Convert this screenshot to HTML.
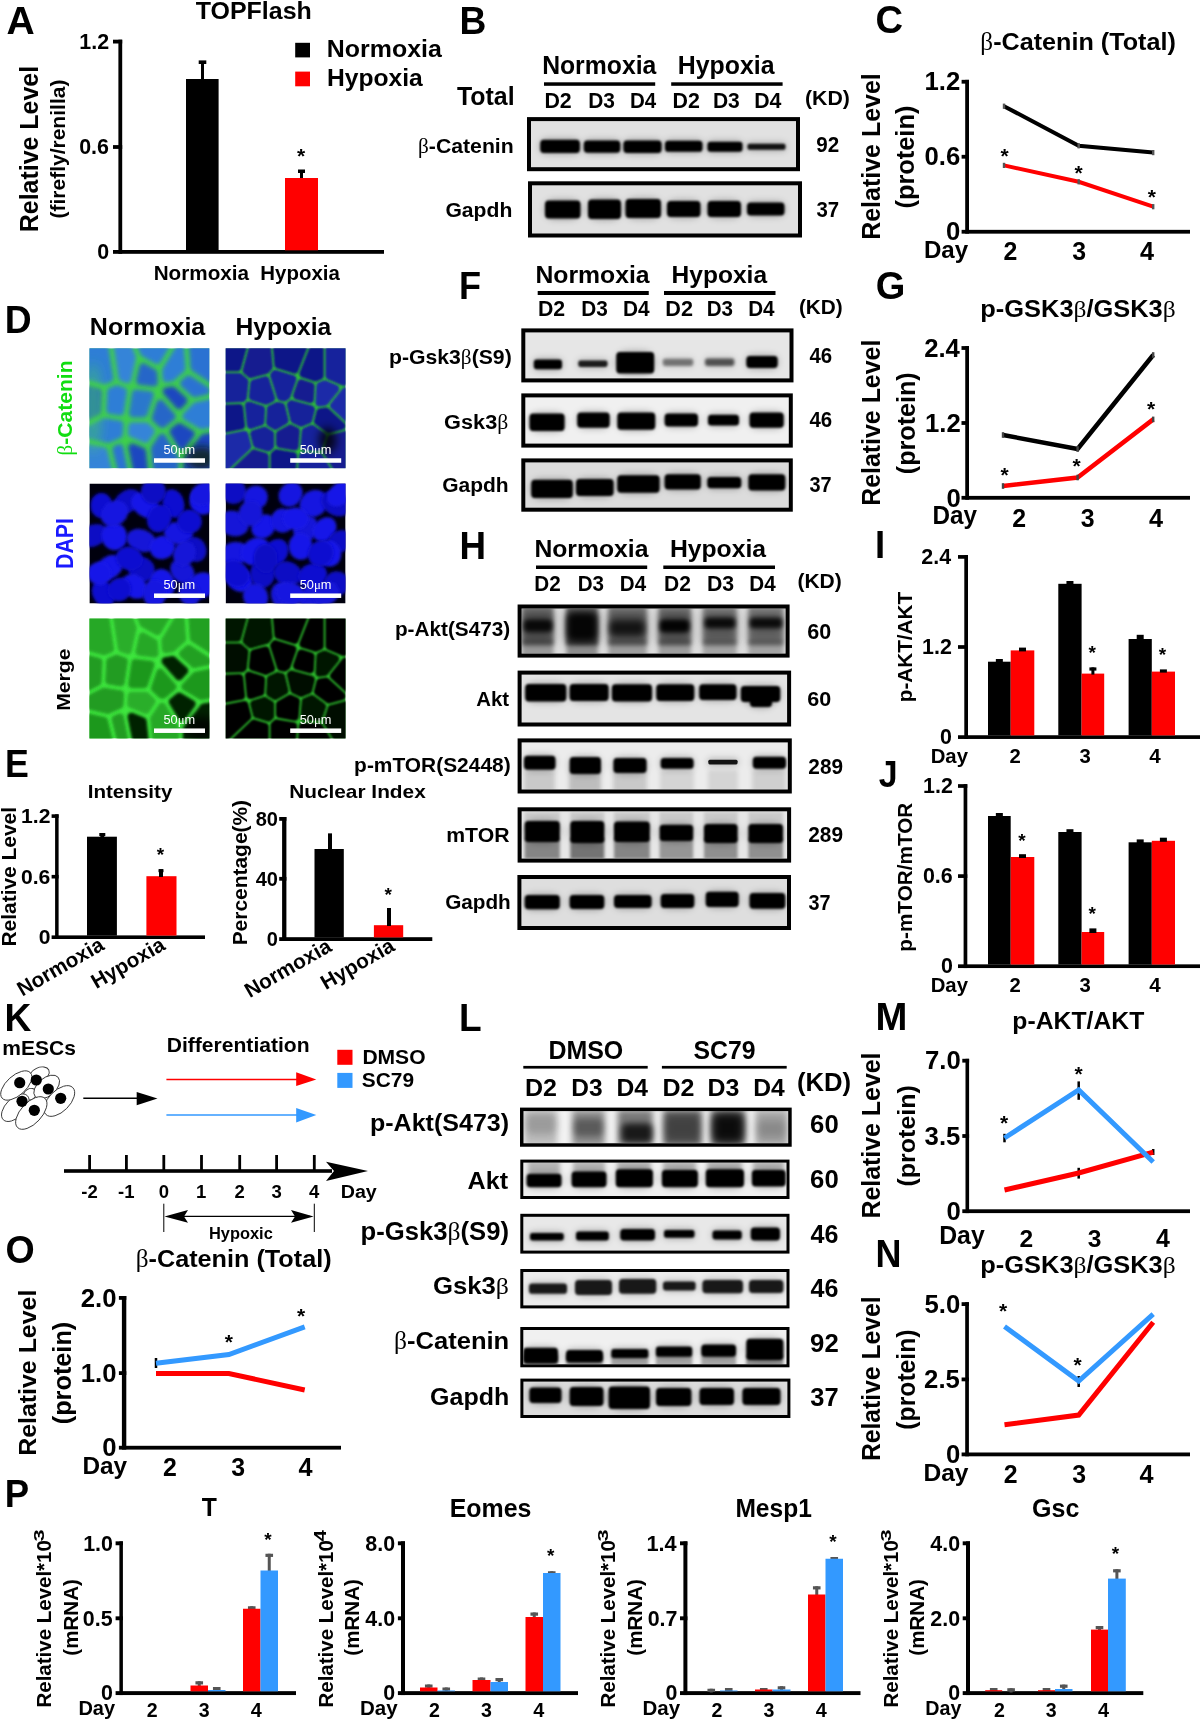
<!DOCTYPE html>
<html><head><meta charset="utf-8"><style>html,body{margin:0;padding:0;background:#fff;width:1200px;height:1721px;overflow:hidden}svg{display:block;will-change:transform}text{white-space:pre}</style></head>
<body><svg width="1200" height="1721" viewBox="0 0 1200 1721"><defs><filter id="f06" x="-50%" y="-150%" width="200%" height="400%"><feGaussianBlur stdDeviation="0.6"/></filter><filter id="f1" x="-50%" y="-150%" width="200%" height="400%"><feGaussianBlur stdDeviation="1.0"/></filter><filter id="f15" x="-50%" y="-150%" width="200%" height="400%"><feGaussianBlur stdDeviation="1.5"/></filter><filter id="f2" x="-50%" y="-150%" width="200%" height="400%"><feGaussianBlur stdDeviation="2.0"/></filter><filter id="f3" x="-50%" y="-150%" width="200%" height="400%"><feGaussianBlur stdDeviation="3.0"/></filter><filter id="f4" x="-50%" y="-150%" width="200%" height="400%"><feGaussianBlur stdDeviation="4.0"/></filter><filter id="f6" x="-50%" y="-150%" width="200%" height="400%"><feGaussianBlur stdDeviation="6.0"/></filter><clipPath id="c1"><rect x="531" y="121.1" width="265" height="46.099999999999994"/></clipPath><clipPath id="c2"><rect x="532" y="185.3" width="266" height="48.19999999999999"/></clipPath><clipPath id="flbc_n1"><rect x="89.4" y="348.3" width="120" height="120"/></clipPath><clipPath id="flbc_h2"><rect x="225.6" y="348.3" width="120" height="120"/></clipPath><clipPath id="fldapi_n11"><rect x="89.4" y="483.5" width="120" height="120"/></clipPath><clipPath id="fldapi_h12"><rect x="225.6" y="483.5" width="120" height="120"/></clipPath><clipPath id="flmg_n21"><rect x="89.4" y="618.5" width="120" height="120"/></clipPath><clipPath id="flmg_h22"><rect x="225.6" y="618.5" width="120" height="120"/></clipPath><clipPath id="c3"><rect x="525.3" y="332.4" width="264.20000000000005" height="46.0"/></clipPath><clipPath id="c4"><rect x="525.3" y="397.4" width="263.5" height="46.200000000000045"/></clipPath><clipPath id="c5"><rect x="525.3" y="462.4" width="263.5" height="45.30000000000001"/></clipPath><clipPath id="c6"><rect x="521.6" y="608.5" width="264.0" height="45.10000000000002"/></clipPath><clipPath id="c7"><rect x="521.6" y="674.6" width="265.5" height="47.89999999999998"/></clipPath><clipPath id="c8"><rect x="521.6" y="742.4" width="266.19999999999993" height="47.10000000000002"/></clipPath><clipPath id="c9"><rect x="521.6" y="811.3" width="265.5" height="47.30000000000007"/></clipPath><clipPath id="c10"><rect x="521.4" y="879" width="265.6" height="47"/></clipPath><clipPath id="c11"><rect x="523.5" y="1111.1" width="264.70000000000005" height="32.15000000000009"/></clipPath><clipPath id="c12"><rect x="523.3" y="1162.6" width="263.20000000000005" height="33.40000000000009"/></clipPath><clipPath id="c13"><rect x="523.3" y="1216.8" width="263.20000000000005" height="33.799999999999955"/></clipPath><clipPath id="c14"><rect x="523.3" y="1272" width="263.20000000000005" height="33.40000000000009"/></clipPath><clipPath id="c15"><rect x="523.3" y="1330" width="263.20000000000005" height="34.299999999999955"/></clipPath><clipPath id="c16"><rect x="523.4" y="1381.6" width="264.0" height="33.40000000000009"/></clipPath></defs><text x="6.52" y="33.70" font-family="Liberation Sans" font-weight="bold" font-size="39.13" fill="#000" textLength="28.24" lengthAdjust="spacingAndGlyphs">A</text>
<text x="195.75" y="19.00" font-family="Liberation Sans" font-weight="bold" font-size="24.83" fill="#000" textLength="116.04" lengthAdjust="spacingAndGlyphs">TOPFlash</text>
<rect x="118.40" y="39.70" width="3.80" height="214.10" fill="#000" />
<rect x="113.00" y="39.70" width="9.20" height="3.80" fill="#000" />
<rect x="113.00" y="145.10" width="9.20" height="3.80" fill="#000" />
<rect x="113.00" y="250.00" width="271.00" height="3.80" fill="#000" />
<text x="79.27" y="48.80" font-family="Liberation Sans" font-weight="bold" font-size="21.43" fill="#000">1.2</text>
<text x="79.16" y="154.20" font-family="Liberation Sans" font-weight="bold" font-size="21.43" fill="#000">0.6</text>
<text x="97.16" y="259.10" font-family="Liberation Sans" font-weight="bold" font-size="21.43" fill="#000">0</text>
<text x="-1.62" y="0.00" font-family="Liberation Sans" font-weight="bold" font-size="25.86" fill="#000" textLength="166.36" lengthAdjust="spacingAndGlyphs" transform="translate(37.50,230.60) rotate(-90)">Relative Level</text>
<text x="-1.05" y="0.00" font-family="Liberation Sans" font-weight="bold" font-size="20.11" fill="#000" textLength="138.96" lengthAdjust="spacingAndGlyphs" transform="translate(65.18,217.50) rotate(-90)">(firefly/renilla)</text>
<rect x="186.00" y="79.00" width="32.60" height="171.30" fill="#000" />
<rect x="201.00" y="61.00" width="3.00" height="18.00" fill="#000" />
<rect x="198.70" y="60.40" width="7.60" height="3.60" fill="#000" />
<rect x="285.00" y="178.00" width="33.00" height="72.30" fill="#ff0000" />
<rect x="300.00" y="171.00" width="3.00" height="7.00" fill="#000" />
<rect x="298.00" y="169.50" width="7.00" height="3.50" fill="#000" />
<text x="296.90" y="162.60" font-family="Liberation Sans" font-weight="bold" font-size="21.00" fill="#000">*</text>
<rect x="295.20" y="42.80" width="14.80" height="14.60" fill="#000" />
<text x="326.88" y="57.40" font-family="Liberation Sans" font-weight="bold" font-size="23.31" fill="#000" textLength="114.93" lengthAdjust="spacingAndGlyphs">Normoxia</text>
<rect x="295.20" y="71.60" width="14.80" height="14.70" fill="#ff0000" />
<text x="326.90" y="86.20" font-family="Liberation Sans" font-weight="bold" font-size="24.14" fill="#000" textLength="95.86" lengthAdjust="spacingAndGlyphs">Hypoxia</text>
<text x="153.66" y="280.40" font-family="Liberation Sans" font-weight="bold" font-size="20.14" fill="#000" textLength="95.39" lengthAdjust="spacingAndGlyphs">Normoxia</text>
<text x="260.37" y="280.40" font-family="Liberation Sans" font-weight="bold" font-size="20.14" fill="#000" textLength="79.43" lengthAdjust="spacingAndGlyphs">Hypoxia</text>
<text x="459.58" y="33.60" font-family="Liberation Sans" font-weight="bold" font-size="39.42" fill="#000" textLength="26.87" lengthAdjust="spacingAndGlyphs">B</text>
<text x="542.14" y="74.20" font-family="Liberation Sans" font-weight="bold" font-size="25.66" fill="#000" textLength="114.17" lengthAdjust="spacingAndGlyphs">Normoxia</text>
<text x="677.78" y="74.30" font-family="Liberation Sans" font-weight="bold" font-size="25.79" fill="#000" textLength="96.77" lengthAdjust="spacingAndGlyphs">Hypoxia</text>
<rect x="544.00" y="82.30" width="111.20" height="3.50" fill="#000" />
<rect x="671.20" y="82.30" width="111.40" height="3.50" fill="#000" />
<text x="456.95" y="104.90" font-family="Liberation Sans" font-weight="bold" font-size="25.24" fill="#000" textLength="57.68" lengthAdjust="spacingAndGlyphs">Total</text>
<text x="544.41" y="107.70" font-family="Liberation Sans" font-weight="bold" font-size="21.43" fill="#000" textLength="27.32" lengthAdjust="spacingAndGlyphs">D2</text>
<text x="588.24" y="107.70" font-family="Liberation Sans" font-weight="bold" font-size="21.43" fill="#000" textLength="26.76" lengthAdjust="spacingAndGlyphs">D3</text>
<text x="629.91" y="107.70" font-family="Liberation Sans" font-weight="bold" font-size="21.74" fill="#000" textLength="26.26" lengthAdjust="spacingAndGlyphs">D4</text>
<text x="672.61" y="107.70" font-family="Liberation Sans" font-weight="bold" font-size="21.43" fill="#000" textLength="27.32" lengthAdjust="spacingAndGlyphs">D2</text>
<text x="712.93" y="107.70" font-family="Liberation Sans" font-weight="bold" font-size="21.43" fill="#000" textLength="26.87" lengthAdjust="spacingAndGlyphs">D3</text>
<text x="754.21" y="107.70" font-family="Liberation Sans" font-weight="bold" font-size="21.74" fill="#000" textLength="27.26" lengthAdjust="spacingAndGlyphs">D4</text>
<text x="804.94" y="104.68" font-family="Liberation Sans" font-weight="bold" font-size="20.59" fill="#000" textLength="44.89" lengthAdjust="spacingAndGlyphs">(KD)</text>
<rect x="527.00" y="117.10" width="273.00" height="54.10" fill="#000" />
<rect x="531.00" y="121.10" width="265.00" height="46.10" fill="#e1e1e1" />
<g clip-path="url(#c1)"><rect x="539.20" y="138.30" width="41.70" height="16.20" rx="8.10" fill="#000" fill-opacity="0.25" filter="url(#f3)"/><rect x="540.20" y="139.80" width="39.70" height="13.20" rx="3.50" ry="4.00" fill="#000" fill-opacity="1.00" filter="url(#f1)"/><rect x="582.80" y="139.00" width="38.50" height="15.30" rx="7.65" fill="#000" fill-opacity="0.25" filter="url(#f3)"/><rect x="583.80" y="140.50" width="36.50" height="12.30" rx="3.50" ry="4.00" fill="#000" fill-opacity="1.00" filter="url(#f1)"/><rect x="622.40" y="139.00" width="40.20" height="15.50" rx="7.75" fill="#000" fill-opacity="0.25" filter="url(#f3)"/><rect x="623.40" y="140.50" width="38.20" height="12.50" rx="3.50" ry="4.00" fill="#000" fill-opacity="1.00" filter="url(#f1)"/><rect x="664.00" y="139.30" width="39.50" height="14.00" rx="7.00" fill="#000" fill-opacity="0.25" filter="url(#f3)"/><rect x="665.00" y="140.80" width="37.50" height="11.00" rx="3.30" ry="3.63" fill="#000" fill-opacity="1.00" filter="url(#f1)"/><rect x="706.50" y="140.30" width="37.00" height="13.00" rx="6.50" fill="#000" fill-opacity="0.25" filter="url(#f3)"/><rect x="707.50" y="141.80" width="35.00" height="10.00" rx="3.00" ry="3.30" fill="#000" fill-opacity="1.00" filter="url(#f1)"/><rect x="746.50" y="142.30" width="40.00" height="9.00" rx="4.50" fill="#000" fill-opacity="0.23" filter="url(#f3)"/><rect x="747.50" y="143.80" width="38.00" height="6.00" rx="1.80" ry="1.98" fill="#000" fill-opacity="0.90" filter="url(#f1)"/></g>
<rect x="528.00" y="181.30" width="274.00" height="56.20" fill="#000" />
<rect x="532.00" y="185.30" width="266.00" height="48.20" fill="#e1e1e1" />
<g clip-path="url(#c2)"><rect x="544.00" y="199.00" width="37.50" height="21.00" rx="10.50" fill="#000" fill-opacity="0.25" filter="url(#f3)"/><rect x="545.00" y="200.50" width="35.50" height="18.00" rx="3.50" ry="4.00" fill="#000" fill-opacity="1.00" filter="url(#f1)"/><rect x="587.00" y="198.00" width="35.00" height="22.50" rx="11.25" fill="#000" fill-opacity="0.25" filter="url(#f3)"/><rect x="588.00" y="199.50" width="33.00" height="19.50" rx="3.50" ry="4.00" fill="#000" fill-opacity="1.00" filter="url(#f1)"/><rect x="624.50" y="197.50" width="37.50" height="22.00" rx="11.00" fill="#000" fill-opacity="0.25" filter="url(#f3)"/><rect x="625.50" y="199.00" width="35.50" height="19.00" rx="3.50" ry="4.00" fill="#000" fill-opacity="1.00" filter="url(#f1)"/><rect x="666.00" y="199.50" width="35.50" height="19.00" rx="9.50" fill="#000" fill-opacity="0.25" filter="url(#f3)"/><rect x="667.00" y="201.00" width="33.50" height="16.00" rx="3.50" ry="4.00" fill="#000" fill-opacity="1.00" filter="url(#f1)"/><rect x="706.50" y="199.50" width="35.50" height="19.00" rx="9.50" fill="#000" fill-opacity="0.25" filter="url(#f3)"/><rect x="707.50" y="201.00" width="33.50" height="16.00" rx="3.50" ry="4.00" fill="#000" fill-opacity="1.00" filter="url(#f1)"/><rect x="746.00" y="201.00" width="39.50" height="16.00" rx="8.00" fill="#000" fill-opacity="0.25" filter="url(#f3)"/><rect x="747.00" y="202.50" width="37.50" height="13.00" rx="3.50" ry="4.00" fill="#000" fill-opacity="1.00" filter="url(#f1)"/></g>
<text x="418.02" y="153.00" font-family="Liberation Sans" font-weight="bold" font-size="20.69" fill="#000" textLength="95.73" lengthAdjust="spacingAndGlyphs"><tspan font-family="Liberation Serif" font-weight="normal">β</tspan>-Catenin</text>
<text x="445.40" y="216.90" font-family="Liberation Sans" font-weight="bold" font-size="19.86" fill="#000" textLength="66.90" lengthAdjust="spacingAndGlyphs">Gapdh</text>
<text x="816.28" y="151.70" font-family="Liberation Sans" font-weight="bold" font-size="21.43" fill="#000" textLength="22.89" lengthAdjust="spacingAndGlyphs">92</text>
<text x="816.49" y="217.20" font-family="Liberation Sans" font-weight="bold" font-size="21.43" fill="#000" textLength="22.67" lengthAdjust="spacingAndGlyphs">37</text>
<text x="875.47" y="33.00" font-family="Liberation Sans" font-weight="bold" font-size="37.86" fill="#000" textLength="27.56" lengthAdjust="spacingAndGlyphs">C</text>
<text x="980.36" y="50.49" font-family="Liberation Sans" font-weight="bold" font-size="24.26" fill="#000" textLength="195.43" lengthAdjust="spacingAndGlyphs"><tspan font-family="Liberation Serif" font-weight="normal">β</tspan>-Catenin (Total)</text>
<rect x="965.20" y="79.85" width="3.80" height="153.80" fill="#000" />
<rect x="961.60" y="79.85" width="7.40" height="3.80" fill="#000" />
<rect x="961.60" y="154.85" width="7.40" height="3.80" fill="#000" />
<rect x="961.60" y="229.85" width="228.40" height="3.80" fill="#000" />
<text x="924.59" y="90.45" font-family="Liberation Sans" font-weight="bold" font-size="25.71" fill="#000">1.2</text>
<text x="924.46" y="165.45" font-family="Liberation Sans" font-weight="bold" font-size="25.71" fill="#000">0.6</text>
<text x="946.06" y="240.45" font-family="Liberation Sans" font-weight="bold" font-size="25.71" fill="#000">0</text>
<text x="923.93" y="257.50" font-family="Liberation Sans" font-weight="bold" font-size="24.49" fill="#000" textLength="44.28" lengthAdjust="spacingAndGlyphs">Day</text>
<text x="1003.41" y="260.30" font-family="Liberation Sans" font-weight="bold" font-size="24.86" fill="#000">2</text>
<text x="1072.23" y="260.30" font-family="Liberation Sans" font-weight="bold" font-size="24.86" fill="#000">3</text>
<text x="1139.88" y="260.30" font-family="Liberation Sans" font-weight="bold" font-size="25.22" fill="#000">4</text>
<text x="-1.62" y="0.00" font-family="Liberation Sans" font-weight="bold" font-size="25.24" fill="#000" textLength="166.56" lengthAdjust="spacingAndGlyphs" transform="translate(880.00,238.20) rotate(-90)">Relative Level</text>
<text x="-1.27" y="0.00" font-family="Liberation Sans" font-weight="bold" font-size="25.13" fill="#000" textLength="102.93" lengthAdjust="spacingAndGlyphs" transform="translate(914.42,207.30) rotate(-90)">(protein)</text>
<polyline points="1004.00,106.20 1078.70,145.80 1153.20,152.60" fill="none" stroke="#000" stroke-width="4" stroke-linejoin="miter" />
<polyline points="1004.00,165.40 1078.70,181.80 1153.20,206.70" fill="none" stroke="#ff0000" stroke-width="4" stroke-linejoin="miter" />
<rect x="1002.80" y="103.60" width="2.40" height="5.20" fill="#555" />
<rect x="1077.50" y="143.20" width="2.40" height="5.20" fill="#555" />
<rect x="1152.00" y="150.00" width="2.40" height="5.20" fill="#555" />
<rect x="1002.80" y="162.80" width="2.40" height="5.20" fill="#555" />
<rect x="1077.50" y="179.20" width="2.40" height="5.20" fill="#555" />
<rect x="1152.00" y="204.10" width="2.40" height="5.20" fill="#555" />
<text x="1000.40" y="162.60" font-family="Liberation Sans" font-weight="bold" font-size="21.00" fill="#000">*</text>
<text x="1074.61" y="179.60" font-family="Liberation Sans" font-weight="bold" font-size="21.00" fill="#000">*</text>
<text x="1147.70" y="203.60" font-family="Liberation Sans" font-weight="bold" font-size="21.00" fill="#000">*</text>
<text x="4.68" y="333.00" font-family="Liberation Sans" font-weight="bold" font-size="38.84" fill="#000" textLength="26.89" lengthAdjust="spacingAndGlyphs">D</text>
<text x="89.87" y="335.00" font-family="Liberation Sans" font-weight="bold" font-size="24.14" fill="#000" textLength="115.44" lengthAdjust="spacingAndGlyphs">Normoxia</text>
<text x="235.40" y="335.00" font-family="Liberation Sans" font-weight="bold" font-size="24.14" fill="#000" textLength="95.86" lengthAdjust="spacingAndGlyphs">Hypoxia</text>
<g clip-path="url(#flbc_n1)"><rect x="89.40" y="348.30" width="120.00" height="120.00" fill="#3fd04a" /><polygon points="107.5,339.1 107.4,338.7 107.3,338.3 107.1,337.9 106.9,337.6 106.7,337.3 106.4,336.9 106.1,336.7 105.8,336.4 105.5,336.2 105.1,336.0 104.7,335.9 104.3,335.8 103.9,335.7 103.5,335.7 80.8,335.7 80.4,335.7 80.0,335.8 79.6,335.9 79.3,336.0 78.9,336.2 78.6,336.4 78.3,336.6 78.0,336.9 77.7,337.2 77.5,337.5 77.3,337.8 77.1,338.2 77.0,338.5 76.9,338.9 76.8,339.3 76.8,339.7 76.8,374.2 76.8,374.7 76.9,375.1 77.0,375.4 77.1,375.8 77.3,376.2 77.5,376.5 77.8,376.8 78.0,377.1 78.3,377.4 78.7,377.6 79.0,377.8 79.4,378.0 79.8,378.1 103.1,384.3 103.4,384.4 103.8,384.4 104.2,384.5 104.5,384.4 104.9,384.4 105.3,384.3 105.6,384.1 111.0,381.9 111.3,381.7 111.7,381.5 112.0,381.3 112.3,381.1 112.5,380.8 112.7,380.5 112.9,380.2 113.1,379.8 113.2,379.5 113.3,379.1 113.4,378.7 113.4,378.4 113.4,378.0 113.4,377.6" fill="#2f7ed6" fill-opacity="1" filter="url(#f2)"/><polygon points="118.3,378.1 118.4,378.5 118.5,378.8 118.7,379.2 118.9,379.5 119.1,379.9 119.3,380.2 119.6,380.4 119.9,380.7 120.2,380.9 120.5,381.1 120.9,381.2 126.0,383.1 126.4,383.3 126.8,383.3 127.2,383.4 127.6,383.4 128.0,383.3 128.4,383.3 128.7,383.1 129.1,383.0 129.5,382.8 129.8,382.6 130.1,382.3 130.4,382.0 130.6,381.7 130.9,381.4 131.0,381.0 131.2,380.6 131.3,380.2 136.1,358.6 136.2,358.3 136.2,357.9 136.2,357.5 136.1,357.1 136.0,356.7 135.9,356.3 129.0,338.3 128.8,337.9 128.6,337.5 128.4,337.2 128.1,336.9 127.8,336.6 127.5,336.4 127.2,336.2 126.8,336.0 126.4,335.9 126.0,335.8 125.6,335.7 125.2,335.7 116.5,335.7 116.1,335.7 115.7,335.8 115.3,335.9 115.0,336.0 114.6,336.1 114.3,336.3 114.0,336.6 113.7,336.8 113.4,337.1 113.2,337.4 113.0,337.7 112.8,338.1 112.7,338.4 112.6,338.8 112.5,339.2 112.5,339.5 112.5,339.9 112.5,340.3" fill="#3584d8" fill-opacity="1" filter="url(#f2)"/><polygon points="157.2,372.6 157.2,372.2 157.1,371.8 157.0,371.4 156.8,371.1 156.6,370.7 156.4,370.4 156.1,370.1 155.9,369.8 155.6,369.6 155.2,369.4 145.2,363.7 144.8,363.5 144.5,363.3 144.1,363.2 143.7,363.2 143.3,363.1 142.9,363.1 142.5,363.2 142.2,363.3 141.8,363.4 141.4,363.6 141.1,363.8 140.8,364.0 140.5,364.2 140.2,364.5 139.9,364.8 139.7,365.2 139.6,365.5 139.4,365.9 139.3,366.3 136.2,380.1 136.2,380.5 136.1,380.9 136.1,381.3 136.2,381.7 136.3,382.1 136.4,382.4 136.6,382.8 136.8,383.1 137.0,383.5 137.3,383.8 137.5,384.0 137.9,384.3 138.2,384.5 138.5,384.7 138.9,384.8 139.3,384.9 139.7,385.0 153.5,386.5 153.9,386.6 154.3,386.5 154.6,386.5 155.0,386.4 155.4,386.3 155.7,386.1 156.1,385.9 156.4,385.7 156.7,385.4 157.0,385.2 157.2,384.9 157.4,384.5 157.6,384.2 157.7,383.8 157.8,383.4 157.9,383.1 157.9,382.7 157.9,382.3" fill="#2866c8" fill-opacity="1" filter="url(#f2)"/><polygon points="162.5,368.5 162.3,368.9 162.1,369.2 162.0,369.6 161.9,370.0 161.9,370.4 161.9,370.8 162.5,378.7 162.5,379.1 162.6,379.4 162.7,379.8 162.9,380.2 163.1,380.5 163.3,380.8 163.6,381.1 163.8,381.4 164.1,381.6 164.5,381.9 164.8,382.0 165.2,382.2 165.6,382.3 166.0,382.4 166.3,382.4 166.7,382.4 167.1,382.3 172.1,381.5 172.5,381.4 172.9,381.3 173.2,381.2 173.5,381.0 173.9,380.8 174.1,380.5 184.2,371.6 184.5,371.3 184.8,371.0 185.0,370.6 185.2,370.3 185.3,369.9 185.5,369.5 185.5,369.1 185.6,368.7 185.6,368.3 184.1,346.7 184.0,346.3 183.9,345.9 183.8,345.5 183.7,345.2 183.5,344.8 183.3,344.5 183.0,344.2 182.7,343.9 182.4,343.7 182.1,343.5 181.8,343.3 181.4,343.2 181.0,343.0 180.6,343.0 180.2,342.9 179.9,342.9 179.5,343.0 179.1,343.1 178.7,343.2 178.4,343.3 178.0,343.5 177.7,343.7 177.4,344.0 177.1,344.3 176.9,344.6 176.7,344.9" fill="#2f7ed6" fill-opacity="1" filter="url(#f2)"/><polygon points="215.8,386.4 216.2,386.6 216.5,386.7 216.9,386.9 217.3,387.0 217.6,387.0 218.0,387.0 218.4,387.0 218.8,386.9 219.2,386.9 219.6,386.7 219.9,386.5 220.2,386.3 220.6,386.1 220.8,385.8 221.1,385.6 221.3,385.2 221.5,384.9 221.7,384.6 221.8,384.2 221.9,383.8 222.0,383.4 222.0,383.0 222.0,339.7 222.0,339.3 221.9,338.9 221.8,338.5 221.7,338.2 221.5,337.8 221.3,337.5 221.1,337.2 220.8,336.9 220.5,336.6 220.2,336.4 219.9,336.2 219.5,336.0 219.2,335.9 218.8,335.8 218.4,335.7 218.0,335.7 192.4,335.7 192.0,335.7 191.6,335.8 191.3,335.9 190.9,336.0 190.6,336.2 190.2,336.4 189.9,336.6 189.6,336.8 189.4,337.1 189.1,337.4 188.9,337.7 188.7,338.1 188.6,338.5 188.5,338.8 188.4,339.2 188.4,339.6 188.4,340.0 190.3,367.9 190.4,368.3 190.5,368.7 190.6,369.1 190.8,369.5 191.0,369.9 191.2,370.2 191.5,370.5 191.8,370.8 192.2,371.0" fill="#2a72d2" fill-opacity="1" filter="url(#f2)"/><polygon points="81.8,383.6 81.5,383.6 81.1,383.5 80.7,383.5 80.3,383.5 79.9,383.6 79.6,383.7 79.2,383.8 78.8,384.0 78.5,384.2 78.2,384.4 77.9,384.7 77.7,385.0 77.5,385.3 77.3,385.6 77.1,386.0 77.0,386.4 76.9,386.7 76.8,387.1 76.8,387.5 76.8,419.4 76.8,419.8 76.9,420.2 77.0,420.6 77.1,421.0 77.3,421.3 77.5,421.6 77.7,422.0 77.9,422.2 78.2,422.5 78.5,422.7 78.9,422.9 79.2,423.1 79.6,423.3 79.9,423.4 80.3,423.4 80.7,423.4 81.1,423.4 81.5,423.4 81.9,423.3 82.2,423.2 82.6,423.0 98.8,414.9 99.1,414.7 99.4,414.5 99.7,414.3 100.0,414.0 100.2,413.7 100.4,413.4 100.6,413.0 100.8,412.7 100.9,412.3 100.9,411.9 101.0,411.5 101.9,392.2 101.9,391.9 101.9,391.5 101.8,391.1 101.7,390.7 101.5,390.4 101.4,390.0 101.1,389.7 100.9,389.4 100.6,389.1 100.3,388.9 100.0,388.7 99.7,388.5 99.3,388.3 98.9,388.2" fill="#2866c8" fill-opacity="1" filter="url(#f2)"/><polygon points="109.2,387.9 108.8,388.0 108.5,388.2 108.2,388.5 107.9,388.8 107.6,389.1 107.4,389.4 107.2,389.8 107.0,390.2 106.9,390.5 106.8,390.9 106.8,391.4 105.9,409.8 105.9,410.2 105.9,410.6 106.0,411.0 106.1,411.3 106.2,411.7 106.4,412.0 106.6,412.4 106.9,412.7 107.2,412.9 107.5,413.2 107.8,413.4 108.1,413.6 108.5,413.7 108.9,413.9 109.2,413.9 119.6,415.6 119.9,415.6 120.3,415.7 120.7,415.6 121.1,415.5 121.5,415.4 121.9,415.3 122.2,415.1 122.6,414.9 122.9,414.6 123.1,414.4 123.4,414.0 123.6,413.7 123.8,413.4 124.0,413.0 124.1,412.6 124.1,412.2 127.1,392.1 127.2,391.7 127.2,391.3 127.1,390.9 127.1,390.5 127.0,390.1 126.8,389.8 126.6,389.4 126.4,389.1 126.2,388.8 125.9,388.5 125.6,388.3 125.3,388.1 124.9,387.9 124.6,387.7 118.1,385.3 117.7,385.2 117.3,385.1 117.0,385.1 116.6,385.1 116.2,385.1 115.8,385.1 115.5,385.2 115.1,385.4" fill="#2f7ed6" fill-opacity="1" filter="url(#f2)"/><polygon points="128.9,412.8 128.9,413.2 128.9,413.6 128.9,414.0 129.0,414.4 129.1,414.8 129.3,415.2 129.5,415.5 129.7,415.9 130.0,416.2 130.3,416.4 130.6,416.7 130.9,416.9 131.3,417.1 131.7,417.2 132.1,417.3 132.5,417.4 132.9,417.4 143.6,417.4 144.0,417.4 144.4,417.3 144.8,417.2 145.1,417.1 145.5,416.9 145.8,416.8 146.1,416.5 146.4,416.3 146.7,416.0 146.9,415.7 147.1,415.4 147.3,415.0 147.4,414.7 153.6,396.2 153.7,395.9 153.7,395.5 153.8,395.1 153.8,394.7 153.7,394.3 153.6,393.9 153.5,393.5 153.3,393.2 153.1,392.8 152.9,392.5 152.6,392.2 152.4,391.9 152.0,391.7 151.7,391.5 151.4,391.3 151.0,391.2 150.6,391.1 150.2,391.0 136.3,389.4 135.9,389.4 135.5,389.4 135.1,389.4 134.8,389.5 134.4,389.6 134.1,389.8 133.7,390.0 133.4,390.2 133.1,390.5 132.8,390.7 132.6,391.0 132.4,391.4 132.2,391.7 132.1,392.0 132.0,392.4 131.9,392.8" fill="#2a78cc" fill-opacity="1" filter="url(#f2)"/><polygon points="174.3,419.6 174.6,419.3 174.8,419.0 175.1,418.7 175.3,418.4 175.4,418.0 175.6,417.6 175.7,417.2 175.7,416.8 175.7,416.4 175.7,416.1 175.6,415.7 175.5,415.3 175.4,414.9 175.2,414.5 175.0,414.2 174.7,413.9 163.4,400.9 163.1,400.7 162.8,400.4 162.5,400.2 162.1,400.0 161.8,399.8 161.4,399.7 161.0,399.6 160.6,399.6 160.2,399.6 159.8,399.6 159.4,399.7 159.0,399.8 158.7,400.0 158.3,400.2 158.0,400.4 157.7,400.6 157.4,400.9 157.1,401.2 156.9,401.6 156.7,401.9 156.6,402.3 151.8,416.7 151.7,417.1 151.6,417.4 151.6,417.8 151.6,418.2 151.6,418.6 151.7,418.9 151.8,419.3 152.0,419.6 152.1,420.0 152.3,420.3 152.6,420.6 152.8,420.9 159.0,426.8 159.3,427.0 159.6,427.3 160.0,427.5 160.3,427.6 160.7,427.7 161.0,427.8 161.4,427.9 161.8,427.9 162.9,427.9 163.3,427.9 163.7,427.8 164.1,427.7 164.4,427.6 164.8,427.4 165.1,427.2 165.4,427.0" fill="#2866c8" fill-opacity="1" filter="url(#f2)"/><polygon points="166.0,387.4 165.6,387.5 165.3,387.6 164.9,387.7 164.6,387.9 164.3,388.1 164.0,388.4 163.7,388.7 163.5,389.0 163.2,389.3 163.1,389.6 162.9,390.0 162.8,390.3 162.7,390.7 162.7,391.1 162.7,391.5 162.7,391.9 162.8,392.3 162.9,392.6 163.0,393.0 163.2,393.3 163.4,393.7 163.7,394.0 176.0,408.0 176.2,408.3 176.5,408.6 176.9,408.8 177.2,409.0 177.6,409.1 177.9,409.2 178.3,409.3 178.7,409.4 179.1,409.4 179.5,409.3 179.9,409.3 180.3,409.2 180.6,409.0 181.0,408.9 181.3,408.6 181.6,408.4 181.9,408.1 186.4,403.3 186.6,403.0 186.9,402.7 187.1,402.4 187.2,402.0 187.3,401.6 187.4,401.2 187.5,400.8 187.5,400.4 187.4,400.1 187.4,399.7 187.3,399.3 187.1,398.9 186.9,398.6 186.7,398.2 186.5,397.9 186.2,397.6 175.0,387.4 174.7,387.2 174.4,387.0 174.0,386.8 173.7,386.6 173.3,386.5 172.9,386.4 172.5,386.4 172.1,386.4 171.7,386.4" fill="#1e46c0" fill-opacity="1" filter="url(#f2)"/><polygon points="183.4,413.6 183.1,413.9 182.9,414.2 182.7,414.5 182.5,414.9 182.4,415.3 182.3,415.7 182.3,416.1 182.3,416.5 182.3,416.9 182.4,417.3 182.5,417.6 182.6,418.0 182.8,418.4 183.1,418.7 183.3,419.0 183.6,419.3 183.9,419.5 184.2,419.8 199.4,428.7 199.8,428.9 200.2,429.1 200.5,429.2 200.9,429.3 201.3,429.3 201.7,429.3 202.1,429.2 218.7,426.5 219.0,426.4 219.4,426.3 219.8,426.1 220.1,425.9 220.5,425.7 220.8,425.4 221.1,425.1 221.3,424.8 221.5,424.5 221.7,424.1 221.8,423.7 221.9,423.3 222.0,422.9 222.0,422.5 222.0,401.4 222.0,401.0 221.9,400.6 221.8,400.2 221.7,399.8 221.5,399.5 221.3,399.1 221.1,398.8 220.8,398.5 220.5,398.2 220.2,398.0 219.9,397.8 219.5,397.6 219.1,397.5 218.7,397.4 218.3,397.4 217.9,397.4 217.6,397.4 217.2,397.4 195.0,402.2 194.6,402.3 194.3,402.4 193.9,402.6 193.6,402.8 193.3,403.1 193.0,403.4" fill="#2f7ed6" fill-opacity="1" filter="url(#f2)"/><polygon points="80.3,429.5 79.9,429.7 79.6,430.0 79.3,430.2 79.1,430.5 78.8,430.8 78.6,431.1 78.4,431.5 78.3,431.8 78.2,432.2 78.1,432.6 78.1,433.0 78.1,433.4 78.1,433.8 78.2,434.2 78.3,434.5 78.5,434.9 78.7,435.2 78.9,435.6 79.2,435.9 79.4,436.1 79.8,436.4 80.1,436.6 80.4,436.8 80.8,436.9 81.2,437.0 107.2,443.0 107.6,443.1 108.0,443.1 108.3,443.1 108.7,443.1 109.1,443.0 109.4,442.9 109.8,442.8 120.6,437.9 120.9,437.7 121.3,437.5 121.6,437.2 121.9,436.9 122.1,436.6 122.3,436.3 122.5,436.0 122.7,435.6 122.8,435.2 122.9,434.9 122.9,434.5 123.5,424.8 123.5,424.4 123.5,424.0 123.4,423.6 123.3,423.2 123.2,422.9 123.0,422.5 122.8,422.2 122.5,421.9 122.3,421.6 122.0,421.3 121.6,421.1 121.3,420.9 120.9,420.8 120.6,420.6 120.2,420.6 104.9,418.1 104.4,418.1 104.0,418.0 103.6,418.1 103.2,418.2 102.8,418.3 102.4,418.5" fill="#2f7ed6" fill-opacity="1" filter="url(#f2)"/><polygon points="148.4,423.3 148.1,423.1 147.8,422.8 147.5,422.6 147.2,422.5 146.8,422.4 146.4,422.3 146.0,422.2 145.7,422.2 132.3,422.2 131.9,422.2 131.5,422.3 131.1,422.4 130.7,422.5 130.3,422.7 130.0,422.9 129.7,423.2 129.4,423.4 129.1,423.7 128.9,424.1 128.7,424.4 128.5,424.8 128.4,425.2 128.3,425.6 128.3,426.0 127.8,433.1 127.8,433.5 127.8,433.9 127.9,434.3 128.0,434.6 128.1,435.0 128.3,435.3 128.5,435.7 128.8,436.0 129.0,436.2 129.3,436.5 129.6,436.7 129.9,436.9 130.3,437.1 144.2,442.8 144.5,442.9 144.9,443.0 145.3,443.1 145.7,443.1 146.1,443.1 146.5,443.0 146.9,442.9 147.2,442.8 147.6,442.6 147.9,442.4 148.2,442.2 148.5,441.9 148.8,441.6 149.0,441.3 154.3,433.4 154.5,433.1 154.6,432.7 154.8,432.4 154.9,432.0 154.9,431.6 154.9,431.2 154.9,430.8 154.8,430.4 154.7,430.0 154.6,429.6 154.4,429.3 154.2,428.9 154.0,428.6 153.7,428.3" fill="#3584d8" fill-opacity="1" filter="url(#f2)"/><polygon points="133.9,443.7 133.5,443.6 133.1,443.5 132.7,443.5 132.3,443.4 132.0,443.5 131.6,443.5 131.2,443.6 130.8,443.7 130.5,443.9 130.1,444.1 129.8,444.3 129.5,444.6 129.3,444.9 129.0,445.2 128.8,445.6 128.7,445.9 128.5,446.3 128.4,446.7 128.4,447.1 128.4,447.4 128.4,447.8 128.4,448.2 134.3,477.7 134.4,478.1 134.6,478.4 134.7,478.8 134.9,479.1 135.2,479.4 135.4,479.7 135.7,480.0 136.0,480.2 136.4,480.4 136.7,480.6 137.1,480.7 137.5,480.8 137.9,480.9 138.2,480.9 144.9,480.9 145.3,480.9 145.7,480.8 146.0,480.7 146.4,480.6 146.8,480.4 147.1,480.2 147.4,480.0 147.7,479.7 148.0,479.4 148.2,479.1 148.4,478.8 148.6,478.4 148.7,478.0 148.8,477.7 148.9,477.3 148.9,476.9 148.8,476.5 146.1,451.0 146.1,450.7 146.0,450.3 145.8,449.9 145.7,449.6 145.5,449.2 145.2,448.9 145.0,448.6 144.7,448.4 144.4,448.1 144.0,447.9 143.7,447.8" fill="#1e46c0" fill-opacity="1" filter="url(#f2)"/><polygon points="165.5,435.5 165.3,435.2 165.1,434.9 164.8,434.6 164.5,434.4 164.2,434.1 163.8,434.0 163.5,433.8 163.1,433.7 162.8,433.6 162.4,433.6 162.0,433.6 161.6,433.6 161.2,433.6 160.9,433.7 160.5,433.9 160.2,434.1 159.8,434.3 159.5,434.5 159.2,434.7 159.0,435.0 158.8,435.3 151.4,446.4 151.2,446.7 151.0,447.1 150.9,447.5 150.8,447.9 150.7,448.3 150.7,448.7 150.7,449.0 153.8,477.3 153.8,477.7 153.9,478.1 154.1,478.5 154.2,478.8 154.4,479.1 154.7,479.5 154.9,479.7 155.2,480.0 155.5,480.2 155.9,480.4 156.2,480.6 156.6,480.7 157.0,480.8 157.4,480.9 157.7,480.9 174.1,480.9 174.5,480.9 174.9,480.8 175.3,480.7 175.7,480.6 176.0,480.4 176.4,480.2 176.7,479.9 177.0,479.7 177.2,479.3 177.5,479.0 177.7,478.7 177.8,478.3 177.9,477.9 178.0,477.5 178.1,477.1 179.0,459.3 179.0,458.9 178.9,458.5 178.9,458.1 178.8,457.7 178.6,457.3 178.4,457.0" fill="#2866c8" fill-opacity="1" filter="url(#f2)"/><polygon points="178.6,448.0 178.8,448.3 179.1,448.6 179.3,448.9 179.6,449.1 180.0,449.3 180.3,449.5 180.7,449.7 181.1,449.8 181.4,449.9 181.8,449.9 182.2,449.9 182.6,449.9 183.0,449.8 183.4,449.7 183.7,449.5 184.1,449.3 184.4,449.1 184.7,448.9 185.0,448.6 185.2,448.3 194.1,436.3 194.3,435.9 194.5,435.6 194.6,435.2 194.8,434.9 194.8,434.5 194.9,434.1 194.9,433.7 194.8,433.3 194.8,432.9 194.6,432.5 194.5,432.2 194.3,431.8 194.1,431.5 193.8,431.2 193.5,430.9 193.2,430.7 192.9,430.5 181.2,423.5 180.9,423.4 180.5,423.2 180.2,423.1 179.8,423.0 179.4,423.0 179.0,423.0 178.7,423.0 178.3,423.1 177.9,423.2 177.6,423.3 177.2,423.5 176.9,423.7 176.6,423.9 170.9,428.6 170.7,428.9 170.4,429.2 170.1,429.5 169.9,429.9 169.8,430.3 169.7,430.6 169.6,431.0 169.5,431.4 169.5,431.8 169.5,432.2 169.6,432.6 169.7,433.0 169.9,433.4 170.1,433.8" fill="#1e46c0" fill-opacity="1" filter="url(#f2)"/><polygon points="182.9,476.7 182.9,477.1 182.9,477.5 183.0,477.8 183.1,478.2 183.3,478.6 183.4,478.9 183.6,479.2 183.9,479.5 184.1,479.8 184.4,480.0 184.7,480.3 185.1,480.5 185.4,480.6 185.8,480.7 186.1,480.8 186.5,480.9 186.9,480.9 218.0,480.9 218.4,480.9 218.8,480.8 219.2,480.7 219.5,480.6 219.9,480.4 220.2,480.2 220.5,480.0 220.8,479.7 221.1,479.4 221.3,479.1 221.5,478.8 221.7,478.4 221.8,478.1 221.9,477.7 222.0,477.3 222.0,476.9 222.0,435.5 222.0,435.1 221.9,434.8 221.8,434.4 221.7,434.0 221.5,433.7 221.3,433.3 221.1,433.0 220.9,432.7 220.6,432.5 220.3,432.2 220.0,432.0 219.6,431.9 219.2,431.7 218.9,431.6 218.5,431.6 218.1,431.5 217.7,431.5 217.3,431.6 203.2,433.9 202.8,434.0 202.4,434.1 202.1,434.3 201.8,434.5 201.4,434.7 201.1,434.9 200.9,435.2 200.6,435.5 184.6,457.3 184.3,457.6 184.2,458.0 184.0,458.3 183.9,458.7 183.8,459.1 183.8,459.5" fill="#1e46c0" fill-opacity="1" filter="url(#f2)"/><polygon points="81.7,442.1 81.3,442.0 80.9,442.0 80.5,442.0 80.1,442.0 79.7,442.1 79.3,442.2 79.0,442.4 78.6,442.6 78.3,442.8 78.0,443.1 77.7,443.4 77.5,443.7 77.3,444.0 77.1,444.4 77.0,444.8 76.9,445.2 76.8,445.6 76.8,446.0 76.8,476.9 76.8,477.3 76.9,477.7 77.0,478.1 77.1,478.4 77.3,478.8 77.5,479.1 77.7,479.4 78.0,479.7 78.3,480.0 78.6,480.2 78.9,480.4 79.3,480.6 79.6,480.7 80.0,480.8 80.4,480.9 80.8,480.9 110.0,480.9 110.4,480.9 110.8,480.8 111.1,480.7 111.5,480.6 111.9,480.4 112.2,480.2 112.5,479.9 112.8,479.7 113.1,479.4 113.3,479.0 113.5,478.7 113.7,478.3 113.8,477.9 113.9,477.5 113.9,477.1 113.9,476.7 113.9,476.3 113.8,475.9 107.4,450.2 107.3,449.9 107.1,449.5 107.0,449.1 106.7,448.8 106.5,448.5 106.2,448.2 105.9,448.0 105.5,447.7 105.2,447.6 104.8,447.4 104.4,447.3" fill="#3584d8" fill-opacity="1" filter="url(#f2)"/><polygon points="123.3,447.3 123.2,446.9 123.1,446.5 122.9,446.1 122.7,445.8 122.5,445.5 122.2,445.2 121.9,444.9 121.6,444.7 121.2,444.5 120.9,444.3 120.5,444.2 120.1,444.1 119.7,444.1 119.3,444.0 118.9,444.1 118.5,444.1 118.1,444.3 117.8,444.4 114.6,445.8 114.3,446.0 113.9,446.2 113.6,446.5 113.4,446.8 113.1,447.1 112.9,447.4 112.7,447.7 112.5,448.1 112.4,448.5 112.3,448.9 112.3,449.3 112.3,449.7 112.3,450.1 112.4,450.4 119.3,477.9 119.4,478.2 119.5,478.6 119.7,478.9 119.9,479.2 120.1,479.5 120.4,479.8 120.7,480.1 121.0,480.3 121.3,480.5 121.7,480.6 122.0,480.7 122.4,480.8 122.8,480.9 123.1,480.9 125.2,480.9 125.6,480.9 126.0,480.8 126.4,480.7 126.7,480.6 127.1,480.4 127.4,480.2 127.7,480.0 128.0,479.7 128.3,479.4 128.5,479.1 128.7,478.8 128.9,478.4 129.0,478.1 129.1,477.7 129.2,477.3 129.2,476.9 129.2,476.5 129.1,476.1" fill="#2a72d2" fill-opacity="1" filter="url(#f2)"/><polygon points="140.3,354.3 140.4,354.6 140.6,355.0 140.8,355.3 141.1,355.6 141.4,355.9 141.7,356.1 142.0,356.3 155.1,363.8 155.5,364.0 155.8,364.1 156.2,364.2 156.6,364.3 157.0,364.3 157.4,364.3 157.7,364.3 158.1,364.2 158.5,364.1 158.9,363.9 159.2,363.8 159.5,363.5 159.8,363.3 160.1,363.0 160.3,362.7 160.5,362.4 172.9,341.8 173.1,341.4 173.3,341.1 173.4,340.7 173.4,340.3 173.5,339.9 173.5,339.6 173.5,339.2 173.4,338.8 173.3,338.4 173.2,338.1 173.0,337.7 172.8,337.4 172.5,337.1 172.3,336.8 172.0,336.6 171.7,336.3 171.3,336.2 171.0,336.0 170.6,335.9 170.3,335.8 169.9,335.7 169.5,335.7 138.9,335.7 138.6,335.7 138.2,335.8 137.8,335.9 137.4,336.0 137.1,336.2 136.8,336.4 136.4,336.6 136.1,336.8 135.9,337.1 135.7,337.4 135.4,337.8 135.3,338.1 135.1,338.5 135.0,338.8 135.0,339.2 135.0,339.6 135.0,340.0 135.0,340.4 135.1,340.8 135.2,341.1" fill="#2f7ed6" fill-opacity="1" filter="url(#f2)"/><polygon points="207.2,394.7 207.6,394.6 208.0,394.4 208.3,394.3 208.7,394.0 209.0,393.8 209.3,393.5 209.5,393.2 209.8,392.9 209.9,392.6 210.1,392.2 210.2,391.9 210.3,391.5 210.4,391.1 210.4,390.7 210.4,390.3 210.3,389.9 210.2,389.5 210.1,389.2 209.9,388.8 209.7,388.5 209.5,388.2 209.2,387.9 208.9,387.6 208.6,387.4 191.0,376.0 190.6,375.7 190.2,375.6 189.9,375.5 189.5,375.4 189.1,375.3 188.7,375.3 188.3,375.3 187.9,375.4 187.5,375.5 187.1,375.7 186.8,375.8 186.4,376.1 186.1,376.3 181.3,380.6 181.0,380.9 180.7,381.2 180.5,381.5 180.3,381.9 180.2,382.3 180.0,382.6 180.0,383.0 179.9,383.4 179.9,383.8 180.0,384.2 180.0,384.6 180.1,385.0 180.3,385.3 180.5,385.7 180.7,386.0 180.9,386.3 181.2,386.6 191.8,396.3 192.1,396.5 192.4,396.7 192.7,396.9 193.1,397.1 193.4,397.2 193.8,397.3 194.2,397.3 194.6,397.3 194.9,397.3 195.3,397.2" fill="#2a72d2" fill-opacity="1" filter="url(#f2)"/><ellipse cx="93.4" cy="408.3" rx="8" ry="45" fill="#44d844" fill-opacity="0.45" filter="url(#f6)"/><ellipse cx="201.4" cy="458.3" rx="16" ry="12" fill="#0a200a" fill-opacity="0.8" filter="url(#f4)"/></g>
<rect x="154.00" y="458.25" width="51.00" height="4.50" fill="#fff" />
<text x="163.49" y="453.50" font-family="Liberation Sans" font-weight="normal" font-size="12.14" fill="#fff" textLength="31.80" lengthAdjust="spacingAndGlyphs">50<tspan font-family="Liberation Serif" font-weight="normal">μ</tspan>m</text>
<g clip-path="url(#flbc_h2)"><rect x="225.60" y="348.30" width="120.00" height="120.00" fill="#30c038" /><polygon points="237.4,371.5 237.8,371.5 238.2,371.4 238.6,371.3 239.0,371.2 239.3,371.0 239.7,370.8 240.0,370.6 240.3,370.3 240.5,370.0 240.8,369.6 241.0,369.3 241.1,368.9 241.2,368.6 249.3,339.2 249.3,338.8 249.4,338.4 249.4,338.0 249.4,337.6 249.3,337.2 249.2,336.9 249.1,336.5 248.9,336.2 248.7,335.8 248.5,335.5 248.2,335.2 247.9,335.0 247.6,334.8 247.3,334.6 246.9,334.4 246.6,334.3 246.2,334.2 245.8,334.1 245.4,334.1 215.4,334.1 215.0,334.1 214.6,334.2 214.2,334.3 213.9,334.4 213.5,334.6 213.2,334.8 212.9,335.0 212.6,335.3 212.3,335.6 212.1,335.9 211.9,336.2 211.7,336.6 211.6,336.9 211.5,337.3 211.4,337.7 211.4,338.1 211.4,367.5 211.4,367.9 211.5,368.3 211.6,368.7 211.7,369.0 211.9,369.4 212.1,369.7 212.3,370.0 212.6,370.3 212.9,370.6 213.2,370.8 213.5,371.0 213.9,371.2 214.2,371.3 214.6,371.4 215.0,371.5 215.4,371.5" fill="#0e1888" fill-opacity="1" filter="url(#f1)"/><polygon points="242.6,369.6 242.5,369.9 242.5,370.3 242.5,370.7 242.5,371.1 242.6,371.4 242.7,371.8 242.8,372.2 243.0,372.5 243.2,372.8 243.4,373.1 243.6,373.4 243.9,373.7 248.2,377.3 248.5,377.5 248.8,377.7 249.2,377.9 249.6,378.1 249.9,378.2 250.3,378.2 250.7,378.2 251.1,378.2 251.5,378.2 251.9,378.1 267.0,373.9 267.4,373.8 267.8,373.6 268.1,373.4 268.5,373.2 268.8,372.9 269.0,372.7 271.8,369.4 272.1,369.0 272.3,368.7 272.5,368.3 272.6,368.0 272.7,367.6 272.8,367.2 272.8,366.8 272.8,366.4 270.3,337.8 270.3,337.4 270.2,337.0 270.0,336.6 269.9,336.2 269.7,335.9 269.4,335.6 269.2,335.3 268.9,335.0 268.6,334.8 268.2,334.6 267.9,334.4 267.5,334.3 267.1,334.2 266.7,334.1 266.3,334.1 255.4,334.1 255.0,334.1 254.6,334.2 254.2,334.3 253.8,334.4 253.4,334.6 253.1,334.8 252.8,335.0 252.5,335.3 252.2,335.6 252.0,336.0 251.8,336.3 251.6,336.7 251.5,337.0" fill="#121e90" fill-opacity="1" filter="url(#f1)"/><polygon points="310.7,339.6 310.9,339.2 310.9,338.8 311.0,338.4 311.0,338.0 311.0,337.6 310.9,337.3 310.8,336.9 310.7,336.5 310.5,336.2 310.3,335.8 310.1,335.5 309.8,335.2 309.5,335.0 309.2,334.8 308.9,334.6 308.5,334.4 308.2,334.3 307.8,334.2 307.4,334.1 307.0,334.1 276.0,334.1 275.6,334.1 275.2,334.2 274.8,334.3 274.5,334.4 274.1,334.6 273.8,334.8 273.5,335.0 273.2,335.3 272.9,335.5 272.7,335.9 272.5,336.2 272.3,336.5 272.2,336.9 272.1,337.3 272.0,337.7 272.0,338.1 272.0,338.4 274.3,365.1 274.3,365.4 274.4,365.8 274.5,366.2 274.7,366.6 274.9,366.9 275.1,367.2 275.4,367.5 275.7,367.8 276.0,368.0 276.3,368.2 276.7,368.4 277.1,368.5 293.4,373.6 293.8,373.7 294.2,373.7 294.6,373.7 295.0,373.7 295.4,373.7 295.8,373.6 296.2,373.4 296.5,373.3 296.9,373.0 297.2,372.8 297.5,372.5 297.7,372.2 298.0,371.9 298.2,371.6 298.3,371.2" fill="#0e1888" fill-opacity="1" filter="url(#f1)"/><polygon points="299.6,372.3 299.5,372.7 299.4,373.0 299.4,373.4 299.4,373.8 299.4,374.2 299.4,374.6 299.5,374.9 299.7,375.3 299.8,375.7 300.0,376.0 300.3,376.3 300.5,376.6 300.8,376.8 301.1,377.1 301.4,377.3 301.8,377.4 302.1,377.6 314.2,381.4 314.6,381.5 315.0,381.6 315.4,381.6 315.8,381.6 316.2,381.6 316.6,381.5 317.0,381.3 321.4,379.5 321.7,379.3 322.0,379.1 322.4,378.9 322.6,378.6 322.9,378.3 323.1,378.0 323.3,377.7 323.5,377.3 323.6,376.9 323.7,376.6 323.8,376.2 323.8,375.8 323.8,338.1 323.8,337.7 323.7,337.3 323.6,336.9 323.5,336.6 323.3,336.2 323.1,335.9 322.9,335.6 322.6,335.3 322.3,335.0 322.0,334.8 321.7,334.6 321.3,334.4 321.0,334.3 320.6,334.2 320.2,334.1 319.8,334.1 317.3,334.1 316.9,334.1 316.5,334.2 316.1,334.3 315.8,334.4 315.4,334.6 315.1,334.8 314.7,335.0 314.4,335.3 314.2,335.6 313.9,335.9 313.7,336.3 313.6,336.6" fill="#0e1888" fill-opacity="1" filter="url(#f1)"/><polygon points="325.4,375.8 325.4,376.2 325.5,376.6 325.6,376.9 325.7,377.3 325.9,377.7 326.1,378.0 326.3,378.3 326.6,378.6 326.8,378.9 327.2,379.1 327.5,379.3 327.8,379.5 342.1,385.5 342.5,385.7 342.9,385.8 343.3,385.8 343.7,385.8 344.1,385.8 356.2,384.5 356.6,384.5 357.0,384.4 357.4,384.2 357.7,384.1 358.0,383.9 358.3,383.6 358.6,383.4 358.9,383.1 359.1,382.8 359.3,382.4 359.5,382.1 359.6,381.7 359.7,381.3 359.8,380.9 359.8,380.6 359.8,338.1 359.8,337.7 359.7,337.3 359.6,336.9 359.5,336.6 359.3,336.2 359.1,335.9 358.9,335.6 358.6,335.3 358.3,335.0 358.0,334.8 357.7,334.6 357.3,334.4 357.0,334.3 356.6,334.2 356.2,334.1 355.8,334.1 329.4,334.1 329.0,334.1 328.6,334.2 328.2,334.3 327.9,334.4 327.5,334.6 327.2,334.8 326.9,335.0 326.6,335.3 326.3,335.6 326.1,335.9 325.9,336.2 325.7,336.6 325.6,336.9 325.5,337.3 325.4,337.7 325.4,338.1" fill="#16249c" fill-opacity="1" filter="url(#f1)"/><polygon points="248.6,382.0 248.6,381.6 248.6,381.2 248.5,380.8 248.4,380.5 248.3,380.1 248.1,379.7 247.9,379.4 247.7,379.1 247.5,378.8 247.2,378.5 241.9,374.0 241.6,373.8 241.2,373.6 240.9,373.4 240.5,373.3 240.1,373.2 239.7,373.1 239.3,373.1 215.4,373.1 215.0,373.1 214.6,373.2 214.2,373.3 213.9,373.4 213.5,373.6 213.2,373.8 212.9,374.0 212.6,374.3 212.3,374.6 212.1,374.9 211.9,375.2 211.7,375.6 211.6,375.9 211.5,376.3 211.4,376.7 211.4,377.1 211.4,399.1 211.4,399.5 211.5,399.9 211.6,400.3 211.7,400.7 211.9,401.0 212.1,401.4 212.3,401.7 212.6,402.0 212.9,402.3 213.2,402.5 213.6,402.7 214.0,402.9 214.3,403.0 214.7,403.1 215.1,403.1 215.5,403.1 242.1,402.2 242.6,402.2 243.0,402.1 243.4,402.0 243.8,401.8 244.1,401.6 244.5,401.4 245.5,400.6 245.8,400.3 246.1,400.0 246.3,399.7 246.5,399.4 246.7,399.0 246.8,398.6 246.9,398.2 247.0,397.8" fill="#14229a" fill-opacity="1" filter="url(#f1)"/><polygon points="269.3,378.9 269.2,378.6 269.0,378.2 268.8,377.9 268.6,377.6 268.3,377.3 268.0,377.1 267.7,376.8 267.4,376.6 267.1,376.5 266.7,376.3 266.3,376.2 266.0,376.2 265.6,376.2 265.2,376.2 264.8,376.2 264.4,376.3 253.0,379.4 252.6,379.6 252.3,379.7 251.9,379.9 251.6,380.2 251.3,380.4 251.0,380.7 250.8,381.0 250.6,381.4 250.4,381.7 250.3,382.1 250.2,382.5 250.1,382.9 248.8,396.2 248.7,396.6 248.8,396.9 248.8,397.3 248.9,397.7 249.0,398.1 249.2,398.4 249.4,398.8 249.6,399.1 249.9,399.4 250.2,399.6 250.5,399.9 250.8,400.1 251.2,400.2 251.5,400.4 264.6,404.6 265.0,404.7 265.3,404.7 265.7,404.8 266.1,404.7 266.4,404.7 266.8,404.6 267.2,404.5 267.5,404.4 272.9,401.9 273.2,401.7 273.6,401.5 273.9,401.3 274.1,401.0 274.4,400.7 274.6,400.4 274.8,400.1 274.9,399.7 275.1,399.3 275.2,399.0 275.2,398.6 275.2,398.2 275.2,397.8 275.1,397.4 275.0,397.1" fill="#16249c" fill-opacity="1" filter="url(#f1)"/><polygon points="283.4,401.4 283.8,401.5 284.3,401.5 284.7,401.5 285.1,401.4 285.5,401.3 285.8,401.2 286.2,401.0 286.6,400.8 289.0,399.1 289.4,398.9 289.7,398.6 289.9,398.2 290.2,397.9 290.4,397.5 290.5,397.1 296.3,380.5 296.4,380.1 296.5,379.7 296.5,379.3 296.5,378.9 296.5,378.5 296.4,378.1 296.3,377.7 296.1,377.3 295.9,377.0 295.7,376.7 295.4,376.4 295.1,376.1 294.8,375.9 294.5,375.6 294.1,375.5 293.7,375.3 276.5,370.0 276.2,369.9 275.8,369.9 275.4,369.9 275.0,369.9 274.6,369.9 274.2,370.0 273.9,370.1 273.5,370.3 273.2,370.5 272.9,370.7 272.6,371.0 272.3,371.3 271.0,372.8 270.8,373.1 270.6,373.5 270.4,373.8 270.2,374.2 270.1,374.6 270.1,375.0 270.1,375.4 270.1,375.8 270.1,376.2 270.2,376.6 277.0,398.0 277.1,398.3 277.3,398.7 277.5,399.0 277.7,399.3 278.0,399.6 278.3,399.8 278.6,400.1 278.9,400.3 279.2,400.4 279.6,400.6 280.0,400.7" fill="#16249c" fill-opacity="1" filter="url(#f1)"/><polygon points="308.9,403.1 309.3,403.2 309.7,403.2 310.1,403.2 310.5,403.2 310.9,403.1 311.3,403.0 311.7,402.9 312.0,402.7 312.3,402.5 312.7,402.2 312.9,402.0 313.2,401.7 313.4,401.3 313.6,401.0 313.8,400.6 313.9,400.2 314.0,399.8 314.0,399.4 314.7,386.4 314.7,386.0 314.6,385.6 314.6,385.2 314.4,384.8 314.3,384.4 314.1,384.1 313.9,383.8 313.6,383.4 313.3,383.2 313.0,382.9 312.7,382.7 312.3,382.5 311.9,382.4 302.5,379.4 302.2,379.3 301.8,379.2 301.4,379.2 301.0,379.2 300.6,379.2 300.2,379.3 299.9,379.5 299.5,379.6 299.2,379.8 298.9,380.0 298.6,380.3 298.3,380.5 298.1,380.8 297.9,381.2 297.7,381.5 297.5,381.9 293.2,394.3 293.1,394.7 293.0,395.1 293.0,395.4 293.0,395.8 293.0,396.2 293.1,396.6 293.2,396.9 293.4,397.3 293.5,397.6 293.7,398.0 294.0,398.3 294.3,398.5 294.5,398.8 294.9,399.0 295.2,399.2 295.5,399.4 295.9,399.5" fill="#121e90" fill-opacity="1" filter="url(#f1)"/><polygon points="315.4,402.4 315.4,402.8 315.5,403.2 315.6,403.6 315.7,404.0 315.8,404.3 316.0,404.7 316.2,405.0 316.5,405.3 316.8,405.6 317.1,405.9 317.4,406.1 317.8,406.3 318.1,406.4 318.5,406.5 318.9,406.6 319.3,406.6 319.7,406.6 320.1,406.6 325.5,405.7 325.9,405.6 326.3,405.5 326.6,405.3 327.0,405.1 327.3,404.8 327.7,404.5 327.9,404.2 338.4,391.2 338.6,390.9 338.8,390.5 339.0,390.2 339.1,389.8 339.2,389.4 339.2,389.1 339.2,388.7 339.2,388.3 339.2,387.9 339.1,387.5 338.9,387.2 338.8,386.8 338.6,386.5 338.3,386.2 338.1,385.9 337.8,385.6 337.5,385.4 337.2,385.2 336.8,385.0 326.2,380.5 325.8,380.4 325.4,380.3 325.0,380.2 324.6,380.2 324.2,380.2 323.8,380.3 323.4,380.4 323.0,380.5 318.8,382.3 318.4,382.5 318.0,382.7 317.7,383.0 317.4,383.2 317.2,383.5 316.9,383.9 316.7,384.2 316.6,384.6 316.4,385.0 316.4,385.4 316.3,385.8" fill="#1a2aa8" fill-opacity="1" filter="url(#f1)"/><polygon points="345.0,387.3 344.6,387.4 344.3,387.5 343.9,387.6 343.5,387.8 343.2,388.0 342.9,388.2 342.6,388.5 342.3,388.8 330.8,403.2 330.6,403.5 330.4,403.8 330.2,404.2 330.1,404.6 330.0,405.0 330.0,405.4 330.0,405.8 330.0,406.2 330.1,406.6 330.2,406.9 330.3,407.3 330.5,407.7 330.7,408.0 331.0,408.3 331.3,408.6 350.8,426.5 351.1,426.8 351.4,427.0 351.8,427.2 352.1,427.3 352.5,427.5 352.9,427.5 353.2,427.6 355.5,427.7 355.9,427.8 356.3,427.7 356.7,427.7 357.0,427.6 357.4,427.4 357.7,427.2 358.1,427.0 358.4,426.8 358.7,426.5 358.9,426.3 359.1,425.9 359.3,425.6 359.5,425.3 359.6,424.9 359.7,424.5 359.8,424.1 359.8,423.8 359.8,390.2 359.8,389.8 359.7,389.4 359.6,389.0 359.5,388.7 359.3,388.3 359.1,388.0 358.9,387.7 358.6,387.4 358.3,387.1 358.0,386.9 357.7,386.7 357.3,386.5 356.9,386.4 356.6,386.3 356.2,386.2 355.8,386.2 355.4,386.2" fill="#1a2aa8" fill-opacity="1" filter="url(#f1)"/><polygon points="215.3,404.7 214.9,404.8 214.5,404.8 214.1,404.9 213.8,405.1 213.4,405.2 213.1,405.4 212.8,405.7 212.5,405.9 212.3,406.2 212.0,406.5 211.9,406.9 211.7,407.2 211.6,407.6 211.5,408.0 211.4,408.3 211.4,408.7 211.4,430.6 211.4,431.0 211.5,431.4 211.6,431.7 211.7,432.1 211.9,432.5 212.1,432.8 212.3,433.1 212.6,433.4 212.9,433.7 213.2,433.9 213.5,434.1 213.9,434.3 214.2,434.4 214.6,434.5 215.0,434.6 215.4,434.6 215.8,434.6 216.2,434.5 241.8,429.6 242.2,429.5 242.6,429.4 242.9,429.2 243.3,429.0 243.6,428.8 243.9,428.5 244.2,428.2 244.4,427.9 244.6,427.5 244.8,427.2 244.9,426.8 245.0,426.4 245.1,426.1 245.1,425.7 245.1,425.3 243.4,407.5 243.3,407.1 243.2,406.8 243.1,406.4 242.9,406.0 242.7,405.7 242.4,405.4 242.2,405.1 241.9,404.8 241.5,404.6 241.2,404.4 240.8,404.2 240.4,404.1 240.1,404.0 239.7,403.9 239.3,403.9" fill="#0e1888" fill-opacity="1" filter="url(#f1)"/><polygon points="250.0,401.6 249.6,401.5 249.2,401.4 248.8,401.4 248.4,401.4 248.1,401.4 247.7,401.5 247.3,401.7 246.9,401.8 246.6,402.0 246.3,402.3 246.0,402.5 245.7,402.8 245.5,403.1 245.3,403.5 245.1,403.8 245.0,404.2 244.9,404.6 244.8,405.0 244.8,405.4 244.8,405.8 246.7,425.3 246.7,425.7 246.8,426.1 247.0,426.5 247.1,426.8 247.3,427.2 247.6,427.5 247.8,427.8 248.1,428.1 248.4,428.3 248.8,428.5 249.1,428.7 249.5,428.8 249.9,428.9 250.3,428.9 250.7,429.0 251.1,428.9 251.5,428.9 251.9,428.8 261.8,425.6 262.1,425.5 262.5,425.3 262.8,425.1 263.2,424.8 263.5,424.6 263.7,424.2 263.9,423.9 264.1,423.6 264.3,423.2 264.4,422.8 264.5,422.4 264.5,422.0 265.2,409.5 265.2,409.1 265.1,408.7 265.0,408.3 264.9,408.0 264.8,407.6 264.6,407.2 264.3,406.9 264.1,406.6 263.8,406.3 263.5,406.1 263.1,405.9 262.8,405.7 262.4,405.5" fill="#16249c" fill-opacity="1" filter="url(#f1)"/><polygon points="269.1,405.4 268.8,405.6 268.4,405.8 268.1,406.1 267.8,406.3 267.6,406.6 267.4,407.0 267.2,407.3 267.0,407.7 266.9,408.1 266.8,408.4 266.8,408.8 266.1,422.6 266.1,423.0 266.1,423.4 266.2,423.7 266.3,424.1 266.5,424.5 266.7,424.8 266.9,425.1 267.1,425.4 267.4,425.7 267.7,426.0 268.0,426.2 273.1,429.3 273.4,429.5 273.8,429.7 274.2,429.8 274.5,429.9 274.9,429.9 275.3,429.9 275.7,429.9 276.1,429.8 276.5,429.7 276.8,429.6 277.2,429.4 286.6,424.0 287.0,423.8 287.3,423.5 287.6,423.3 287.8,423.0 288.1,422.6 288.2,422.3 288.4,421.9 288.5,421.6 288.6,421.2 288.6,420.8 288.7,420.4 288.6,420.0 288.5,419.6 285.2,405.8 285.1,405.4 285.0,405.0 284.8,404.6 284.5,404.3 284.3,404.0 284.0,403.7 283.7,403.5 283.3,403.2 283.0,403.0 282.6,402.9 282.2,402.8 278.5,402.0 278.1,401.9 277.7,401.9 277.4,401.9 277.0,401.9 276.6,402.0 276.3,402.1 275.9,402.3" fill="#14229a" fill-opacity="1" filter="url(#f1)"/><polygon points="290.4,420.5 290.5,420.9 290.7,421.2 290.9,421.6 291.1,421.9 291.3,422.2 291.6,422.5 291.9,422.8 292.2,423.0 292.6,423.2 299.4,426.5 299.8,426.6 300.1,426.7 300.5,426.8 300.8,426.9 301.2,426.9 301.6,426.8 302.0,426.8 302.3,426.7 302.7,426.6 309.9,423.6 310.3,423.4 310.6,423.2 310.9,423.0 311.2,422.7 311.4,422.5 311.6,422.2 311.8,421.9 312.0,421.5 312.2,421.2 312.3,420.8 314.9,410.4 314.9,410.1 315.0,409.7 315.0,409.3 314.9,408.9 314.9,408.5 314.8,408.2 314.6,407.8 314.4,407.5 314.2,407.1 314.0,406.8 313.7,406.6 313.4,406.3 313.1,406.1 312.8,405.9 312.4,405.7 312.1,405.6 292.7,400.2 292.3,400.2 292.0,400.1 291.6,400.1 291.2,400.1 290.8,400.2 290.4,400.3 290.1,400.4 289.7,400.6 289.4,400.8 288.5,401.4 288.1,401.7 287.9,402.0 287.6,402.3 287.4,402.6 287.2,402.9 287.0,403.3 286.9,403.7 286.8,404.1 286.7,404.5 286.7,404.9 286.8,405.3 286.9,405.7" fill="#14229a" fill-opacity="1" filter="url(#f1)"/><polygon points="314.0,420.4 313.9,420.8 313.9,421.2 313.9,421.6 313.9,422.0 314.0,422.4 314.1,422.8 314.3,423.1 314.5,423.5 314.7,423.8 315.0,424.1 315.2,424.4 315.5,424.6 326.5,432.6 326.8,432.8 327.1,433.0 327.5,433.1 327.9,433.2 328.3,433.3 328.7,433.3 329.1,433.3 329.5,433.3 329.8,433.2 342.8,429.7 343.2,429.6 343.6,429.5 343.9,429.3 344.2,429.1 344.5,428.8 344.8,428.5 345.0,428.2 345.3,427.9 345.4,427.6 345.6,427.2 345.7,426.8 345.8,426.4 345.8,426.1 345.8,425.7 345.8,425.3 345.7,424.9 345.6,424.5 345.4,424.2 345.2,423.8 345.0,423.5 344.8,423.2 344.5,422.9 328.6,408.3 328.3,408.1 327.9,407.9 327.6,407.7 327.2,407.5 326.8,407.4 326.4,407.3 326.0,407.3 325.6,407.3 325.2,407.3 319.5,408.3 319.2,408.4 318.8,408.5 318.4,408.6 318.1,408.8 317.8,409.0 317.5,409.3 317.2,409.6 317.0,409.9 316.7,410.2 316.6,410.5 316.4,410.9 316.3,411.3" fill="#0e1888" fill-opacity="1" filter="url(#f1)"/><polygon points="214.6,436.4 214.3,436.5 213.9,436.7 213.5,436.8 213.2,437.0 212.9,437.3 212.6,437.5 212.3,437.8 212.1,438.1 211.9,438.5 211.7,438.8 211.6,439.2 211.5,439.6 211.4,440.0 211.4,440.4 211.4,476.5 211.4,476.9 211.5,477.3 211.6,477.7 211.7,478.0 211.9,478.4 212.1,478.7 212.3,479.0 212.5,479.3 212.8,479.6 213.1,479.8 213.5,480.0 213.8,480.2 214.2,480.3 214.6,480.4 214.9,480.5 215.3,480.5 215.7,480.5 216.1,480.5 216.5,480.4 216.8,480.2 217.2,480.1 217.5,479.9 217.8,479.7 218.1,479.4 250.2,449.3 250.5,449.0 250.7,448.7 250.9,448.3 251.1,448.0 251.2,447.6 251.3,447.3 251.4,446.9 251.5,446.5 251.4,446.1 251.4,445.7 251.3,445.3 248.3,433.8 248.2,433.4 248.0,433.0 247.8,432.7 247.6,432.3 247.3,432.0 247.1,431.8 246.7,431.5 246.4,431.3 246.0,431.1 245.7,431.0 245.3,430.9 244.9,430.8 244.5,430.8 244.1,430.8 243.7,430.8" fill="#1a2aa8" fill-opacity="1" filter="url(#f1)"/><polygon points="252.9,430.1 252.5,430.2 252.2,430.4 251.8,430.6 251.5,430.9 251.2,431.2 251.0,431.5 250.7,431.8 250.5,432.2 250.4,432.5 250.3,432.9 250.2,433.3 250.1,433.7 250.1,434.1 250.2,434.5 250.3,434.9 252.9,445.1 253.0,445.5 253.2,445.9 253.4,446.2 253.6,446.5 253.9,446.8 254.2,447.1 254.5,447.4 254.9,447.6 255.2,447.8 255.6,447.9 267.2,451.4 267.6,451.5 268.0,451.6 268.3,451.6 268.7,451.6 269.1,451.5 269.4,451.5 269.8,451.3 270.1,451.2 270.5,451.0 270.8,450.8 271.1,450.6 273.0,448.8 273.3,448.5 273.5,448.2 273.8,447.8 274.0,447.5 274.1,447.1 274.2,446.7 274.3,446.3 274.3,445.9 274.3,434.2 274.3,433.8 274.2,433.4 274.1,433.0 274.0,432.6 273.8,432.2 273.6,431.9 273.3,431.6 273.0,431.3 272.7,431.0 272.4,430.8 266.6,427.2 266.3,427.0 265.9,426.9 265.6,426.8 265.2,426.7 264.8,426.6 264.4,426.6 264.1,426.6 263.7,426.7 263.3,426.8" fill="#14229a" fill-opacity="1" filter="url(#f1)"/><polygon points="277.9,430.8 277.6,431.0 277.3,431.3 277.0,431.5 276.8,431.8 276.5,432.1 276.3,432.5 276.2,432.8 276.1,433.2 276.0,433.5 275.9,433.9 275.9,434.3 275.9,443.9 275.9,444.3 276.0,444.7 276.1,445.1 276.2,445.5 276.4,445.9 276.6,446.2 276.8,446.5 277.1,446.8 277.4,447.1 277.7,447.3 278.1,447.5 278.4,447.7 278.8,447.8 279.2,447.9 294.0,450.5 294.4,450.5 294.8,450.5 295.2,450.5 295.6,450.4 296.0,450.3 296.3,450.2 296.7,450.0 297.0,449.8 297.3,449.5 297.6,449.3 297.9,449.0 298.1,448.7 298.3,448.3 298.4,448.0 298.6,447.6 298.6,447.2 298.7,446.8 299.9,431.3 299.9,430.9 299.9,430.5 299.9,430.1 299.7,429.8 299.6,429.4 299.4,429.0 299.2,428.7 299.0,428.4 298.7,428.1 298.4,427.8 298.0,427.6 297.7,427.4 292.1,424.7 291.7,424.6 291.4,424.5 291.0,424.4 290.6,424.3 290.2,424.3 289.8,424.4 289.4,424.4 289.1,424.5 288.7,424.7 288.4,424.9" fill="#121e90" fill-opacity="1" filter="url(#f1)"/><polygon points="300.3,446.3 300.3,446.7 300.4,447.1 300.4,447.5 300.5,447.9 300.7,448.3 300.9,448.7 301.1,449.0 301.3,449.3 301.6,449.6 301.9,449.9 302.3,450.1 302.6,450.3 303.0,450.4 303.4,450.5 303.8,450.6 304.2,450.7 318.4,451.3 318.8,451.3 319.2,451.2 319.6,451.1 319.9,451.0 320.3,450.9 320.6,450.7 321.0,450.5 321.3,450.2 321.6,449.9 321.8,449.6 322.0,449.3 322.2,448.9 322.3,448.5 326.0,437.6 326.1,437.3 326.1,436.9 326.2,436.5 326.2,436.1 326.1,435.7 326.0,435.3 325.9,435.0 325.8,434.6 325.6,434.3 325.4,434.0 325.1,433.7 324.8,433.4 324.5,433.1 314.2,425.6 313.8,425.4 313.5,425.2 313.1,425.0 312.7,424.9 312.3,424.9 311.9,424.8 311.5,424.9 311.1,424.9 310.7,425.0 310.3,425.1 304.0,427.7 303.7,427.9 303.3,428.1 303.0,428.4 302.7,428.6 302.4,428.9 302.2,429.2 302.0,429.6 301.8,429.9 301.7,430.3 301.6,430.7 301.6,431.1" fill="#16249c" fill-opacity="1" filter="url(#f1)"/><polygon points="330.5,434.7 330.2,434.8 329.8,435.0 329.5,435.1 329.1,435.4 328.8,435.6 328.6,435.9 328.3,436.2 328.1,436.6 327.9,436.9 327.8,437.3 323.4,450.4 323.3,450.8 323.2,451.1 323.2,451.5 323.2,451.9 323.3,452.3 323.3,452.7 323.4,453.0 323.6,453.4 323.8,453.7 339.9,480.6 340.1,480.9 340.4,481.2 340.7,481.5 341.0,481.8 341.3,482.0 341.7,482.2 342.1,482.3 342.5,482.4 342.9,482.5 343.3,482.5 355.8,482.5 356.2,482.5 356.6,482.4 357.0,482.3 357.3,482.2 357.7,482.0 358.0,481.8 358.3,481.6 358.6,481.3 358.9,481.0 359.1,480.7 359.3,480.4 359.5,480.0 359.6,479.7 359.7,479.3 359.8,478.9 359.8,478.5 359.8,433.4 359.8,433.0 359.7,432.6 359.6,432.2 359.5,431.8 359.3,431.5 359.1,431.1 358.9,430.8 358.6,430.5 358.3,430.2 358.0,430.0 357.6,429.8 357.3,429.6 356.9,429.5 356.5,429.4 356.1,429.4 352.3,429.1 351.8,429.1 351.4,429.1 350.9,429.2" fill="#121e90" fill-opacity="1" filter="url(#f1)"/><polygon points="268.8,456.6 268.8,456.2 268.7,455.8 268.6,455.4 268.5,455.0 268.3,454.7 268.1,454.3 267.9,454.0 267.6,453.7 267.3,453.5 267.0,453.2 266.7,453.0 266.3,452.9 266.0,452.7 255.2,449.5 254.9,449.4 254.5,449.3 254.1,449.3 253.7,449.3 253.4,449.4 253.0,449.4 252.6,449.6 252.3,449.7 251.9,449.9 251.6,450.1 251.3,450.4 224.6,475.6 224.3,475.9 224.0,476.2 223.8,476.5 223.6,476.9 223.5,477.2 223.4,477.6 223.3,478.0 223.3,478.4 223.3,478.8 223.4,479.2 223.5,479.6 223.6,480.0 223.7,480.3 223.9,480.7 224.2,481.0 224.4,481.3 224.7,481.6 225.0,481.8 225.4,482.0 225.7,482.2 226.1,482.3 226.5,482.4 226.9,482.5 227.3,482.5 264.8,482.5 265.2,482.5 265.6,482.4 266.0,482.3 266.3,482.2 266.7,482.0 267.0,481.8 267.3,481.6 267.6,481.3 267.9,481.0 268.1,480.7 268.3,480.4 268.5,480.0 268.6,479.7 268.7,479.3 268.8,478.9 268.8,478.5" fill="#121e90" fill-opacity="1" filter="url(#f1)"/><polygon points="297.2,456.3 297.2,455.9 297.2,455.5 297.1,455.1 297.0,454.7 296.9,454.4 296.7,454.0 296.5,453.7 296.3,453.4 296.0,453.1 295.7,452.8 295.4,452.6 295.0,452.4 294.7,452.3 294.3,452.1 293.9,452.1 277.3,449.2 276.9,449.1 276.5,449.1 276.1,449.1 275.7,449.2 275.3,449.3 274.9,449.5 274.6,449.7 274.2,449.9 273.9,450.2 271.7,452.2 271.4,452.5 271.2,452.8 270.9,453.1 270.7,453.5 270.6,453.9 270.5,454.3 270.4,454.7 270.4,455.1 270.4,478.5 270.4,478.9 270.5,479.3 270.6,479.7 270.7,480.0 270.9,480.4 271.1,480.7 271.3,481.0 271.6,481.3 271.9,481.6 272.2,481.8 272.5,482.0 272.9,482.2 273.2,482.3 273.6,482.4 274.0,482.5 274.4,482.5 291.6,482.5 292.0,482.5 292.4,482.4 292.8,482.3 293.2,482.2 293.5,482.0 293.9,481.8 294.2,481.6 294.5,481.3 294.8,481.0 295.0,480.7 295.2,480.3 295.4,480.0 295.5,479.6 295.6,479.2 295.6,478.8" fill="#0e1888" fill-opacity="1" filter="url(#f1)"/><polygon points="303.0,452.2 302.6,452.2 302.3,452.2 301.9,452.3 301.5,452.4 301.1,452.6 300.8,452.8 300.5,453.0 300.2,453.2 299.9,453.5 299.7,453.8 299.4,454.1 299.3,454.4 299.1,454.8 299.0,455.2 298.9,455.5 298.9,455.9 297.3,478.2 297.3,478.6 297.3,479.0 297.4,479.4 297.5,479.7 297.6,480.1 297.8,480.4 298.0,480.8 298.2,481.1 298.5,481.4 298.8,481.6 299.1,481.8 299.4,482.0 299.7,482.2 300.1,482.3 300.5,482.4 300.9,482.5 301.3,482.5 332.1,482.5 332.5,482.5 332.9,482.4 333.3,482.3 333.6,482.2 334.0,482.0 334.3,481.9 334.6,481.6 334.9,481.4 335.2,481.1 335.4,480.8 335.6,480.5 335.8,480.1 335.9,479.8 336.0,479.4 336.1,479.0 336.1,478.6 336.1,478.3 336.1,477.9 336.0,477.5 335.9,477.1 335.7,476.8 335.6,476.4 322.6,454.9 322.4,454.5 322.1,454.2 321.8,453.9 321.5,453.7 321.2,453.5 320.9,453.3 320.5,453.1 320.1,453.0 319.7,453.0 319.3,452.9" fill="#16249c" fill-opacity="1" filter="url(#f1)"/><ellipse cx="327.6" cy="440.3" rx="9" ry="13" fill="#000" fill-opacity="0.8" filter="url(#f4)"/></g>
<rect x="290.20" y="458.25" width="51.00" height="4.50" fill="#fff" />
<text x="299.69" y="453.50" font-family="Liberation Sans" font-weight="normal" font-size="12.14" fill="#fff" textLength="31.80" lengthAdjust="spacingAndGlyphs">50<tspan font-family="Liberation Serif" font-weight="normal">μ</tspan>m</text>
<g clip-path="url(#fldapi_n11)"><rect x="89.40" y="483.50" width="120.00" height="120.00" fill="#00000e" /><ellipse cx="101.4" cy="505.5" rx="12.5" ry="10.9" transform="rotate(91 101.4 505.5)" fill="#1010d0" filter="url(#f15)"/><ellipse cx="127.4" cy="501.5" rx="14.7" ry="10.8" transform="rotate(144 127.4 501.5)" fill="#0e0ec4" filter="url(#f15)"/><ellipse cx="145.4" cy="505.5" rx="15.4" ry="11.1" transform="rotate(36 145.4 505.5)" fill="#1616e8" filter="url(#f15)"/><ellipse cx="173.4" cy="503.5" rx="14.5" ry="10.7" transform="rotate(75 173.4 503.5)" fill="#1010d0" filter="url(#f15)"/><ellipse cx="202.4" cy="501.5" rx="13.4" ry="12.8" transform="rotate(55 202.4 501.5)" fill="#1616e8" filter="url(#f15)"/><ellipse cx="93.4" cy="535.5" rx="14.6" ry="10.7" transform="rotate(154 93.4 535.5)" fill="#0e0ec4" filter="url(#f15)"/><ellipse cx="114.4" cy="536.5" rx="13.8" ry="12.7" transform="rotate(82 114.4 536.5)" fill="#1616e8" filter="url(#f15)"/><ellipse cx="141.4" cy="540.5" rx="15.2" ry="11.1" transform="rotate(20 141.4 540.5)" fill="#1212d8" filter="url(#f15)"/><ellipse cx="162.4" cy="547.5" rx="12.8" ry="11.6" transform="rotate(159 162.4 547.5)" fill="#1616e8" filter="url(#f15)"/><ellipse cx="178.4" cy="533.5" rx="14.7" ry="11.0" transform="rotate(15 178.4 533.5)" fill="#1414e0" filter="url(#f15)"/><ellipse cx="195.4" cy="549.5" rx="12.6" ry="10.8" transform="rotate(68 195.4 549.5)" fill="#0e0ec4" filter="url(#f15)"/><ellipse cx="109.4" cy="567.5" rx="14.8" ry="11.0" transform="rotate(143 109.4 567.5)" fill="#1616e8" filter="url(#f15)"/><ellipse cx="141.4" cy="569.5" rx="13.3" ry="12.6" transform="rotate(17 141.4 569.5)" fill="#0e0ec4" filter="url(#f15)"/><ellipse cx="134.4" cy="586.5" rx="13.9" ry="11.1" transform="rotate(40 134.4 586.5)" fill="#1616e8" filter="url(#f15)"/><ellipse cx="162.4" cy="583.5" rx="14.7" ry="12.6" transform="rotate(70 162.4 583.5)" fill="#1616e8" filter="url(#f15)"/><ellipse cx="182.4" cy="571.5" rx="13.5" ry="10.6" transform="rotate(45 182.4 571.5)" fill="#1212d8" filter="url(#f15)"/><ellipse cx="201.4" cy="585.5" rx="14.4" ry="12.5" transform="rotate(143 201.4 585.5)" fill="#1616e8" filter="url(#f15)"/><ellipse cx="103.4" cy="593.5" rx="13.9" ry="10.8" transform="rotate(63 103.4 593.5)" fill="#1010d0" filter="url(#f15)"/><ellipse cx="119.4" cy="589.5" rx="12.1" ry="11.4" transform="rotate(129 119.4 589.5)" fill="#1010d0" filter="url(#f15)"/><ellipse cx="153.4" cy="491.5" rx="12.6" ry="12.4" transform="rotate(102 153.4 491.5)" fill="#0e0ec4" filter="url(#f15)"/><ellipse cx="189.4" cy="521.5" rx="12.4" ry="12.1" transform="rotate(5 189.4 521.5)" fill="#1010d0" filter="url(#f15)"/><ellipse cx="114.4" cy="513.5" rx="14.4" ry="11.9" transform="rotate(143 114.4 513.5)" fill="#1414e0" filter="url(#f15)"/><ellipse cx="159.4" cy="518.5" rx="14.2" ry="12.1" transform="rotate(115 159.4 518.5)" fill="#1010d0" filter="url(#f15)"/><ellipse cx="129.4" cy="558.5" rx="13.7" ry="11.7" transform="rotate(16 129.4 558.5)" fill="#1010d0" filter="url(#f15)"/><ellipse cx="184.4" cy="553.5" rx="12.9" ry="11.1" transform="rotate(114 184.4 553.5)" fill="#1212d8" filter="url(#f15)"/><ellipse cx="154.4" cy="593.5" rx="13.7" ry="11.5" transform="rotate(89 154.4 593.5)" fill="#1414e0" filter="url(#f15)"/><ellipse cx="189.4" cy="593.5" rx="12.5" ry="10.7" transform="rotate(69 189.4 593.5)" fill="#1212d8" filter="url(#f15)"/><ellipse cx="99.4" cy="573.5" rx="12.0" ry="11.4" transform="rotate(11 99.4 573.5)" fill="#1616e8" filter="url(#f15)"/><ellipse cx="204.4" cy="493.5" rx="14.6" ry="10.9" transform="rotate(156 204.4 493.5)" fill="#1414e0" filter="url(#f15)"/></g>
<rect x="154.00" y="593.45" width="51.00" height="4.50" fill="#fff" />
<text x="163.49" y="588.70" font-family="Liberation Sans" font-weight="normal" font-size="12.14" fill="#fff" textLength="31.80" lengthAdjust="spacingAndGlyphs">50<tspan font-family="Liberation Serif" font-weight="normal">μ</tspan>m</text>
<g clip-path="url(#fldapi_h12)"><rect x="225.60" y="483.50" width="120.00" height="120.00" fill="#00000e" /><ellipse cx="233.6" cy="491.5" rx="12.4" ry="12.6" transform="rotate(144 233.6 491.5)" fill="#0e0ec4" filter="url(#f15)"/><ellipse cx="255.6" cy="497.5" rx="12.3" ry="11.7" transform="rotate(149 255.6 497.5)" fill="#1414e0" filter="url(#f15)"/><ellipse cx="290.6" cy="494.5" rx="12.9" ry="11.3" transform="rotate(130 290.6 494.5)" fill="#1414e0" filter="url(#f15)"/><ellipse cx="313.6" cy="503.5" rx="14.9" ry="12.9" transform="rotate(143 313.6 503.5)" fill="#1414e0" filter="url(#f15)"/><ellipse cx="335.6" cy="503.5" rx="15.4" ry="11.8" transform="rotate(34 335.6 503.5)" fill="#0e0ec4" filter="url(#f15)"/><ellipse cx="233.6" cy="523.5" rx="15.4" ry="12.4" transform="rotate(20 233.6 523.5)" fill="#1212d8" filter="url(#f15)"/><ellipse cx="263.6" cy="526.5" rx="13.1" ry="11.1" transform="rotate(137 263.6 526.5)" fill="#1616e8" filter="url(#f15)"/><ellipse cx="282.6" cy="520.5" rx="12.1" ry="11.7" transform="rotate(89 282.6 520.5)" fill="#1414e0" filter="url(#f15)"/><ellipse cx="305.6" cy="528.5" rx="13.7" ry="11.9" transform="rotate(121 305.6 528.5)" fill="#1212d8" filter="url(#f15)"/><ellipse cx="324.6" cy="529.5" rx="13.4" ry="10.6" transform="rotate(130 324.6 529.5)" fill="#1616e8" filter="url(#f15)"/><ellipse cx="339.6" cy="541.5" rx="12.9" ry="10.7" transform="rotate(142 339.6 541.5)" fill="#0e0ec4" filter="url(#f15)"/><ellipse cx="234.6" cy="553.5" rx="15.1" ry="11.4" transform="rotate(169 234.6 553.5)" fill="#1414e0" filter="url(#f15)"/><ellipse cx="255.6" cy="551.5" rx="15.5" ry="13.0" transform="rotate(143 255.6 551.5)" fill="#1616e8" filter="url(#f15)"/><ellipse cx="275.6" cy="552.5" rx="14.5" ry="11.8" transform="rotate(127 275.6 552.5)" fill="#1010d0" filter="url(#f15)"/><ellipse cx="300.6" cy="546.5" rx="13.3" ry="11.9" transform="rotate(85 300.6 546.5)" fill="#1616e8" filter="url(#f15)"/><ellipse cx="328.6" cy="553.5" rx="13.4" ry="12.2" transform="rotate(62 328.6 553.5)" fill="#1616e8" filter="url(#f15)"/><ellipse cx="239.6" cy="579.5" rx="13.7" ry="11.8" transform="rotate(34 239.6 579.5)" fill="#1616e8" filter="url(#f15)"/><ellipse cx="262.6" cy="573.5" rx="14.5" ry="12.4" transform="rotate(92 262.6 573.5)" fill="#0e0ec4" filter="url(#f15)"/><ellipse cx="287.6" cy="573.5" rx="14.6" ry="12.0" transform="rotate(21 287.6 573.5)" fill="#0e0ec4" filter="url(#f15)"/><ellipse cx="312.6" cy="575.5" rx="14.8" ry="12.0" transform="rotate(162 312.6 575.5)" fill="#1010d0" filter="url(#f15)"/><ellipse cx="336.6" cy="583.5" rx="12.2" ry="12.6" transform="rotate(87 336.6 583.5)" fill="#0e0ec4" filter="url(#f15)"/><ellipse cx="255.6" cy="596.5" rx="13.3" ry="12.2" transform="rotate(59 255.6 596.5)" fill="#1414e0" filter="url(#f15)"/><ellipse cx="283.6" cy="596.5" rx="14.9" ry="11.9" transform="rotate(61 283.6 596.5)" fill="#1212d8" filter="url(#f15)"/><ellipse cx="311.6" cy="598.5" rx="15.5" ry="11.3" transform="rotate(105 311.6 598.5)" fill="#1212d8" filter="url(#f15)"/><ellipse cx="250.6" cy="513.5" rx="12.7" ry="11.9" transform="rotate(97 250.6 513.5)" fill="#1212d8" filter="url(#f15)"/><ellipse cx="295.6" cy="518.5" rx="13.0" ry="11.0" transform="rotate(1 295.6 518.5)" fill="#1616e8" filter="url(#f15)"/><ellipse cx="265.6" cy="558.5" rx="14.4" ry="11.9" transform="rotate(87 265.6 558.5)" fill="#0e0ec4" filter="url(#f15)"/><ellipse cx="320.6" cy="553.5" rx="13.5" ry="12.4" transform="rotate(131 320.6 553.5)" fill="#1010d0" filter="url(#f15)"/><ellipse cx="290.6" cy="593.5" rx="15.1" ry="11.0" transform="rotate(17 290.6 593.5)" fill="#1414e0" filter="url(#f15)"/><ellipse cx="325.6" cy="593.5" rx="13.9" ry="11.5" transform="rotate(150 325.6 593.5)" fill="#1212d8" filter="url(#f15)"/><ellipse cx="235.6" cy="573.5" rx="14.7" ry="12.3" transform="rotate(42 235.6 573.5)" fill="#1010d0" filter="url(#f15)"/><ellipse cx="340.6" cy="493.5" rx="15.3" ry="10.5" transform="rotate(139 340.6 493.5)" fill="#1616e8" filter="url(#f15)"/></g>
<rect x="290.20" y="593.45" width="51.00" height="4.50" fill="#fff" />
<text x="299.69" y="588.70" font-family="Liberation Sans" font-weight="normal" font-size="12.14" fill="#fff" textLength="31.80" lengthAdjust="spacingAndGlyphs">50<tspan font-family="Liberation Serif" font-weight="normal">μ</tspan>m</text>
<g clip-path="url(#flmg_n21)"><rect x="89.40" y="618.50" width="120.00" height="120.00" fill="#3ee63e" /><polygon points="108.0,608.7 107.9,608.3 107.8,607.9 107.6,607.5 107.4,607.2 107.2,606.9 106.9,606.5 106.6,606.3 106.3,606.0 106.0,605.8 105.6,605.6 105.2,605.5 104.8,605.4 104.4,605.3 104.0,605.3 80.2,605.3 79.8,605.3 79.4,605.4 79.0,605.5 78.7,605.6 78.3,605.8 78.0,606.0 77.7,606.2 77.4,606.5 77.1,606.8 76.9,607.1 76.7,607.4 76.5,607.8 76.4,608.1 76.3,608.5 76.2,608.9 76.2,609.3 76.2,644.9 76.2,645.3 76.3,645.7 76.4,646.1 76.5,646.5 76.7,646.8 76.9,647.2 77.2,647.5 77.4,647.8 77.7,648.1 78.1,648.3 78.4,648.5 78.8,648.7 79.2,648.8 103.1,655.2 103.5,655.2 103.8,655.3 104.2,655.3 104.6,655.3 105.0,655.2 105.3,655.1 105.7,655.0 111.7,652.5 112.0,652.3 112.3,652.1 112.6,651.9 112.9,651.6 113.2,651.4 113.4,651.1 113.6,650.7 113.8,650.4 113.9,650.0 114.0,649.7 114.1,649.3 114.1,648.9 114.1,648.6 114.1,648.2" fill="#27a827" fill-opacity="1" filter="url(#f15)"/><polygon points="117.8,648.7 117.9,649.1 118.0,649.5 118.1,649.8 118.3,650.2 118.5,650.5 118.8,650.8 119.0,651.1 119.3,651.3 119.7,651.5 120.0,651.7 120.4,651.9 126.4,654.1 126.8,654.3 127.2,654.3 127.6,654.4 128.0,654.4 128.4,654.3 128.8,654.3 129.2,654.1 129.6,654.0 129.9,653.8 130.2,653.6 130.5,653.3 130.8,653.0 131.1,652.7 131.3,652.4 131.5,652.0 131.6,651.6 131.7,651.3 136.7,628.8 136.8,628.4 136.8,628.0 136.8,627.6 136.8,627.2 136.7,626.9 136.5,626.5 129.4,607.9 129.2,607.5 129.0,607.1 128.8,606.8 128.5,606.5 128.2,606.2 127.9,606.0 127.6,605.8 127.2,605.6 126.8,605.5 126.4,605.4 126.0,605.3 125.6,605.3 115.8,605.3 115.4,605.3 115.0,605.4 114.6,605.5 114.3,605.6 113.9,605.7 113.6,605.9 113.3,606.2 113.0,606.4 112.7,606.7 112.5,607.0 112.3,607.3 112.1,607.7 112.0,608.0 111.9,608.4 111.8,608.8 111.8,609.1 111.8,609.5 111.8,609.9" fill="#2aae2a" fill-opacity="1" filter="url(#f15)"/><polygon points="157.8,642.4 157.8,642.0 157.7,641.6 157.5,641.3 157.4,640.9 157.2,640.6 157.0,640.3 156.7,640.0 156.4,639.7 156.1,639.4 155.8,639.2 144.8,632.9 144.4,632.8 144.1,632.6 143.7,632.5 143.3,632.4 142.9,632.4 142.5,632.4 142.1,632.5 141.7,632.6 141.4,632.7 141.0,632.8 140.7,633.0 140.3,633.3 140.0,633.5 139.8,633.8 139.5,634.1 139.3,634.4 139.1,634.8 139.0,635.2 138.9,635.5 135.5,650.8 135.4,651.2 135.4,651.6 135.4,652.0 135.5,652.4 135.6,652.8 135.7,653.2 135.8,653.5 136.0,653.9 136.3,654.2 136.5,654.5 136.8,654.8 137.1,655.0 137.5,655.2 137.8,655.4 138.2,655.5 138.6,655.6 139.0,655.7 154.1,657.4 154.5,657.4 154.9,657.4 155.3,657.4 155.7,657.3 156.0,657.2 156.4,657.0 156.7,656.8 157.1,656.6 157.3,656.3 157.6,656.0 157.9,655.7 158.1,655.4 158.2,655.1 158.4,654.7 158.5,654.3 158.6,653.9 158.6,653.5 158.6,653.2" fill="#27a827" fill-opacity="1" filter="url(#f15)"/><polygon points="161.9,638.6 161.7,638.9 161.5,639.3 161.4,639.7 161.3,640.1 161.3,640.5 161.3,640.9 161.9,649.6 162.0,650.0 162.1,650.3 162.2,650.7 162.3,651.1 162.5,651.4 162.8,651.7 163.0,652.0 163.3,652.3 163.6,652.5 163.9,652.8 164.3,652.9 164.6,653.1 165.0,653.2 165.4,653.3 165.8,653.3 166.2,653.3 166.6,653.2 172.4,652.3 172.8,652.2 173.1,652.1 173.5,651.9 173.8,651.7 174.1,651.5 174.4,651.3 184.8,642.0 185.1,641.7 185.4,641.4 185.6,641.1 185.8,640.7 186.0,640.4 186.1,640.0 186.2,639.6 186.2,639.2 186.2,638.8 184.5,614.9 184.5,614.5 184.4,614.2 184.3,613.8 184.1,613.4 183.9,613.1 183.7,612.8 183.5,612.5 183.2,612.2 182.9,612.0 182.6,611.7 182.2,611.6 181.9,611.4 181.5,611.3 181.1,611.2 180.7,611.2 180.3,611.2 179.9,611.2 179.6,611.3 179.2,611.4 178.8,611.6 178.5,611.8 178.2,612.0 177.9,612.2 177.6,612.5 177.3,612.8 177.1,613.1" fill="#27a827" fill-opacity="1" filter="url(#f15)"/><polygon points="216.4,657.7 216.8,657.9 217.1,658.1 217.5,658.2 217.9,658.3 218.2,658.3 218.6,658.3 219.0,658.3 219.4,658.3 219.8,658.2 220.2,658.0 220.5,657.9 220.8,657.7 221.2,657.4 221.4,657.2 221.7,656.9 221.9,656.5 222.1,656.2 222.3,655.9 222.4,655.5 222.5,655.1 222.6,654.7 222.6,654.3 222.6,609.3 222.6,608.9 222.5,608.5 222.4,608.1 222.3,607.8 222.1,607.4 221.9,607.1 221.7,606.8 221.4,606.5 221.1,606.2 220.8,606.0 220.5,605.8 220.1,605.6 219.8,605.5 219.4,605.4 219.0,605.3 218.6,605.3 191.8,605.3 191.4,605.3 191.0,605.4 190.6,605.5 190.3,605.6 189.9,605.8 189.6,606.0 189.3,606.2 189.0,606.4 188.7,606.7 188.5,607.0 188.3,607.3 188.1,607.7 188.0,608.1 187.9,608.4 187.8,608.8 187.8,609.2 187.8,609.6 189.8,638.5 189.8,638.9 189.9,639.3 190.0,639.7 190.2,640.0 190.4,640.4 190.7,640.7 190.9,641.0 191.2,641.3 191.6,641.5" fill="#22a022" fill-opacity="1" filter="url(#f15)"/><polygon points="81.2,653.1 80.9,653.0 80.5,652.9 80.1,652.9 79.7,652.9 79.3,653.0 79.0,653.1 78.6,653.3 78.2,653.4 77.9,653.6 77.6,653.9 77.3,654.1 77.1,654.4 76.9,654.7 76.7,655.1 76.5,655.4 76.4,655.8 76.3,656.1 76.2,656.5 76.2,656.9 76.2,690.6 76.2,691.0 76.3,691.4 76.4,691.8 76.5,692.1 76.7,692.5 76.9,692.8 77.1,693.1 77.3,693.4 77.6,693.7 77.9,693.9 78.3,694.1 78.6,694.3 79.0,694.4 79.3,694.5 79.7,694.6 80.1,694.6 80.5,694.6 80.9,694.6 81.3,694.5 81.6,694.3 82.0,694.2 99.4,685.5 99.7,685.3 100.0,685.1 100.3,684.8 100.6,684.6 100.8,684.3 101.0,683.9 101.2,683.6 101.3,683.2 101.5,682.9 101.5,682.5 101.6,682.1 102.5,662.0 102.5,661.6 102.5,661.2 102.4,660.8 102.3,660.5 102.2,660.1 102.0,659.8 101.8,659.4 101.5,659.1 101.2,658.9 100.9,658.6 100.6,658.4 100.3,658.2 99.9,658.1 99.6,657.9" fill="#209c20" fill-opacity="1" filter="url(#f15)"/><polygon points="108.6,657.7 108.3,657.8 107.9,658.0 107.6,658.3 107.3,658.6 107.0,658.9 106.8,659.2 106.6,659.6 106.4,659.9 106.3,660.3 106.2,660.7 106.2,661.1 105.2,680.5 105.2,680.9 105.3,681.3 105.4,681.7 105.5,682.0 105.6,682.4 105.8,682.7 106.0,683.1 106.3,683.4 106.5,683.6 106.8,683.9 107.2,684.1 107.5,684.3 107.9,684.4 108.2,684.6 108.6,684.6 120.1,686.5 120.5,686.5 120.8,686.5 121.2,686.5 121.6,686.4 122.0,686.3 122.4,686.2 122.7,686.0 123.1,685.8 123.4,685.5 123.6,685.2 123.9,684.9 124.1,684.6 124.3,684.3 124.5,683.9 124.6,683.5 124.7,683.1 127.8,661.9 127.8,661.5 127.8,661.1 127.8,660.7 127.7,660.3 127.6,659.9 127.5,659.6 127.3,659.2 127.1,658.9 126.8,658.6 126.6,658.3 126.3,658.1 125.9,657.9 125.6,657.7 125.2,657.5 118.1,654.9 117.7,654.7 117.3,654.7 117.0,654.6 116.6,654.6 116.2,654.6 115.8,654.7 115.5,654.8 115.1,654.9" fill="#209c20" fill-opacity="1" filter="url(#f15)"/><polygon points="128.2,683.6 128.2,684.0 128.2,684.4 128.2,684.8 128.3,685.2 128.4,685.6 128.6,686.0 128.8,686.3 129.0,686.7 129.3,687.0 129.6,687.2 129.9,687.5 130.2,687.7 130.6,687.9 131.0,688.0 131.4,688.1 131.8,688.2 132.2,688.2 144.1,688.2 144.4,688.2 144.8,688.1 145.2,688.0 145.6,687.9 145.9,687.7 146.2,687.6 146.5,687.3 146.8,687.1 147.1,686.8 147.3,686.5 147.5,686.2 147.7,685.8 147.8,685.5 154.4,665.9 154.5,665.5 154.5,665.2 154.6,664.8 154.6,664.4 154.5,664.0 154.4,663.6 154.3,663.2 154.1,662.8 153.9,662.5 153.7,662.2 153.5,661.9 153.2,661.6 152.9,661.4 152.5,661.2 152.2,661.0 151.8,660.8 151.4,660.7 151.0,660.7 135.8,658.9 135.4,658.9 135.0,658.9 134.6,659.0 134.3,659.1 133.9,659.2 133.5,659.3 133.2,659.5 132.9,659.7 132.6,660.0 132.3,660.3 132.1,660.6 131.9,660.9 131.7,661.2 131.6,661.6 131.4,662.0 131.4,662.3" fill="#1f981f" fill-opacity="1" filter="url(#f15)"/><polygon points="175.1,689.9 175.4,689.6 175.7,689.3 175.9,689.0 176.1,688.6 176.3,688.3 176.4,687.9 176.5,687.5 176.6,687.1 176.6,686.7 176.6,686.3 176.5,685.9 176.4,685.5 176.2,685.2 176.1,684.8 175.8,684.5 175.6,684.2 163.2,670.0 162.9,669.7 162.6,669.4 162.2,669.2 161.9,669.0 161.5,668.8 161.1,668.7 160.8,668.6 160.4,668.6 160.0,668.6 159.6,668.6 159.2,668.7 158.8,668.8 158.4,669.0 158.1,669.2 157.7,669.4 157.4,669.7 157.1,669.9 156.9,670.3 156.7,670.6 156.5,671.0 156.4,671.3 151.1,687.1 151.0,687.4 150.9,687.8 150.9,688.2 150.9,688.6 150.9,688.9 151.0,689.3 151.1,689.7 151.3,690.0 151.4,690.4 151.6,690.7 151.9,691.0 152.1,691.2 158.8,697.6 159.1,697.8 159.4,698.1 159.7,698.3 160.1,698.4 160.4,698.5 160.8,698.6 161.2,698.7 161.6,698.7 163.1,698.7 163.5,698.7 163.9,698.6 164.3,698.5 164.6,698.4 165.0,698.2 165.3,698.0 165.7,697.8" fill="#1f981f" fill-opacity="1" filter="url(#f15)"/><polygon points="164.9,657.2 164.5,657.2 164.1,657.4 163.8,657.5 163.4,657.7 163.1,657.9 162.8,658.2 162.5,658.4 162.3,658.7 162.1,659.1 161.9,659.4 161.7,659.8 161.6,660.1 161.6,660.5 161.5,660.9 161.5,661.3 161.6,661.7 161.6,662.0 161.7,662.4 161.9,662.8 162.1,663.1 162.3,663.4 162.5,663.7 175.9,679.1 176.2,679.4 176.5,679.6 176.8,679.9 177.2,680.1 177.5,680.2 177.9,680.3 178.3,680.4 178.7,680.5 179.1,680.5 179.5,680.4 179.9,680.4 180.2,680.3 180.6,680.1 181.0,679.9 181.3,679.7 181.6,679.5 181.9,679.2 187.2,673.5 187.5,673.2 187.7,672.9 187.9,672.5 188.1,672.2 188.2,671.8 188.3,671.4 188.3,671.0 188.3,670.6 188.3,670.2 188.2,669.8 188.1,669.5 188.0,669.1 187.8,668.7 187.6,668.4 187.3,668.1 187.0,667.8 175.2,657.0 174.9,656.7 174.6,656.5 174.2,656.3 173.9,656.2 173.5,656.1 173.1,656.0 172.7,655.9 172.3,656.0 171.9,656.0" fill="#062006" fill-opacity="1" filter="url(#f15)"/><polygon points="182.4,683.9 182.1,684.2 181.9,684.5 181.7,684.9 181.6,685.2 181.4,685.6 181.4,686.0 181.3,686.4 181.3,686.8 181.4,687.2 181.4,687.6 181.5,688.0 181.7,688.3 181.9,688.7 182.1,689.0 182.4,689.3 182.6,689.6 182.9,689.9 183.3,690.1 199.3,699.6 199.7,699.8 200.0,699.9 200.4,700.0 200.8,700.1 201.2,700.1 201.6,700.1 202.0,700.1 219.3,697.2 219.6,697.1 220.0,697.0 220.4,696.8 220.7,696.6 221.1,696.4 221.4,696.1 221.7,695.8 221.9,695.5 222.1,695.2 222.3,694.8 222.4,694.4 222.5,694.1 222.6,693.7 222.6,693.3 222.6,670.8 222.6,670.4 222.5,670.0 222.4,669.6 222.3,669.3 222.1,668.9 221.9,668.6 221.7,668.3 221.4,668.0 221.1,667.7 220.8,667.5 220.5,667.3 220.1,667.1 219.7,667.0 219.3,666.9 218.9,666.8 218.5,666.8 218.2,666.8 217.8,666.9 194.7,671.8 194.3,671.9 194.0,672.1 193.6,672.3 193.3,672.5 192.9,672.7 192.7,673.0" fill="#1f981f" fill-opacity="1" filter="url(#f15)"/><polygon points="78.5,699.9 78.2,700.1 77.9,700.4 77.6,700.6 77.3,700.9 77.1,701.2 76.8,701.5 76.7,701.9 76.5,702.3 76.4,702.6 76.3,703.0 76.3,703.4 76.3,703.8 76.4,704.2 76.5,704.6 76.6,705.0 76.7,705.3 76.9,705.7 77.1,706.0 77.4,706.3 77.7,706.5 78.0,706.8 78.3,707.0 78.7,707.2 79.0,707.3 79.4,707.4 107.3,713.9 107.6,713.9 108.0,714.0 108.4,714.0 108.8,713.9 109.1,713.8 109.5,713.7 109.8,713.6 121.2,708.4 121.5,708.3 121.8,708.1 122.1,707.8 122.4,707.5 122.7,707.2 122.9,706.9 123.1,706.6 123.3,706.2 123.4,705.8 123.5,705.4 123.5,705.1 124.2,694.5 124.2,694.1 124.1,693.7 124.1,693.3 124.0,692.9 123.8,692.5 123.6,692.2 123.4,691.9 123.2,691.6 122.9,691.3 122.6,691.0 122.3,690.8 121.9,690.6 121.6,690.5 121.2,690.3 120.8,690.3 104.8,687.7 104.4,687.6 103.9,687.6 103.5,687.7 103.1,687.8 102.7,687.9 102.3,688.0" fill="#209c20" fill-opacity="1" filter="url(#f15)"/><polygon points="148.7,692.9 148.4,692.7 148.1,692.4 147.7,692.2 147.4,692.1 147.0,692.0 146.7,691.9 146.3,691.8 145.9,691.8 131.7,691.8 131.3,691.8 130.9,691.9 130.5,692.0 130.1,692.1 129.8,692.3 129.4,692.5 129.1,692.8 128.8,693.0 128.5,693.3 128.3,693.7 128.1,694.0 128.0,694.4 127.8,694.8 127.7,695.2 127.7,695.6 127.2,703.7 127.2,704.1 127.2,704.5 127.3,704.9 127.4,705.2 127.5,705.6 127.7,705.9 127.9,706.2 128.1,706.5 128.4,706.8 128.7,707.1 129.0,707.3 129.3,707.5 129.7,707.7 144.4,713.7 144.8,713.9 145.1,714.0 145.5,714.0 145.9,714.0 146.3,714.0 146.7,713.9 147.1,713.9 147.4,713.7 147.8,713.6 148.1,713.3 148.5,713.1 148.7,712.9 149.0,712.6 149.2,712.2 155.0,703.6 155.2,703.2 155.4,702.8 155.5,702.5 155.6,702.1 155.7,701.7 155.7,701.3 155.7,700.9 155.6,700.5 155.5,700.1 155.4,699.7 155.2,699.4 155.0,699.0 154.7,698.7 154.5,698.4" fill="#2aae2a" fill-opacity="1" filter="url(#f15)"/><polygon points="133.1,713.0 132.7,712.8 132.3,712.7 131.9,712.7 131.5,712.7 131.1,712.7 130.8,712.7 130.4,712.8 130.0,713.0 129.7,713.1 129.3,713.3 129.0,713.6 128.7,713.8 128.5,714.1 128.2,714.4 128.0,714.8 127.8,715.1 127.7,715.5 127.6,715.9 127.6,716.3 127.5,716.7 127.6,717.1 127.6,717.4 133.8,748.5 133.9,748.9 134.1,749.2 134.2,749.6 134.4,749.9 134.7,750.2 134.9,750.5 135.2,750.8 135.5,751.0 135.9,751.2 136.2,751.4 136.6,751.5 137.0,751.6 137.4,751.7 137.8,751.7 145.5,751.7 145.9,751.7 146.3,751.6 146.7,751.5 147.1,751.4 147.4,751.2 147.8,751.0 148.1,750.8 148.4,750.5 148.6,750.2 148.9,749.9 149.1,749.6 149.2,749.2 149.4,748.8 149.5,748.5 149.5,748.1 149.5,747.7 149.5,747.3 146.7,720.8 146.6,720.4 146.5,720.1 146.4,719.7 146.2,719.3 146.0,719.0 145.8,718.7 145.5,718.4 145.2,718.1 144.9,717.9 144.6,717.7 144.2,717.6" fill="#062006" fill-opacity="1" filter="url(#f15)"/><polygon points="165.5,704.6 165.3,704.3 165.1,704.0 164.8,703.7 164.5,703.4 164.2,703.2 163.9,703.0 163.5,702.9 163.2,702.8 162.8,702.7 162.4,702.6 162.0,702.6 161.6,702.7 161.3,702.7 160.9,702.8 160.5,703.0 160.2,703.1 159.9,703.3 159.6,703.6 159.3,703.8 159.0,704.1 158.8,704.4 150.8,716.5 150.6,716.8 150.4,717.2 150.3,717.5 150.2,717.9 150.1,718.3 150.1,718.7 150.1,719.1 153.2,748.1 153.3,748.5 153.4,748.9 153.5,749.3 153.7,749.6 153.9,749.9 154.1,750.3 154.4,750.5 154.7,750.8 155.0,751.0 155.3,751.2 155.7,751.4 156.0,751.5 156.4,751.6 156.8,751.7 157.2,751.7 174.6,751.7 175.1,751.7 175.5,751.6 175.8,751.5 176.2,751.4 176.6,751.2 176.9,751.0 177.3,750.7 177.5,750.5 177.8,750.1 178.0,749.8 178.2,749.5 178.4,749.1 178.5,748.7 178.6,748.3 178.6,747.9 179.6,729.3 179.6,728.9 179.6,728.5 179.5,728.1 179.4,727.8 179.2,727.4 179.0,727.0" fill="#27a827" fill-opacity="1" filter="url(#f15)"/><polygon points="178.5,719.2 178.8,719.6 179.0,719.9 179.3,720.2 179.6,720.4 179.9,720.6 180.3,720.8 180.6,721.0 181.0,721.1 181.4,721.1 181.8,721.2 182.2,721.2 182.6,721.1 183.0,721.1 183.3,721.0 183.7,720.8 184.0,720.6 184.4,720.4 184.7,720.1 184.9,719.9 185.2,719.6 195.0,706.3 195.2,706.0 195.4,705.6 195.5,705.3 195.6,704.9 195.7,704.5 195.7,704.1 195.7,703.7 195.7,703.3 195.6,702.9 195.5,702.6 195.4,702.2 195.2,701.8 195.0,701.5 194.7,701.2 194.4,700.9 194.1,700.7 193.8,700.5 181.1,693.0 180.8,692.8 180.5,692.7 180.1,692.6 179.7,692.5 179.4,692.5 179.0,692.5 178.6,692.5 178.2,692.6 177.9,692.7 177.5,692.8 177.2,693.0 176.9,693.2 176.6,693.4 170.2,698.7 169.9,699.0 169.6,699.3 169.4,699.6 169.2,700.0 169.0,700.3 168.9,700.7 168.8,701.1 168.7,701.5 168.7,701.9 168.8,702.3 168.8,702.7 169.0,703.1 169.1,703.5 169.3,703.8" fill="#062006" fill-opacity="1" filter="url(#f15)"/><polygon points="182.3,747.5 182.3,747.9 182.3,748.3 182.4,748.6 182.5,749.0 182.6,749.4 182.8,749.7 183.0,750.0 183.2,750.3 183.5,750.6 183.8,750.8 184.1,751.1 184.4,751.3 184.8,751.4 185.1,751.5 185.5,751.6 185.9,751.7 186.3,751.7 218.6,751.7 219.0,751.7 219.4,751.6 219.8,751.5 220.1,751.4 220.5,751.2 220.8,751.0 221.1,750.8 221.4,750.5 221.7,750.2 221.9,749.9 222.1,749.6 222.3,749.2 222.4,748.9 222.5,748.5 222.6,748.1 222.6,747.7 222.6,705.0 222.6,704.6 222.5,704.2 222.4,703.9 222.3,703.5 222.1,703.2 221.9,702.8 221.7,702.5 221.5,702.2 221.2,702.0 220.9,701.7 220.6,701.5 220.2,701.4 219.8,701.2 219.5,701.1 219.1,701.0 218.7,701.0 218.3,701.0 217.9,701.1 202.8,703.6 202.5,703.7 202.1,703.8 201.7,703.9 201.4,704.1 201.1,704.3 200.8,704.6 200.5,704.9 200.3,705.2 184.0,727.3 183.8,727.6 183.6,728.0 183.4,728.3 183.3,728.7 183.2,729.1 183.2,729.5" fill="#062006" fill-opacity="1" filter="url(#f15)"/><polygon points="81.1,711.5 80.7,711.4 80.3,711.4 79.9,711.4 79.5,711.5 79.1,711.6 78.7,711.7 78.4,711.8 78.0,712.0 77.7,712.3 77.4,712.5 77.1,712.8 76.9,713.2 76.7,713.5 76.5,713.9 76.4,714.2 76.3,714.6 76.2,715.0 76.2,715.4 76.2,747.7 76.2,748.1 76.3,748.5 76.4,748.9 76.5,749.2 76.7,749.6 76.9,749.9 77.1,750.2 77.4,750.5 77.7,750.8 78.0,751.0 78.3,751.2 78.7,751.4 79.0,751.5 79.4,751.6 79.8,751.7 80.2,751.7 110.7,751.7 111.1,751.7 111.5,751.6 111.9,751.5 112.3,751.4 112.7,751.2 113.0,751.0 113.3,750.7 113.6,750.5 113.9,750.2 114.1,749.8 114.3,749.5 114.5,749.1 114.6,748.7 114.7,748.3 114.7,747.9 114.7,747.5 114.7,747.1 114.6,746.7 107.9,719.9 107.8,719.6 107.6,719.2 107.4,718.8 107.2,718.5 107.0,718.2 106.7,717.9 106.4,717.7 106.0,717.4 105.7,717.3 105.3,717.1 104.9,717.0" fill="#1f981f" fill-opacity="1" filter="url(#f15)"/><polygon points="123.8,716.6 123.7,716.2 123.6,715.8 123.4,715.5 123.2,715.1 122.9,714.8 122.7,714.5 122.4,714.3 122.0,714.0 121.7,713.8 121.3,713.7 120.9,713.5 120.6,713.4 120.2,713.4 119.8,713.4 119.4,713.4 119.0,713.5 118.6,713.6 118.2,713.7 113.9,715.7 113.6,715.9 113.2,716.1 112.9,716.3 112.7,716.6 112.4,716.9 112.2,717.2 112.0,717.6 111.8,718.0 111.7,718.3 111.6,718.7 111.6,719.1 111.6,719.5 111.6,719.9 111.7,720.3 118.8,748.7 118.9,749.0 119.0,749.4 119.2,749.7 119.4,750.0 119.7,750.3 119.9,750.6 120.2,750.9 120.5,751.1 120.9,751.3 121.2,751.4 121.6,751.5 121.9,751.6 122.3,751.7 122.7,751.7 125.9,751.7 126.3,751.7 126.7,751.6 127.1,751.5 127.5,751.4 127.8,751.2 128.1,751.0 128.5,750.8 128.8,750.5 129.0,750.2 129.3,749.9 129.5,749.6 129.6,749.2 129.8,748.9 129.8,748.5 129.9,748.1 129.9,747.7 129.9,747.3 129.8,746.9" fill="#209c20" fill-opacity="1" filter="url(#f15)"/><polygon points="139.8,624.9 139.9,625.3 140.1,625.6 140.4,625.9 140.6,626.2 140.9,626.5 141.2,626.7 141.5,626.9 155.3,634.8 155.7,635.0 156.0,635.1 156.4,635.2 156.8,635.3 157.2,635.3 157.6,635.3 158.0,635.3 158.3,635.2 158.7,635.1 159.1,635.0 159.4,634.8 159.7,634.6 160.0,634.3 160.3,634.0 160.5,633.7 160.8,633.4 174.0,611.4 174.2,611.0 174.3,610.7 174.4,610.3 174.5,609.9 174.5,609.5 174.6,609.2 174.5,608.8 174.5,608.4 174.3,608.0 174.2,607.7 174.0,607.3 173.8,607.0 173.6,606.7 173.3,606.4 173.0,606.2 172.7,605.9 172.4,605.8 172.1,605.6 171.7,605.5 171.3,605.4 170.9,605.3 170.6,605.3 138.1,605.3 137.7,605.3 137.3,605.4 136.9,605.5 136.6,605.6 136.2,605.8 135.9,606.0 135.6,606.2 135.3,606.4 135.0,606.7 134.8,607.0 134.6,607.4 134.4,607.7 134.3,608.1 134.2,608.4 134.1,608.8 134.1,609.2 134.1,609.6 134.1,610.0 134.2,610.4 134.3,610.7" fill="#27a827" fill-opacity="1" filter="url(#f15)"/><polygon points="208.8,665.2 209.2,665.0 209.5,664.9 209.9,664.7 210.2,664.5 210.5,664.3 210.8,664.0 211.1,663.7 211.3,663.4 211.5,663.1 211.7,662.7 211.8,662.3 211.9,662.0 211.9,661.6 211.9,661.2 211.9,660.8 211.8,660.4 211.7,660.0 211.6,659.7 211.4,659.3 211.2,659.0 211.0,658.7 210.7,658.4 210.4,658.1 210.1,657.9 190.9,645.4 190.6,645.2 190.2,645.0 189.8,644.9 189.4,644.8 189.0,644.8 188.6,644.8 188.2,644.8 187.8,644.9 187.4,645.0 187.1,645.1 186.7,645.3 186.4,645.5 186.1,645.8 180.4,650.8 180.1,651.1 179.8,651.4 179.6,651.7 179.4,652.1 179.3,652.4 179.1,652.8 179.1,653.2 179.0,653.6 179.0,654.0 179.1,654.4 179.1,654.8 179.2,655.1 179.4,655.5 179.6,655.9 179.8,656.2 180.0,656.5 180.3,656.8 191.6,667.1 191.9,667.4 192.2,667.6 192.5,667.8 192.9,667.9 193.2,668.0 193.6,668.1 194.0,668.2 194.4,668.2 194.8,668.1 195.1,668.1" fill="#22a022" fill-opacity="1" filter="url(#f15)"/><ellipse cx="201.4" cy="728.5" rx="16" ry="12" fill="#000" fill-opacity="0.8" filter="url(#f4)"/></g>
<rect x="154.00" y="728.45" width="51.00" height="4.50" fill="#fff" />
<text x="163.49" y="723.70" font-family="Liberation Sans" font-weight="normal" font-size="12.14" fill="#fff" textLength="31.80" lengthAdjust="spacingAndGlyphs">50<tspan font-family="Liberation Serif" font-weight="normal">μ</tspan>m</text>
<g clip-path="url(#flmg_h22)"><rect x="225.60" y="618.50" width="120.00" height="120.00" fill="#2cc02c" /><polygon points="237.4,641.7 237.8,641.7 238.2,641.6 238.6,641.5 239.0,641.4 239.3,641.2 239.7,641.0 240.0,640.8 240.3,640.5 240.5,640.2 240.8,639.8 241.0,639.5 241.1,639.1 241.2,638.8 249.3,609.4 249.3,609.0 249.4,608.6 249.4,608.2 249.4,607.8 249.3,607.4 249.2,607.1 249.1,606.7 248.9,606.4 248.7,606.0 248.5,605.7 248.2,605.4 247.9,605.2 247.6,605.0 247.3,604.8 246.9,604.6 246.6,604.5 246.2,604.4 245.8,604.3 245.4,604.3 215.4,604.3 215.0,604.3 214.6,604.4 214.2,604.5 213.9,604.6 213.5,604.8 213.2,605.0 212.9,605.2 212.6,605.5 212.3,605.8 212.1,606.1 211.9,606.4 211.7,606.8 211.6,607.1 211.5,607.5 211.4,607.9 211.4,608.3 211.4,637.7 211.4,638.1 211.5,638.5 211.6,638.9 211.7,639.2 211.9,639.6 212.1,639.9 212.3,640.2 212.6,640.5 212.9,640.8 213.2,641.0 213.5,641.2 213.9,641.4 214.2,641.5 214.6,641.6 215.0,641.7 215.4,641.7" fill="#061206" fill-opacity="1" filter="url(#f1)"/><polygon points="242.6,639.8 242.5,640.1 242.5,640.5 242.5,640.9 242.5,641.3 242.6,641.6 242.7,642.0 242.8,642.4 243.0,642.7 243.2,643.0 243.4,643.3 243.6,643.6 243.9,643.9 248.2,647.5 248.5,647.7 248.8,647.9 249.2,648.1 249.6,648.3 249.9,648.4 250.3,648.4 250.7,648.4 251.1,648.4 251.5,648.4 251.9,648.3 267.0,644.1 267.4,644.0 267.8,643.8 268.1,643.6 268.5,643.4 268.8,643.1 269.0,642.9 271.8,639.6 272.1,639.2 272.3,638.9 272.5,638.5 272.6,638.2 272.7,637.8 272.8,637.4 272.8,637.0 272.8,636.6 270.3,608.0 270.3,607.6 270.2,607.2 270.0,606.8 269.9,606.4 269.7,606.1 269.4,605.8 269.2,605.5 268.9,605.2 268.6,605.0 268.2,604.8 267.9,604.6 267.5,604.5 267.1,604.4 266.7,604.3 266.3,604.3 255.4,604.3 255.0,604.3 254.6,604.4 254.2,604.5 253.8,604.6 253.4,604.8 253.1,605.0 252.8,605.2 252.5,605.5 252.2,605.8 252.0,606.2 251.8,606.5 251.6,606.9 251.5,607.2" fill="#061206" fill-opacity="1" filter="url(#f1)"/><polygon points="310.7,609.8 310.9,609.4 310.9,609.0 311.0,608.6 311.0,608.2 311.0,607.8 310.9,607.5 310.8,607.1 310.7,606.7 310.5,606.4 310.3,606.0 310.1,605.7 309.8,605.4 309.5,605.2 309.2,605.0 308.9,604.8 308.5,604.6 308.2,604.5 307.8,604.4 307.4,604.3 307.0,604.3 276.0,604.3 275.6,604.3 275.2,604.4 274.8,604.5 274.5,604.6 274.1,604.8 273.8,605.0 273.5,605.2 273.2,605.5 272.9,605.7 272.7,606.1 272.5,606.4 272.3,606.7 272.2,607.1 272.1,607.5 272.0,607.9 272.0,608.3 272.0,608.6 274.3,635.3 274.3,635.6 274.4,636.0 274.5,636.4 274.7,636.8 274.9,637.1 275.1,637.4 275.4,637.7 275.7,638.0 276.0,638.2 276.3,638.4 276.7,638.6 277.1,638.7 293.4,643.8 293.8,643.9 294.2,643.9 294.6,643.9 295.0,643.9 295.4,643.9 295.8,643.8 296.2,643.6 296.5,643.5 296.9,643.2 297.2,643.0 297.5,642.7 297.7,642.4 298.0,642.1 298.2,641.8 298.3,641.4" fill="#020602" fill-opacity="1" filter="url(#f1)"/><polygon points="299.6,642.5 299.5,642.9 299.4,643.2 299.4,643.6 299.4,644.0 299.4,644.4 299.4,644.8 299.5,645.1 299.7,645.5 299.8,645.9 300.0,646.2 300.3,646.5 300.5,646.8 300.8,647.0 301.1,647.3 301.4,647.5 301.8,647.6 302.1,647.8 314.2,651.6 314.6,651.7 315.0,651.8 315.4,651.8 315.8,651.8 316.2,651.8 316.6,651.7 317.0,651.5 321.4,649.7 321.7,649.5 322.0,649.3 322.4,649.1 322.6,648.8 322.9,648.5 323.1,648.2 323.3,647.9 323.5,647.5 323.6,647.1 323.7,646.8 323.8,646.4 323.8,646.0 323.8,608.3 323.8,607.9 323.7,607.5 323.6,607.1 323.5,606.8 323.3,606.4 323.1,606.1 322.9,605.8 322.6,605.5 322.3,605.2 322.0,605.0 321.7,604.8 321.3,604.6 321.0,604.5 320.6,604.4 320.2,604.3 319.8,604.3 317.3,604.3 316.9,604.3 316.5,604.4 316.1,604.5 315.8,604.6 315.4,604.8 315.1,605.0 314.7,605.2 314.4,605.5 314.2,605.8 313.9,606.1 313.7,606.5 313.6,606.8" fill="#020602" fill-opacity="1" filter="url(#f1)"/><polygon points="325.4,646.0 325.4,646.4 325.5,646.8 325.6,647.1 325.7,647.5 325.9,647.9 326.1,648.2 326.3,648.5 326.6,648.8 326.8,649.1 327.2,649.3 327.5,649.5 327.8,649.7 342.1,655.7 342.5,655.9 342.9,656.0 343.3,656.0 343.7,656.0 344.1,656.0 356.2,654.7 356.6,654.7 357.0,654.6 357.4,654.4 357.7,654.3 358.0,654.1 358.3,653.8 358.6,653.6 358.9,653.3 359.1,653.0 359.3,652.6 359.5,652.3 359.6,651.9 359.7,651.5 359.8,651.1 359.8,650.8 359.8,608.3 359.8,607.9 359.7,607.5 359.6,607.1 359.5,606.8 359.3,606.4 359.1,606.1 358.9,605.8 358.6,605.5 358.3,605.2 358.0,605.0 357.7,604.8 357.3,604.6 357.0,604.5 356.6,604.4 356.2,604.3 355.8,604.3 329.4,604.3 329.0,604.3 328.6,604.4 328.2,604.5 327.9,604.6 327.5,604.8 327.2,605.0 326.9,605.2 326.6,605.5 326.3,605.8 326.1,606.1 325.9,606.4 325.7,606.8 325.6,607.1 325.5,607.5 325.4,607.9 325.4,608.3" fill="#000000" fill-opacity="1" filter="url(#f1)"/><polygon points="248.6,652.2 248.6,651.8 248.6,651.4 248.5,651.0 248.4,650.7 248.3,650.3 248.1,649.9 247.9,649.6 247.7,649.3 247.5,649.0 247.2,648.7 241.9,644.2 241.6,644.0 241.2,643.8 240.9,643.6 240.5,643.5 240.1,643.4 239.7,643.3 239.3,643.3 215.4,643.3 215.0,643.3 214.6,643.4 214.2,643.5 213.9,643.6 213.5,643.8 213.2,644.0 212.9,644.2 212.6,644.5 212.3,644.8 212.1,645.1 211.9,645.4 211.7,645.8 211.6,646.1 211.5,646.5 211.4,646.9 211.4,647.3 211.4,669.3 211.4,669.7 211.5,670.1 211.6,670.5 211.7,670.9 211.9,671.2 212.1,671.6 212.3,671.9 212.6,672.2 212.9,672.5 213.2,672.7 213.6,672.9 214.0,673.1 214.3,673.2 214.7,673.3 215.1,673.3 215.5,673.3 242.1,672.4 242.6,672.4 243.0,672.3 243.4,672.2 243.8,672.0 244.1,671.8 244.5,671.6 245.5,670.8 245.8,670.5 246.1,670.2 246.3,669.9 246.5,669.6 246.7,669.2 246.8,668.8 246.9,668.4 247.0,668.0" fill="#041004" fill-opacity="1" filter="url(#f1)"/><polygon points="269.3,649.1 269.2,648.8 269.0,648.4 268.8,648.1 268.6,647.8 268.3,647.5 268.0,647.3 267.7,647.0 267.4,646.8 267.1,646.7 266.7,646.5 266.3,646.4 266.0,646.4 265.6,646.4 265.2,646.4 264.8,646.4 264.4,646.5 253.0,649.6 252.6,649.8 252.3,649.9 251.9,650.1 251.6,650.4 251.3,650.6 251.0,650.9 250.8,651.2 250.6,651.6 250.4,651.9 250.3,652.3 250.2,652.7 250.1,653.1 248.8,666.4 248.7,666.8 248.8,667.1 248.8,667.5 248.9,667.9 249.0,668.3 249.2,668.6 249.4,669.0 249.6,669.3 249.9,669.6 250.2,669.8 250.5,670.1 250.8,670.3 251.2,670.4 251.5,670.6 264.6,674.8 265.0,674.9 265.3,674.9 265.7,675.0 266.1,674.9 266.4,674.9 266.8,674.8 267.2,674.7 267.5,674.6 272.9,672.1 273.2,671.9 273.6,671.7 273.9,671.5 274.1,671.2 274.4,670.9 274.6,670.6 274.8,670.3 274.9,669.9 275.1,669.5 275.2,669.2 275.2,668.8 275.2,668.4 275.2,668.0 275.1,667.6 275.0,667.3" fill="#020602" fill-opacity="1" filter="url(#f1)"/><polygon points="283.4,671.6 283.8,671.7 284.3,671.7 284.7,671.7 285.1,671.6 285.5,671.5 285.8,671.4 286.2,671.2 286.6,671.0 289.0,669.3 289.4,669.1 289.7,668.8 289.9,668.4 290.2,668.1 290.4,667.7 290.5,667.3 296.3,650.7 296.4,650.3 296.5,649.9 296.5,649.5 296.5,649.1 296.5,648.7 296.4,648.3 296.3,647.9 296.1,647.5 295.9,647.2 295.7,646.9 295.4,646.6 295.1,646.3 294.8,646.1 294.5,645.8 294.1,645.7 293.7,645.5 276.5,640.2 276.2,640.1 275.8,640.1 275.4,640.1 275.0,640.1 274.6,640.1 274.2,640.2 273.9,640.3 273.5,640.5 273.2,640.7 272.9,640.9 272.6,641.2 272.3,641.5 271.0,643.0 270.8,643.3 270.6,643.7 270.4,644.0 270.2,644.4 270.1,644.8 270.1,645.2 270.1,645.6 270.1,646.0 270.1,646.4 270.2,646.8 277.0,668.2 277.1,668.5 277.3,668.9 277.5,669.2 277.7,669.5 278.0,669.8 278.3,670.0 278.6,670.3 278.9,670.5 279.2,670.6 279.6,670.8 280.0,670.9" fill="#020602" fill-opacity="1" filter="url(#f1)"/><polygon points="308.9,673.3 309.3,673.4 309.7,673.4 310.1,673.4 310.5,673.4 310.9,673.3 311.3,673.2 311.7,673.1 312.0,672.9 312.3,672.7 312.7,672.4 312.9,672.2 313.2,671.9 313.4,671.5 313.6,671.2 313.8,670.8 313.9,670.4 314.0,670.0 314.0,669.6 314.7,656.6 314.7,656.2 314.6,655.8 314.6,655.4 314.4,655.0 314.3,654.6 314.1,654.3 313.9,654.0 313.6,653.6 313.3,653.4 313.0,653.1 312.7,652.9 312.3,652.7 311.9,652.6 302.5,649.6 302.2,649.5 301.8,649.4 301.4,649.4 301.0,649.4 300.6,649.4 300.2,649.5 299.9,649.7 299.5,649.8 299.2,650.0 298.9,650.2 298.6,650.5 298.3,650.7 298.1,651.0 297.9,651.4 297.7,651.7 297.5,652.1 293.2,664.5 293.1,664.9 293.0,665.3 293.0,665.6 293.0,666.0 293.0,666.4 293.1,666.8 293.2,667.1 293.4,667.5 293.5,667.8 293.7,668.2 294.0,668.5 294.3,668.7 294.5,669.0 294.9,669.2 295.2,669.4 295.5,669.6 295.9,669.7" fill="#020602" fill-opacity="1" filter="url(#f1)"/><polygon points="315.4,672.6 315.4,673.0 315.5,673.4 315.6,673.8 315.7,674.2 315.8,674.5 316.0,674.9 316.2,675.2 316.5,675.5 316.8,675.8 317.1,676.1 317.4,676.3 317.8,676.5 318.1,676.6 318.5,676.7 318.9,676.8 319.3,676.8 319.7,676.8 320.1,676.8 325.5,675.9 325.9,675.8 326.3,675.7 326.6,675.5 327.0,675.3 327.3,675.0 327.7,674.7 327.9,674.4 338.4,661.4 338.6,661.1 338.8,660.7 339.0,660.4 339.1,660.0 339.2,659.6 339.2,659.3 339.2,658.9 339.2,658.5 339.2,658.1 339.1,657.7 338.9,657.4 338.8,657.0 338.6,656.7 338.3,656.4 338.1,656.1 337.8,655.8 337.5,655.6 337.2,655.4 336.8,655.2 326.2,650.7 325.8,650.6 325.4,650.5 325.0,650.4 324.6,650.4 324.2,650.4 323.8,650.5 323.4,650.6 323.0,650.7 318.8,652.5 318.4,652.7 318.0,652.9 317.7,653.2 317.4,653.4 317.2,653.7 316.9,654.1 316.7,654.4 316.6,654.8 316.4,655.2 316.4,655.6 316.3,656.0" fill="#061206" fill-opacity="1" filter="url(#f1)"/><polygon points="345.0,657.5 344.6,657.6 344.3,657.7 343.9,657.8 343.5,658.0 343.2,658.2 342.9,658.4 342.6,658.7 342.3,659.0 330.8,673.4 330.6,673.7 330.4,674.0 330.2,674.4 330.1,674.8 330.0,675.2 330.0,675.6 330.0,676.0 330.0,676.4 330.1,676.8 330.2,677.1 330.3,677.5 330.5,677.9 330.7,678.2 331.0,678.5 331.3,678.8 350.8,696.7 351.1,697.0 351.4,697.2 351.8,697.4 352.1,697.5 352.5,697.7 352.9,697.7 353.2,697.8 355.5,697.9 355.9,698.0 356.3,697.9 356.7,697.9 357.0,697.8 357.4,697.6 357.7,697.4 358.1,697.2 358.4,697.0 358.7,696.7 358.9,696.5 359.1,696.1 359.3,695.8 359.5,695.5 359.6,695.1 359.7,694.7 359.8,694.3 359.8,694.0 359.8,660.4 359.8,660.0 359.7,659.6 359.6,659.2 359.5,658.9 359.3,658.5 359.1,658.2 358.9,657.9 358.6,657.6 358.3,657.3 358.0,657.1 357.7,656.9 357.3,656.7 356.9,656.6 356.6,656.5 356.2,656.4 355.8,656.4 355.4,656.4" fill="#020602" fill-opacity="1" filter="url(#f1)"/><polygon points="215.3,674.9 214.9,675.0 214.5,675.0 214.1,675.1 213.8,675.3 213.4,675.4 213.1,675.6 212.8,675.9 212.5,676.1 212.3,676.4 212.0,676.7 211.9,677.1 211.7,677.4 211.6,677.8 211.5,678.2 211.4,678.5 211.4,678.9 211.4,700.8 211.4,701.2 211.5,701.6 211.6,701.9 211.7,702.3 211.9,702.7 212.1,703.0 212.3,703.3 212.6,703.6 212.9,703.9 213.2,704.1 213.5,704.3 213.9,704.5 214.2,704.6 214.6,704.7 215.0,704.8 215.4,704.8 215.8,704.8 216.2,704.7 241.8,699.8 242.2,699.7 242.6,699.6 242.9,699.4 243.3,699.2 243.6,699.0 243.9,698.7 244.2,698.4 244.4,698.1 244.6,697.7 244.8,697.4 244.9,697.0 245.0,696.6 245.1,696.3 245.1,695.9 245.1,695.5 243.4,677.7 243.3,677.3 243.2,677.0 243.1,676.6 242.9,676.2 242.7,675.9 242.4,675.6 242.2,675.3 241.9,675.0 241.5,674.8 241.2,674.6 240.8,674.4 240.4,674.3 240.1,674.2 239.7,674.1 239.3,674.1" fill="#000000" fill-opacity="1" filter="url(#f1)"/><polygon points="250.0,671.8 249.6,671.7 249.2,671.6 248.8,671.6 248.4,671.6 248.1,671.6 247.7,671.7 247.3,671.9 246.9,672.0 246.6,672.2 246.3,672.5 246.0,672.7 245.7,673.0 245.5,673.3 245.3,673.7 245.1,674.0 245.0,674.4 244.9,674.8 244.8,675.2 244.8,675.6 244.8,676.0 246.7,695.5 246.7,695.9 246.8,696.3 247.0,696.7 247.1,697.0 247.3,697.4 247.6,697.7 247.8,698.0 248.1,698.3 248.4,698.5 248.8,698.7 249.1,698.9 249.5,699.0 249.9,699.1 250.3,699.1 250.7,699.2 251.1,699.1 251.5,699.1 251.9,699.0 261.8,695.8 262.1,695.7 262.5,695.5 262.8,695.3 263.2,695.0 263.5,694.8 263.7,694.4 263.9,694.1 264.1,693.8 264.3,693.4 264.4,693.0 264.5,692.6 264.5,692.2 265.2,679.7 265.2,679.3 265.1,678.9 265.0,678.5 264.9,678.2 264.8,677.8 264.6,677.4 264.3,677.1 264.1,676.8 263.8,676.5 263.5,676.3 263.1,676.1 262.8,675.9 262.4,675.7" fill="#020602" fill-opacity="1" filter="url(#f1)"/><polygon points="269.1,675.6 268.8,675.8 268.4,676.0 268.1,676.3 267.8,676.5 267.6,676.8 267.4,677.2 267.2,677.5 267.0,677.9 266.9,678.3 266.8,678.6 266.8,679.0 266.1,692.8 266.1,693.2 266.1,693.6 266.2,693.9 266.3,694.3 266.5,694.7 266.7,695.0 266.9,695.3 267.1,695.6 267.4,695.9 267.7,696.2 268.0,696.4 273.1,699.5 273.4,699.7 273.8,699.9 274.2,700.0 274.5,700.1 274.9,700.1 275.3,700.1 275.7,700.1 276.1,700.0 276.5,699.9 276.8,699.8 277.2,699.6 286.6,694.2 287.0,694.0 287.3,693.7 287.6,693.5 287.8,693.2 288.1,692.8 288.2,692.5 288.4,692.1 288.5,691.8 288.6,691.4 288.6,691.0 288.7,690.6 288.6,690.2 288.5,689.8 285.2,676.0 285.1,675.6 285.0,675.2 284.8,674.8 284.5,674.5 284.3,674.2 284.0,673.9 283.7,673.7 283.3,673.4 283.0,673.2 282.6,673.1 282.2,673.0 278.5,672.2 278.1,672.1 277.7,672.1 277.4,672.1 277.0,672.1 276.6,672.2 276.3,672.3 275.9,672.5" fill="#061206" fill-opacity="1" filter="url(#f1)"/><polygon points="290.4,690.7 290.5,691.1 290.7,691.4 290.9,691.8 291.1,692.1 291.3,692.4 291.6,692.7 291.9,693.0 292.2,693.2 292.6,693.4 299.4,696.7 299.8,696.8 300.1,696.9 300.5,697.0 300.8,697.1 301.2,697.1 301.6,697.0 302.0,697.0 302.3,696.9 302.7,696.8 309.9,693.8 310.3,693.6 310.6,693.4 310.9,693.2 311.2,692.9 311.4,692.7 311.6,692.4 311.8,692.1 312.0,691.7 312.2,691.4 312.3,691.0 314.9,680.6 314.9,680.3 315.0,679.9 315.0,679.5 314.9,679.1 314.9,678.7 314.8,678.4 314.6,678.0 314.4,677.7 314.2,677.3 314.0,677.0 313.7,676.8 313.4,676.5 313.1,676.3 312.8,676.1 312.4,675.9 312.1,675.8 292.7,670.4 292.3,670.4 292.0,670.3 291.6,670.3 291.2,670.3 290.8,670.4 290.4,670.5 290.1,670.6 289.7,670.8 289.4,671.0 288.5,671.6 288.1,671.9 287.9,672.2 287.6,672.5 287.4,672.8 287.2,673.1 287.0,673.5 286.9,673.9 286.8,674.3 286.7,674.7 286.7,675.1 286.8,675.5 286.9,675.9" fill="#041004" fill-opacity="1" filter="url(#f1)"/><polygon points="314.0,690.6 313.9,691.0 313.9,691.4 313.9,691.8 313.9,692.2 314.0,692.6 314.1,693.0 314.3,693.3 314.5,693.7 314.7,694.0 315.0,694.3 315.2,694.6 315.5,694.8 326.5,702.8 326.8,703.0 327.1,703.2 327.5,703.3 327.9,703.4 328.3,703.5 328.7,703.5 329.1,703.5 329.5,703.5 329.8,703.4 342.8,699.9 343.2,699.8 343.6,699.7 343.9,699.5 344.2,699.3 344.5,699.0 344.8,698.7 345.0,698.4 345.3,698.1 345.4,697.8 345.6,697.4 345.7,697.0 345.8,696.6 345.8,696.3 345.8,695.9 345.8,695.5 345.7,695.1 345.6,694.7 345.4,694.4 345.2,694.0 345.0,693.7 344.8,693.4 344.5,693.1 328.6,678.5 328.3,678.3 327.9,678.1 327.6,677.9 327.2,677.7 326.8,677.6 326.4,677.5 326.0,677.5 325.6,677.5 325.2,677.5 319.5,678.5 319.2,678.6 318.8,678.7 318.4,678.8 318.1,679.0 317.8,679.2 317.5,679.5 317.2,679.8 317.0,680.1 316.7,680.4 316.6,680.7 316.4,681.1 316.3,681.5" fill="#020602" fill-opacity="1" filter="url(#f1)"/><polygon points="214.6,706.6 214.3,706.7 213.9,706.9 213.5,707.0 213.2,707.2 212.9,707.5 212.6,707.7 212.3,708.0 212.1,708.3 211.9,708.7 211.7,709.0 211.6,709.4 211.5,709.8 211.4,710.2 211.4,710.6 211.4,746.7 211.4,747.1 211.5,747.5 211.6,747.9 211.7,748.2 211.9,748.6 212.1,748.9 212.3,749.2 212.5,749.5 212.8,749.8 213.1,750.0 213.5,750.2 213.8,750.4 214.2,750.5 214.6,750.6 214.9,750.7 215.3,750.7 215.7,750.7 216.1,750.7 216.5,750.6 216.8,750.4 217.2,750.3 217.5,750.1 217.8,749.9 218.1,749.6 250.2,719.5 250.5,719.2 250.7,718.9 250.9,718.5 251.1,718.2 251.2,717.8 251.3,717.5 251.4,717.1 251.5,716.7 251.4,716.3 251.4,715.9 251.3,715.5 248.3,704.0 248.2,703.6 248.0,703.2 247.8,702.9 247.6,702.5 247.3,702.2 247.1,702.0 246.7,701.7 246.4,701.5 246.0,701.3 245.7,701.2 245.3,701.1 244.9,701.0 244.5,701.0 244.1,701.0 243.7,701.0" fill="#000000" fill-opacity="1" filter="url(#f1)"/><polygon points="252.9,700.3 252.5,700.4 252.2,700.6 251.8,700.8 251.5,701.1 251.2,701.4 251.0,701.7 250.7,702.0 250.5,702.4 250.4,702.7 250.3,703.1 250.2,703.5 250.1,703.9 250.1,704.3 250.2,704.7 250.3,705.1 252.9,715.3 253.0,715.7 253.2,716.1 253.4,716.4 253.6,716.7 253.9,717.0 254.2,717.3 254.5,717.6 254.9,717.8 255.2,718.0 255.6,718.1 267.2,721.6 267.6,721.7 268.0,721.8 268.3,721.8 268.7,721.8 269.1,721.7 269.4,721.7 269.8,721.5 270.1,721.4 270.5,721.2 270.8,721.0 271.1,720.8 273.0,719.0 273.3,718.7 273.5,718.4 273.8,718.0 274.0,717.7 274.1,717.3 274.2,716.9 274.3,716.5 274.3,716.1 274.3,704.4 274.3,704.0 274.2,703.6 274.1,703.2 274.0,702.8 273.8,702.4 273.6,702.1 273.3,701.8 273.0,701.5 272.7,701.2 272.4,701.0 266.6,697.4 266.3,697.2 265.9,697.1 265.6,697.0 265.2,696.9 264.8,696.8 264.4,696.8 264.1,696.8 263.7,696.9 263.3,697.0" fill="#061206" fill-opacity="1" filter="url(#f1)"/><polygon points="277.9,701.0 277.6,701.2 277.3,701.5 277.0,701.7 276.8,702.0 276.5,702.3 276.3,702.7 276.2,703.0 276.1,703.4 276.0,703.7 275.9,704.1 275.9,704.5 275.9,714.1 275.9,714.5 276.0,714.9 276.1,715.3 276.2,715.7 276.4,716.1 276.6,716.4 276.8,716.7 277.1,717.0 277.4,717.3 277.7,717.5 278.1,717.7 278.4,717.9 278.8,718.0 279.2,718.1 294.0,720.7 294.4,720.7 294.8,720.7 295.2,720.7 295.6,720.6 296.0,720.5 296.3,720.4 296.7,720.2 297.0,720.0 297.3,719.7 297.6,719.5 297.9,719.2 298.1,718.9 298.3,718.5 298.4,718.2 298.6,717.8 298.6,717.4 298.7,717.0 299.9,701.5 299.9,701.1 299.9,700.7 299.9,700.3 299.7,700.0 299.6,699.6 299.4,699.2 299.2,698.9 299.0,698.6 298.7,698.3 298.4,698.0 298.0,697.8 297.7,697.6 292.1,694.9 291.7,694.8 291.4,694.7 291.0,694.6 290.6,694.5 290.2,694.5 289.8,694.6 289.4,694.6 289.1,694.7 288.7,694.9 288.4,695.1" fill="#020602" fill-opacity="1" filter="url(#f1)"/><polygon points="300.3,716.5 300.3,716.9 300.4,717.3 300.4,717.7 300.5,718.1 300.7,718.5 300.9,718.9 301.1,719.2 301.3,719.5 301.6,719.8 301.9,720.1 302.3,720.3 302.6,720.5 303.0,720.6 303.4,720.7 303.8,720.8 304.2,720.9 318.4,721.5 318.8,721.5 319.2,721.4 319.6,721.3 319.9,721.2 320.3,721.1 320.6,720.9 321.0,720.7 321.3,720.4 321.6,720.1 321.8,719.8 322.0,719.5 322.2,719.1 322.3,718.7 326.0,707.8 326.1,707.5 326.1,707.1 326.2,706.7 326.2,706.3 326.1,705.9 326.0,705.5 325.9,705.2 325.8,704.8 325.6,704.5 325.4,704.2 325.1,703.9 324.8,703.6 324.5,703.3 314.2,695.8 313.8,695.6 313.5,695.4 313.1,695.2 312.7,695.1 312.3,695.1 311.9,695.0 311.5,695.1 311.1,695.1 310.7,695.2 310.3,695.3 304.0,697.9 303.7,698.1 303.3,698.3 303.0,698.6 302.7,698.8 302.4,699.1 302.2,699.4 302.0,699.8 301.8,700.1 301.7,700.5 301.6,700.9 301.6,701.3" fill="#061206" fill-opacity="1" filter="url(#f1)"/><polygon points="330.5,704.9 330.2,705.0 329.8,705.2 329.5,705.3 329.1,705.6 328.8,705.8 328.6,706.1 328.3,706.4 328.1,706.8 327.9,707.1 327.8,707.5 323.4,720.6 323.3,721.0 323.2,721.3 323.2,721.7 323.2,722.1 323.3,722.5 323.3,722.9 323.4,723.2 323.6,723.6 323.8,723.9 339.9,750.8 340.1,751.1 340.4,751.4 340.7,751.7 341.0,752.0 341.3,752.2 341.7,752.4 342.1,752.5 342.5,752.6 342.9,752.7 343.3,752.7 355.8,752.7 356.2,752.7 356.6,752.6 357.0,752.5 357.3,752.4 357.7,752.2 358.0,752.0 358.3,751.8 358.6,751.5 358.9,751.2 359.1,750.9 359.3,750.6 359.5,750.2 359.6,749.9 359.7,749.5 359.8,749.1 359.8,748.7 359.8,703.6 359.8,703.2 359.7,702.8 359.6,702.4 359.5,702.0 359.3,701.7 359.1,701.3 358.9,701.0 358.6,700.7 358.3,700.4 358.0,700.2 357.6,700.0 357.3,699.8 356.9,699.7 356.5,699.6 356.1,699.6 352.3,699.3 351.8,699.3 351.4,699.3 350.9,699.4" fill="#041004" fill-opacity="1" filter="url(#f1)"/><polygon points="268.8,726.8 268.8,726.4 268.7,726.0 268.6,725.6 268.5,725.2 268.3,724.9 268.1,724.5 267.9,724.2 267.6,723.9 267.3,723.7 267.0,723.4 266.7,723.2 266.3,723.1 266.0,722.9 255.2,719.7 254.9,719.6 254.5,719.5 254.1,719.5 253.7,719.5 253.4,719.6 253.0,719.6 252.6,719.8 252.3,719.9 251.9,720.1 251.6,720.3 251.3,720.6 224.6,745.8 224.3,746.1 224.0,746.4 223.8,746.7 223.6,747.1 223.5,747.4 223.4,747.8 223.3,748.2 223.3,748.6 223.3,749.0 223.4,749.4 223.5,749.8 223.6,750.2 223.7,750.5 223.9,750.9 224.2,751.2 224.4,751.5 224.7,751.8 225.0,752.0 225.4,752.2 225.7,752.4 226.1,752.5 226.5,752.6 226.9,752.7 227.3,752.7 264.8,752.7 265.2,752.7 265.6,752.6 266.0,752.5 266.3,752.4 266.7,752.2 267.0,752.0 267.3,751.8 267.6,751.5 267.9,751.2 268.1,750.9 268.3,750.6 268.5,750.2 268.6,749.9 268.7,749.5 268.8,749.1 268.8,748.7" fill="#020602" fill-opacity="1" filter="url(#f1)"/><polygon points="297.2,726.5 297.2,726.1 297.2,725.7 297.1,725.3 297.0,724.9 296.9,724.6 296.7,724.2 296.5,723.9 296.3,723.6 296.0,723.3 295.7,723.0 295.4,722.8 295.0,722.6 294.7,722.5 294.3,722.3 293.9,722.3 277.3,719.4 276.9,719.3 276.5,719.3 276.1,719.3 275.7,719.4 275.3,719.5 274.9,719.7 274.6,719.9 274.2,720.1 273.9,720.4 271.7,722.4 271.4,722.7 271.2,723.0 270.9,723.3 270.7,723.7 270.6,724.1 270.5,724.5 270.4,724.9 270.4,725.3 270.4,748.7 270.4,749.1 270.5,749.5 270.6,749.9 270.7,750.2 270.9,750.6 271.1,750.9 271.3,751.2 271.6,751.5 271.9,751.8 272.2,752.0 272.5,752.2 272.9,752.4 273.2,752.5 273.6,752.6 274.0,752.7 274.4,752.7 291.6,752.7 292.0,752.7 292.4,752.6 292.8,752.5 293.2,752.4 293.5,752.2 293.9,752.0 294.2,751.8 294.5,751.5 294.8,751.2 295.0,750.9 295.2,750.5 295.4,750.2 295.5,749.8 295.6,749.4 295.6,749.0" fill="#000000" fill-opacity="1" filter="url(#f1)"/><polygon points="303.0,722.4 302.6,722.4 302.3,722.4 301.9,722.5 301.5,722.6 301.1,722.8 300.8,723.0 300.5,723.2 300.2,723.4 299.9,723.7 299.7,724.0 299.4,724.3 299.3,724.6 299.1,725.0 299.0,725.4 298.9,725.7 298.9,726.1 297.3,748.4 297.3,748.8 297.3,749.2 297.4,749.6 297.5,749.9 297.6,750.3 297.8,750.6 298.0,751.0 298.2,751.3 298.5,751.6 298.8,751.8 299.1,752.0 299.4,752.2 299.7,752.4 300.1,752.5 300.5,752.6 300.9,752.7 301.3,752.7 332.1,752.7 332.5,752.7 332.9,752.6 333.3,752.5 333.6,752.4 334.0,752.2 334.3,752.1 334.6,751.8 334.9,751.6 335.2,751.3 335.4,751.0 335.6,750.7 335.8,750.3 335.9,750.0 336.0,749.6 336.1,749.2 336.1,748.8 336.1,748.5 336.1,748.1 336.0,747.7 335.9,747.3 335.7,747.0 335.6,746.6 322.6,725.1 322.4,724.7 322.1,724.4 321.8,724.1 321.5,723.9 321.2,723.7 320.9,723.5 320.5,723.3 320.1,723.2 319.7,723.2 319.3,723.1" fill="#000000" fill-opacity="1" filter="url(#f1)"/></g>
<rect x="290.20" y="728.45" width="51.00" height="4.50" fill="#fff" />
<text x="299.69" y="723.70" font-family="Liberation Sans" font-weight="normal" font-size="12.14" fill="#fff" textLength="31.80" lengthAdjust="spacingAndGlyphs">50<tspan font-family="Liberation Serif" font-weight="normal">μ</tspan>m</text>
<text x="-1.37" y="0.00" font-family="Liberation Sans" font-weight="bold" font-size="20.96" fill="#11dd11" textLength="95.12" lengthAdjust="spacingAndGlyphs" transform="translate(72.19,454.20) rotate(-90)"><tspan font-family="Liberation Serif" font-weight="normal">β</tspan>-Catenin</text>
<text x="-1.38" y="0.00" font-family="Liberation Sans" font-weight="bold" font-size="23.19" fill="#1a1aff" textLength="50.86" lengthAdjust="spacingAndGlyphs" transform="translate(73.00,567.50) rotate(-90)">DAPI</text>
<text x="-1.37" y="0.00" font-family="Liberation Sans" font-weight="bold" font-size="18.33" fill="#000" textLength="62.12" lengthAdjust="spacingAndGlyphs" transform="translate(69.65,709.40) rotate(-90)">Merge</text>
<text x="4.98" y="777.00" font-family="Liberation Sans" font-weight="bold" font-size="38.41" fill="#000" textLength="23.85" lengthAdjust="spacingAndGlyphs">E</text>
<text x="87.66" y="798.20" font-family="Liberation Sans" font-weight="bold" font-size="19.03" fill="#000" textLength="84.78" lengthAdjust="spacingAndGlyphs">Intensity</text>
<rect x="55.10" y="814.30" width="3.50" height="124.70" fill="#000" />
<rect x="51.60" y="814.30" width="7.00" height="3.60" fill="#000" />
<rect x="51.60" y="874.90" width="7.00" height="3.60" fill="#000" />
<rect x="51.60" y="935.40" width="153.40" height="3.60" fill="#000" />
<text x="21.06" y="823.20" font-family="Liberation Sans" font-weight="bold" font-size="21.14" fill="#000">1.2</text>
<text x="20.95" y="883.80" font-family="Liberation Sans" font-weight="bold" font-size="21.14" fill="#000">0.6</text>
<text x="38.71" y="944.30" font-family="Liberation Sans" font-weight="bold" font-size="21.14" fill="#000">0</text>
<text x="-1.36" y="0.00" font-family="Liberation Sans" font-weight="bold" font-size="20.97" fill="#000" textLength="139.63" lengthAdjust="spacingAndGlyphs" transform="translate(16.10,945.20) rotate(-90)">Relative Level</text>
<rect x="87.00" y="836.70" width="29.90" height="98.90" fill="#000" />
<rect x="100.30" y="833.00" width="4.00" height="4.00" fill="#000" />
<rect x="99.30" y="833.00" width="6.00" height="3.00" fill="#000" />
<rect x="146.40" y="876.20" width="30.10" height="59.40" fill="#ff0000" />
<rect x="159.00" y="869.20" width="4.00" height="7.80" fill="#000" />
<rect x="158.50" y="869.20" width="5.00" height="3.00" fill="#000" />
<text x="156.79" y="861.00" font-family="Liberation Sans" font-weight="bold" font-size="19.00" fill="#000">*</text>
<text x="-1.35" y="0.00" font-family="Liberation Sans" font-weight="bold" font-size="20.80" fill="#000" transform="translate(23.50,996.00) rotate(-30)">Normoxia</text>
<text x="-1.35" y="0.00" font-family="Liberation Sans" font-weight="bold" font-size="20.80" fill="#000" transform="translate(97.50,988.50) rotate(-30)">Hypoxia</text>
<text x="289.15" y="797.70" font-family="Liberation Sans" font-weight="bold" font-size="18.48" fill="#000" textLength="136.63" lengthAdjust="spacingAndGlyphs">Nuclear Index</text>
<rect x="282.10" y="817.00" width="4.30" height="124.00" fill="#000" />
<rect x="279.20" y="817.00" width="7.20" height="3.80" fill="#000" />
<rect x="279.20" y="876.90" width="7.20" height="3.80" fill="#000" />
<rect x="279.20" y="937.20" width="153.10" height="3.80" fill="#000" />
<text x="255.70" y="825.60" font-family="Liberation Sans" font-weight="bold" font-size="20.00" fill="#000">80</text>
<text x="255.70" y="885.50" font-family="Liberation Sans" font-weight="bold" font-size="20.00" fill="#000">40</text>
<text x="266.80" y="945.80" font-family="Liberation Sans" font-weight="bold" font-size="20.00" fill="#000">0</text>
<text x="-1.36" y="0.00" font-family="Liberation Sans" font-weight="bold" font-size="20.70" fill="#000" textLength="145.45" lengthAdjust="spacingAndGlyphs" transform="translate(246.75,944.00) rotate(-90)">Percentage(%)</text>
<rect x="314.50" y="849.00" width="29.30" height="88.40" fill="#000" />
<rect x="328.00" y="833.60" width="4.00" height="16.40" fill="#000" />
<rect x="328.00" y="833.60" width="4.00" height="3.00" fill="#000" />
<rect x="373.90" y="925.20" width="29.30" height="12.20" fill="#ff0000" />
<rect x="387.00" y="908.00" width="4.00" height="18.00" fill="#000" />
<rect x="387.00" y="908.00" width="4.00" height="3.00" fill="#000" />
<text x="384.60" y="901.20" font-family="Liberation Sans" font-weight="bold" font-size="19.00" fill="#000">*</text>
<text x="-1.35" y="0.00" font-family="Liberation Sans" font-weight="bold" font-size="20.80" fill="#000" transform="translate(251.00,997.50) rotate(-30)">Normoxia</text>
<text x="-1.35" y="0.00" font-family="Liberation Sans" font-weight="bold" font-size="20.80" fill="#000" transform="translate(327.00,989.50) rotate(-30)">Hypoxia</text>
<text x="458.95" y="299.40" font-family="Liberation Sans" font-weight="bold" font-size="38.62" fill="#000" textLength="22.04" lengthAdjust="spacingAndGlyphs">F</text>
<text x="535.39" y="282.60" font-family="Liberation Sans" font-weight="bold" font-size="24.83" fill="#000" textLength="114.22" lengthAdjust="spacingAndGlyphs">Normoxia</text>
<text x="671.61" y="282.60" font-family="Liberation Sans" font-weight="bold" font-size="24.83" fill="#000" textLength="95.46" lengthAdjust="spacingAndGlyphs">Hypoxia</text>
<rect x="537.70" y="291.00" width="111.05" height="4.00" fill="#000" />
<rect x="664.00" y="291.00" width="111.50" height="4.00" fill="#000" />
<text x="537.92" y="316.30" font-family="Liberation Sans" font-weight="bold" font-size="21.43" fill="#000" textLength="27.21" lengthAdjust="spacingAndGlyphs">D2</text>
<text x="581.25" y="316.30" font-family="Liberation Sans" font-weight="bold" font-size="21.43" fill="#000" textLength="26.55" lengthAdjust="spacingAndGlyphs">D3</text>
<text x="622.95" y="316.30" font-family="Liberation Sans" font-weight="bold" font-size="21.74" fill="#000" textLength="26.63" lengthAdjust="spacingAndGlyphs">D4</text>
<text x="665.29" y="316.30" font-family="Liberation Sans" font-weight="bold" font-size="21.43" fill="#000" textLength="27.64" lengthAdjust="spacingAndGlyphs">D2</text>
<text x="706.66" y="316.30" font-family="Liberation Sans" font-weight="bold" font-size="21.43" fill="#000" textLength="26.33" lengthAdjust="spacingAndGlyphs">D3</text>
<text x="748.16" y="316.30" font-family="Liberation Sans" font-weight="bold" font-size="21.74" fill="#000" textLength="26.42" lengthAdjust="spacingAndGlyphs">D4</text>
<text x="798.96" y="313.68" font-family="Liberation Sans" font-weight="bold" font-size="20.59" fill="#000" textLength="43.84" lengthAdjust="spacingAndGlyphs">(KD)</text>
<rect x="521.30" y="328.40" width="272.20" height="54.00" fill="#000" />
<rect x="525.30" y="332.40" width="264.20" height="46.00" fill="#e6e6e6" />
<g clip-path="url(#c3)"><rect x="532.80" y="357.90" width="30.20" height="12.80" rx="6.40" fill="#000" fill-opacity="0.25" filter="url(#f3)"/><rect x="533.80" y="359.40" width="28.20" height="9.80" rx="2.94" ry="3.23" fill="#000" fill-opacity="1.00" filter="url(#f1)"/><rect x="577.30" y="359.00" width="31.20" height="9.50" rx="4.75" fill="#000" fill-opacity="0.21" filter="url(#f3)"/><rect x="578.30" y="360.50" width="29.20" height="6.50" rx="1.95" ry="2.15" fill="#000" fill-opacity="0.85" filter="url(#f1)"/><rect x="615.25" y="350.50" width="39.95" height="24.50" rx="12.25" fill="#000" fill-opacity="0.25" filter="url(#f3)"/><rect x="616.25" y="352.00" width="37.95" height="21.50" rx="3.50" ry="4.00" fill="#000" fill-opacity="1.00" filter="url(#f1)"/><rect x="661.80" y="357.30" width="32.40" height="10.20" rx="5.10" fill="#000" fill-opacity="0.11" filter="url(#f3)"/><rect x="662.80" y="358.80" width="30.40" height="7.20" rx="2.16" ry="2.38" fill="#000" fill-opacity="0.45" filter="url(#f15)"/><rect x="704.00" y="357.00" width="31.30" height="10.50" rx="5.25" fill="#000" fill-opacity="0.15" filter="url(#f3)"/><rect x="705.00" y="358.50" width="29.30" height="7.50" rx="2.25" ry="2.48" fill="#000" fill-opacity="0.60" filter="url(#f15)"/><rect x="745.30" y="354.50" width="33.40" height="15.00" rx="7.50" fill="#000" fill-opacity="0.25" filter="url(#f3)"/><rect x="746.30" y="356.00" width="31.40" height="12.00" rx="3.50" ry="3.96" fill="#000" fill-opacity="1.00" filter="url(#f1)"/></g>
<rect x="521.30" y="393.40" width="271.50" height="54.20" fill="#000" />
<rect x="525.30" y="397.40" width="263.50" height="46.20" fill="#f0f0f0" />
<g clip-path="url(#c4)"><rect x="528.50" y="412.10" width="37.10" height="20.40" rx="10.20" fill="#000" fill-opacity="0.25" filter="url(#f3)"/><rect x="529.50" y="413.60" width="35.10" height="17.40" rx="3.50" ry="4.00" fill="#000" fill-opacity="1.00" filter="url(#f1)"/><rect x="576.20" y="411.00" width="34.50" height="18.20" rx="9.10" fill="#000" fill-opacity="0.25" filter="url(#f3)"/><rect x="577.20" y="412.50" width="32.50" height="15.20" rx="3.50" ry="4.00" fill="#000" fill-opacity="1.00" filter="url(#f1)"/><rect x="616.30" y="411.00" width="39.95" height="20.30" rx="10.15" fill="#000" fill-opacity="0.25" filter="url(#f3)"/><rect x="617.30" y="412.50" width="37.95" height="17.30" rx="3.50" ry="4.00" fill="#000" fill-opacity="1.00" filter="url(#f1)"/><rect x="663.60" y="412.10" width="35.40" height="16.00" rx="8.00" fill="#000" fill-opacity="0.25" filter="url(#f3)"/><rect x="664.60" y="413.60" width="33.40" height="13.00" rx="3.50" ry="4.00" fill="#000" fill-opacity="1.00" filter="url(#f1)"/><rect x="707.00" y="413.20" width="33.00" height="13.80" rx="6.90" fill="#000" fill-opacity="0.25" filter="url(#f3)"/><rect x="708.00" y="414.70" width="31.00" height="10.80" rx="3.24" ry="3.56" fill="#000" fill-opacity="1.00" filter="url(#f1)"/><rect x="748.50" y="411.00" width="36.25" height="18.20" rx="9.10" fill="#000" fill-opacity="0.25" filter="url(#f3)"/><rect x="749.50" y="412.50" width="34.25" height="15.20" rx="3.50" ry="4.00" fill="#000" fill-opacity="1.00" filter="url(#f1)"/></g>
<rect x="521.30" y="458.40" width="271.50" height="53.30" fill="#000" />
<rect x="525.30" y="462.40" width="263.50" height="45.30" fill="#dcdcdc" />
<g clip-path="url(#c5)"><rect x="530.20" y="478.20" width="43.60" height="21.30" rx="10.65" fill="#000" fill-opacity="0.25" filter="url(#f3)"/><rect x="531.20" y="479.70" width="41.60" height="18.30" rx="3.50" ry="4.00" fill="#000" fill-opacity="1.00" filter="url(#f1)"/><rect x="575.00" y="477.50" width="39.60" height="20.00" rx="10.00" fill="#000" fill-opacity="0.25" filter="url(#f3)"/><rect x="576.00" y="479.00" width="37.60" height="17.00" rx="3.50" ry="4.00" fill="#000" fill-opacity="1.00" filter="url(#f1)"/><rect x="616.30" y="473.80" width="44.30" height="20.40" rx="10.20" fill="#000" fill-opacity="0.25" filter="url(#f3)"/><rect x="617.30" y="475.30" width="42.30" height="17.40" rx="3.50" ry="4.00" fill="#000" fill-opacity="1.00" filter="url(#f1)"/><rect x="663.60" y="472.80" width="38.20" height="18.10" rx="9.05" fill="#000" fill-opacity="0.25" filter="url(#f3)"/><rect x="664.60" y="474.30" width="36.20" height="15.10" rx="3.50" ry="4.00" fill="#000" fill-opacity="1.00" filter="url(#f1)"/><rect x="706.30" y="475.50" width="36.00" height="14.30" rx="7.15" fill="#000" fill-opacity="0.25" filter="url(#f3)"/><rect x="707.30" y="477.00" width="34.00" height="11.30" rx="3.39" ry="3.73" fill="#000" fill-opacity="1.00" filter="url(#f1)"/><rect x="747.40" y="472.80" width="38.90" height="19.20" rx="9.60" fill="#000" fill-opacity="0.25" filter="url(#f3)"/><rect x="748.40" y="474.30" width="36.90" height="16.20" rx="3.50" ry="4.00" fill="#000" fill-opacity="1.00" filter="url(#f1)"/></g>
<text x="389.02" y="364.24" font-family="Liberation Sans" font-weight="bold" font-size="20.74" fill="#000" textLength="122.70" lengthAdjust="spacingAndGlyphs">p-Gsk3<tspan font-family="Liberation Serif" font-weight="normal">β</tspan>(S9)</text>
<text x="444.13" y="429.19" font-family="Liberation Sans" font-weight="bold" font-size="20.96" fill="#000" textLength="64.15" lengthAdjust="spacingAndGlyphs">Gsk3<tspan font-family="Liberation Serif" font-weight="normal">β</tspan></text>
<text x="442.16" y="491.50" font-family="Liberation Sans" font-weight="bold" font-size="20.00" fill="#000" textLength="66.43" lengthAdjust="spacingAndGlyphs">Gapdh</text>
<text x="809.44" y="362.70" font-family="Liberation Sans" font-weight="bold" font-size="21.43" fill="#000" textLength="22.72" lengthAdjust="spacingAndGlyphs">46</text>
<text x="809.44" y="427.40" font-family="Liberation Sans" font-weight="bold" font-size="21.43" fill="#000" textLength="22.72" lengthAdjust="spacingAndGlyphs">46</text>
<text x="809.50" y="491.70" font-family="Liberation Sans" font-weight="bold" font-size="21.43" fill="#000" textLength="22.14" lengthAdjust="spacingAndGlyphs">37</text>
<text x="875.78" y="298.70" font-family="Liberation Sans" font-weight="bold" font-size="39.57" fill="#000" textLength="29.61" lengthAdjust="spacingAndGlyphs">G</text>
<text x="980.35" y="317.02" font-family="Liberation Sans" font-weight="bold" font-size="23.62" fill="#000" textLength="195.32" lengthAdjust="spacingAndGlyphs">p-GSK3<tspan font-family="Liberation Serif" font-weight="normal">β</tspan>/GSK3<tspan font-family="Liberation Serif" font-weight="normal">β</tspan></text>
<rect x="965.25" y="346.10" width="3.75" height="153.60" fill="#000" />
<rect x="961.50" y="346.10" width="7.50" height="3.80" fill="#000" />
<rect x="961.50" y="421.10" width="7.50" height="3.80" fill="#000" />
<rect x="961.50" y="495.90" width="228.50" height="3.80" fill="#000" />
<text x="924.14" y="356.70" font-family="Liberation Sans" font-weight="bold" font-size="25.71" fill="#000">2.4</text>
<text x="925.04" y="431.70" font-family="Liberation Sans" font-weight="bold" font-size="25.71" fill="#000">1.2</text>
<text x="946.51" y="506.50" font-family="Liberation Sans" font-weight="bold" font-size="25.71" fill="#000">0</text>
<text x="932.42" y="524.10" font-family="Liberation Sans" font-weight="bold" font-size="25.51" fill="#000" textLength="44.49" lengthAdjust="spacingAndGlyphs">Day</text>
<text x="1012.36" y="527.10" font-family="Liberation Sans" font-weight="bold" font-size="24.86" fill="#000">2</text>
<text x="1080.63" y="527.10" font-family="Liberation Sans" font-weight="bold" font-size="24.86" fill="#000">3</text>
<text x="1148.88" y="527.10" font-family="Liberation Sans" font-weight="bold" font-size="25.22" fill="#000">4</text>
<text x="-1.62" y="0.00" font-family="Liberation Sans" font-weight="bold" font-size="25.10" fill="#000" textLength="166.15" lengthAdjust="spacingAndGlyphs" transform="translate(879.70,504.20) rotate(-90)">Relative Level</text>
<text x="-1.26" y="0.00" font-family="Liberation Sans" font-weight="bold" font-size="25.24" fill="#000" textLength="102.01" lengthAdjust="spacingAndGlyphs" transform="translate(914.70,473.00) rotate(-90)">(protein)</text>
<polyline points="1003.00,435.00 1077.60,449.00 1153.20,355.00" fill="none" stroke="#000" stroke-width="4.5" stroke-linejoin="miter" />
<polyline points="1003.00,486.00 1077.60,477.50 1153.20,419.40" fill="none" stroke="#ff0000" stroke-width="4.5" stroke-linejoin="miter" />
<rect x="1001.80" y="432.20" width="2.40" height="5.60" fill="#444" />
<rect x="1076.40" y="446.20" width="2.40" height="5.60" fill="#444" />
<rect x="1152.00" y="352.20" width="2.40" height="5.60" fill="#444" />
<rect x="1001.80" y="483.20" width="2.40" height="5.60" fill="#444" />
<rect x="1076.40" y="474.70" width="2.40" height="5.60" fill="#444" />
<rect x="1152.00" y="416.60" width="2.40" height="5.60" fill="#444" />
<text x="1000.40" y="482.41" font-family="Liberation Sans" font-weight="bold" font-size="21.00" fill="#000">*</text>
<text x="1072.61" y="472.50" font-family="Liberation Sans" font-weight="bold" font-size="21.00" fill="#000">*</text>
<text x="1147.11" y="415.81" font-family="Liberation Sans" font-weight="bold" font-size="21.00" fill="#000">*</text>
<text x="459.51" y="558.60" font-family="Liberation Sans" font-weight="bold" font-size="38.55" fill="#000" textLength="26.56" lengthAdjust="spacingAndGlyphs">H</text>
<text x="534.39" y="557.20" font-family="Liberation Sans" font-weight="bold" font-size="24.69" fill="#000" textLength="114.02" lengthAdjust="spacingAndGlyphs">Normoxia</text>
<text x="669.89" y="557.20" font-family="Liberation Sans" font-weight="bold" font-size="24.69" fill="#000" textLength="96.27" lengthAdjust="spacingAndGlyphs">Hypoxia</text>
<rect x="536.00" y="565.50" width="111.20" height="3.50" fill="#000" />
<rect x="663.30" y="565.50" width="111.70" height="3.50" fill="#000" />
<text x="534.26" y="590.80" font-family="Liberation Sans" font-weight="bold" font-size="21.71" fill="#000" textLength="26.44" lengthAdjust="spacingAndGlyphs">D2</text>
<text x="577.66" y="590.80" font-family="Liberation Sans" font-weight="bold" font-size="21.71" fill="#000" textLength="26.33" lengthAdjust="spacingAndGlyphs">D3</text>
<text x="619.86" y="590.80" font-family="Liberation Sans" font-weight="bold" font-size="22.03" fill="#000" textLength="26.31" lengthAdjust="spacingAndGlyphs">D4</text>
<text x="664.03" y="590.80" font-family="Liberation Sans" font-weight="bold" font-size="21.71" fill="#000" textLength="26.88" lengthAdjust="spacingAndGlyphs">D2</text>
<text x="706.92" y="590.80" font-family="Liberation Sans" font-weight="bold" font-size="21.71" fill="#000" textLength="27.20" lengthAdjust="spacingAndGlyphs">D3</text>
<text x="749.26" y="590.80" font-family="Liberation Sans" font-weight="bold" font-size="22.03" fill="#000" textLength="26.42" lengthAdjust="spacingAndGlyphs">D4</text>
<text x="797.45" y="587.93" font-family="Liberation Sans" font-weight="bold" font-size="20.59" fill="#000" textLength="44.36" lengthAdjust="spacingAndGlyphs">(KD)</text>
<rect x="517.60" y="604.50" width="272.00" height="53.10" fill="#000" />
<rect x="521.60" y="608.50" width="264.00" height="45.10" fill="#dcdcdc" />
<g clip-path="url(#c6)"><rect x="522.0" y="606.0" width="31.5" height="39.0" fill="#000" fill-opacity="0.45" filter="url(#f2)"/><rect x="566.3" y="606.0" width="31.5" height="39.0" fill="#000" fill-opacity="0.55" filter="url(#f2)"/><rect x="608.3" y="606.0" width="38.5" height="39.0" fill="#000" fill-opacity="0.42" filter="url(#f2)"/><rect x="658.5" y="606.0" width="32.5" height="39.0" fill="#000" fill-opacity="0.42" filter="url(#f2)"/><rect x="702.8" y="606.0" width="33.9" height="39.0" fill="#000" fill-opacity="0.38" filter="url(#f2)"/><rect x="748.3" y="606.0" width="35.0" height="39.0" fill="#000" fill-opacity="0.38" filter="url(#f2)"/><rect x="522.0" y="640.0" width="31.5" height="18.0" fill="#000" fill-opacity="0.30" filter="url(#f2)"/><rect x="566.3" y="640.0" width="31.5" height="18.0" fill="#000" fill-opacity="0.35" filter="url(#f2)"/><rect x="608.3" y="640.0" width="38.5" height="18.0" fill="#000" fill-opacity="0.28" filter="url(#f2)"/><rect x="658.5" y="640.0" width="32.5" height="18.0" fill="#000" fill-opacity="0.28" filter="url(#f2)"/><rect x="702.8" y="640.0" width="33.9" height="18.0" fill="#000" fill-opacity="0.25" filter="url(#f2)"/><rect x="748.3" y="640.0" width="35.0" height="18.0" fill="#000" fill-opacity="0.25" filter="url(#f2)"/><rect x="522.0" y="611.0" width="31.5" height="32.0" fill="#000" fill-opacity="0.40" filter="url(#f4)"/><rect x="566.3" y="611.0" width="31.5" height="32.0" fill="#000" fill-opacity="0.60" filter="url(#f4)"/><rect x="608.3" y="611.0" width="38.5" height="32.0" fill="#000" fill-opacity="0.40" filter="url(#f4)"/><rect x="658.5" y="611.0" width="32.5" height="32.0" fill="#000" fill-opacity="0.40" filter="url(#f4)"/><rect x="702.8" y="611.0" width="33.9" height="32.0" fill="#000" fill-opacity="0.35" filter="url(#f4)"/><rect x="748.3" y="611.0" width="35.0" height="32.0" fill="#000" fill-opacity="0.30" filter="url(#f4)"/><rect x="523.00" y="618.50" width="30.00" height="14.50" rx="7.25" fill="#000" fill-opacity="0.21" filter="url(#f3)"/><rect x="524.00" y="620.00" width="28.00" height="11.50" rx="3.45" ry="3.80" fill="#000" fill-opacity="0.85" filter="url(#f2)"/><rect x="567.00" y="612.50" width="30.00" height="29.00" rx="14.50" fill="#000" fill-opacity="0.21" filter="url(#f3)"/><rect x="568.00" y="614.00" width="28.00" height="26.00" rx="3.50" ry="4.00" fill="#000" fill-opacity="0.85" filter="url(#f3)"/><rect x="609.00" y="619.50" width="36.00" height="17.00" rx="8.50" fill="#000" fill-opacity="0.17" filter="url(#f3)"/><rect x="610.00" y="621.00" width="34.00" height="14.00" rx="3.50" ry="4.00" fill="#000" fill-opacity="0.70" filter="url(#f3)"/><rect x="659.00" y="618.50" width="31.00" height="15.00" rx="7.50" fill="#000" fill-opacity="0.24" filter="url(#f3)"/><rect x="660.00" y="620.00" width="29.00" height="12.00" rx="3.50" ry="3.96" fill="#000" fill-opacity="0.95" filter="url(#f2)"/><rect x="704.00" y="616.50" width="32.00" height="13.00" rx="6.50" fill="#000" fill-opacity="0.21" filter="url(#f3)"/><rect x="705.00" y="618.00" width="30.00" height="10.00" rx="3.00" ry="3.30" fill="#000" fill-opacity="0.85" filter="url(#f2)"/><rect x="749.00" y="616.50" width="34.00" height="13.00" rx="6.50" fill="#000" fill-opacity="0.21" filter="url(#f3)"/><rect x="750.00" y="618.00" width="32.00" height="10.00" rx="3.00" ry="3.30" fill="#000" fill-opacity="0.85" filter="url(#f2)"/></g>
<rect x="517.60" y="670.60" width="273.50" height="55.90" fill="#000" />
<rect x="521.60" y="674.60" width="265.50" height="47.90" fill="#e4e4e4" />
<g clip-path="url(#c7)"><rect x="524.20" y="682.50" width="43.10" height="20.60" rx="10.30" fill="#000" fill-opacity="0.25" filter="url(#f3)"/><rect x="525.20" y="684.00" width="41.10" height="17.60" rx="3.50" ry="4.00" fill="#000" fill-opacity="1.00" filter="url(#f1)"/><rect x="568.60" y="682.50" width="41.00" height="20.00" rx="10.00" fill="#000" fill-opacity="0.25" filter="url(#f3)"/><rect x="569.60" y="684.00" width="39.00" height="17.00" rx="3.50" ry="4.00" fill="#000" fill-opacity="1.00" filter="url(#f1)"/><rect x="610.90" y="682.80" width="42.10" height="20.30" rx="10.15" fill="#000" fill-opacity="0.25" filter="url(#f3)"/><rect x="611.90" y="684.30" width="40.10" height="17.30" rx="3.50" ry="4.00" fill="#000" fill-opacity="1.00" filter="url(#f1)"/><rect x="655.30" y="682.80" width="40.00" height="19.70" rx="9.85" fill="#000" fill-opacity="0.25" filter="url(#f3)"/><rect x="656.30" y="684.30" width="38.00" height="16.70" rx="3.50" ry="4.00" fill="#000" fill-opacity="1.00" filter="url(#f1)"/><rect x="698.20" y="682.80" width="39.30" height="18.70" rx="9.35" fill="#000" fill-opacity="0.25" filter="url(#f3)"/><rect x="699.20" y="684.30" width="37.30" height="15.70" rx="3.50" ry="4.00" fill="#000" fill-opacity="1.00" filter="url(#f1)"/><rect x="739.80" y="684.50" width="41.50" height="19.00" rx="9.50" fill="#000" fill-opacity="0.25" filter="url(#f3)"/><rect x="740.80" y="686.00" width="39.50" height="16.00" rx="3.50" ry="4.00" fill="#000" fill-opacity="1.00" filter="url(#f1)"/><rect x="749.00" y="693.50" width="24.00" height="15.00" rx="7.50" fill="#000" fill-opacity="0.25" filter="url(#f3)"/><rect x="750.00" y="695.00" width="22.00" height="12.00" rx="3.50" ry="3.96" fill="#000" fill-opacity="1.00" filter="url(#f1)"/></g>
<rect x="517.60" y="738.40" width="274.20" height="55.10" fill="#000" />
<rect x="521.60" y="742.40" width="266.20" height="47.10" fill="#ececec" />
<g clip-path="url(#c8)"><rect x="524.0" y="770.0" width="31.0" height="22.0" fill="#000" fill-opacity="0.15" filter="url(#f2)"/><rect x="569.0" y="770.0" width="32.0" height="22.0" fill="#000" fill-opacity="0.20" filter="url(#f2)"/><rect x="613.0" y="770.0" width="34.0" height="22.0" fill="#000" fill-opacity="0.15" filter="url(#f2)"/><rect x="660.0" y="770.0" width="34.0" height="22.0" fill="#000" fill-opacity="0.10" filter="url(#f2)"/><rect x="708.0" y="770.0" width="30.0" height="22.0" fill="#000" fill-opacity="0.10" filter="url(#f2)"/><rect x="752.0" y="770.0" width="34.0" height="22.0" fill="#000" fill-opacity="0.12" filter="url(#f2)"/><rect x="523.00" y="754.30" width="33.50" height="17.00" rx="8.50" fill="#000" fill-opacity="0.25" filter="url(#f3)"/><rect x="524.00" y="755.80" width="31.50" height="14.00" rx="3.50" ry="4.00" fill="#000" fill-opacity="1.00" filter="url(#f1)"/><rect x="568.60" y="755.50" width="33.40" height="20.00" rx="10.00" fill="#000" fill-opacity="0.25" filter="url(#f3)"/><rect x="569.60" y="757.00" width="31.40" height="17.00" rx="3.50" ry="4.00" fill="#000" fill-opacity="1.00" filter="url(#f1)"/><rect x="612.40" y="756.50" width="35.20" height="18.00" rx="9.00" fill="#000" fill-opacity="0.25" filter="url(#f3)"/><rect x="613.40" y="758.00" width="33.20" height="15.00" rx="3.50" ry="4.00" fill="#000" fill-opacity="1.00" filter="url(#f1)"/><rect x="659.70" y="756.50" width="34.90" height="13.80" rx="6.90" fill="#000" fill-opacity="0.25" filter="url(#f3)"/><rect x="660.70" y="758.00" width="32.90" height="10.80" rx="3.24" ry="3.56" fill="#000" fill-opacity="1.00" filter="url(#f1)"/><rect x="707.30" y="758.20" width="31.30" height="7.70" rx="3.85" fill="#000" fill-opacity="0.23" filter="url(#f3)"/><rect x="708.30" y="759.70" width="29.30" height="4.70" rx="1.41" ry="1.55" fill="#000" fill-opacity="0.90" filter="url(#f06)"/><rect x="751.80" y="755.30" width="35.20" height="15.00" rx="7.50" fill="#000" fill-opacity="0.25" filter="url(#f3)"/><rect x="752.80" y="756.80" width="33.20" height="12.00" rx="3.50" ry="3.96" fill="#000" fill-opacity="1.00" filter="url(#f1)"/></g>
<rect x="517.60" y="807.30" width="273.50" height="55.30" fill="#000" />
<rect x="521.60" y="811.30" width="265.50" height="47.30" fill="#e6e6e6" />
<g clip-path="url(#c9)"><rect x="524.7" y="812.0" width="35.1" height="18.0" fill="#000" fill-opacity="0.12" filter="url(#f15)"/><rect x="570.3" y="812.0" width="34.0" height="18.0" fill="#000" fill-opacity="0.12" filter="url(#f15)"/><rect x="614.0" y="812.0" width="35.8" height="18.0" fill="#000" fill-opacity="0.12" filter="url(#f15)"/><rect x="659.6" y="812.0" width="33.6" height="18.0" fill="#000" fill-opacity="0.12" filter="url(#f15)"/><rect x="704.0" y="812.0" width="33.6" height="18.0" fill="#000" fill-opacity="0.12" filter="url(#f15)"/><rect x="748.4" y="812.0" width="34.6" height="18.0" fill="#000" fill-opacity="0.12" filter="url(#f15)"/><rect x="524.7" y="838.0" width="35.1" height="21.0" fill="#000" fill-opacity="0.42" filter="url(#f15)"/><rect x="570.3" y="838.0" width="34.0" height="21.0" fill="#000" fill-opacity="0.50" filter="url(#f15)"/><rect x="614.0" y="838.0" width="35.8" height="21.0" fill="#000" fill-opacity="0.42" filter="url(#f15)"/><rect x="659.6" y="838.0" width="33.6" height="21.0" fill="#000" fill-opacity="0.35" filter="url(#f15)"/><rect x="704.0" y="838.0" width="33.6" height="21.0" fill="#000" fill-opacity="0.38" filter="url(#f15)"/><rect x="748.4" y="838.0" width="34.6" height="21.0" fill="#000" fill-opacity="0.38" filter="url(#f15)"/><rect x="523.70" y="819.50" width="37.10" height="24.00" rx="12.00" fill="#000" fill-opacity="0.25" filter="url(#f3)"/><rect x="524.70" y="821.00" width="35.10" height="21.00" rx="3.50" ry="4.00" fill="#000" fill-opacity="1.00" filter="url(#f1)"/><rect x="569.30" y="819.50" width="36.00" height="25.00" rx="12.50" fill="#000" fill-opacity="0.25" filter="url(#f3)"/><rect x="570.30" y="821.00" width="34.00" height="22.00" rx="3.50" ry="4.00" fill="#000" fill-opacity="1.00" filter="url(#f1)"/><rect x="613.00" y="819.90" width="37.80" height="23.60" rx="11.80" fill="#000" fill-opacity="0.25" filter="url(#f3)"/><rect x="614.00" y="821.40" width="35.80" height="20.60" rx="3.50" ry="4.00" fill="#000" fill-opacity="1.00" filter="url(#f1)"/><rect x="658.60" y="823.20" width="35.60" height="19.30" rx="9.65" fill="#000" fill-opacity="0.25" filter="url(#f3)"/><rect x="659.60" y="824.70" width="33.60" height="16.30" rx="3.50" ry="4.00" fill="#000" fill-opacity="1.00" filter="url(#f1)"/><rect x="703.00" y="822.50" width="35.60" height="22.00" rx="11.00" fill="#000" fill-opacity="0.25" filter="url(#f3)"/><rect x="704.00" y="824.00" width="33.60" height="19.00" rx="3.50" ry="4.00" fill="#000" fill-opacity="1.00" filter="url(#f1)"/><rect x="747.40" y="822.50" width="36.60" height="22.00" rx="11.00" fill="#000" fill-opacity="0.25" filter="url(#f3)"/><rect x="748.40" y="824.00" width="34.60" height="19.00" rx="3.50" ry="4.00" fill="#000" fill-opacity="1.00" filter="url(#f1)"/></g>
<rect x="517.40" y="875.00" width="273.60" height="55.00" fill="#000" />
<rect x="521.40" y="879.00" width="265.60" height="47.00" fill="#dedede" />
<g clip-path="url(#c10)"><rect x="523.70" y="893.50" width="37.10" height="17.20" rx="8.60" fill="#000" fill-opacity="0.25" filter="url(#f3)"/><rect x="524.70" y="895.00" width="35.10" height="14.20" rx="3.50" ry="4.00" fill="#000" fill-opacity="1.00" filter="url(#f1)"/><rect x="568.60" y="893.50" width="36.70" height="17.00" rx="8.50" fill="#000" fill-opacity="0.25" filter="url(#f3)"/><rect x="569.60" y="895.00" width="34.70" height="14.00" rx="3.50" ry="4.00" fill="#000" fill-opacity="1.00" filter="url(#f1)"/><rect x="613.00" y="893.50" width="39.60" height="16.00" rx="8.00" fill="#000" fill-opacity="0.25" filter="url(#f3)"/><rect x="614.00" y="895.00" width="37.60" height="13.00" rx="3.50" ry="4.00" fill="#000" fill-opacity="1.00" filter="url(#f1)"/><rect x="659.70" y="892.50" width="35.60" height="17.00" rx="8.50" fill="#000" fill-opacity="0.25" filter="url(#f3)"/><rect x="660.70" y="894.00" width="33.60" height="14.00" rx="3.50" ry="4.00" fill="#000" fill-opacity="1.00" filter="url(#f1)"/><rect x="704.70" y="890.30" width="35.00" height="18.20" rx="9.10" fill="#000" fill-opacity="0.25" filter="url(#f3)"/><rect x="705.70" y="891.80" width="33.00" height="15.20" rx="3.50" ry="4.00" fill="#000" fill-opacity="1.00" filter="url(#f1)"/><rect x="748.50" y="891.50" width="37.80" height="18.70" rx="9.35" fill="#000" fill-opacity="0.25" filter="url(#f3)"/><rect x="749.50" y="893.00" width="35.80" height="15.70" rx="3.50" ry="4.00" fill="#000" fill-opacity="1.00" filter="url(#f1)"/></g>
<text x="394.90" y="636.41" font-family="Liberation Sans" font-weight="bold" font-size="19.47" fill="#000" textLength="115.37" lengthAdjust="spacingAndGlyphs">p-Akt(S473)</text>
<text x="476.29" y="705.70" font-family="Liberation Sans" font-weight="bold" font-size="20.28" fill="#000" textLength="32.84" lengthAdjust="spacingAndGlyphs">Akt</text>
<text x="354.14" y="771.94" font-family="Liberation Sans" font-weight="bold" font-size="19.79" fill="#000" textLength="156.48" lengthAdjust="spacingAndGlyphs">p-mTOR(S2448)</text>
<text x="446.22" y="842.00" font-family="Liberation Sans" font-weight="bold" font-size="20.00" fill="#000" textLength="63.24" lengthAdjust="spacingAndGlyphs">mTOR</text>
<text x="445.17" y="909.20" font-family="Liberation Sans" font-weight="bold" font-size="20.14" fill="#000" textLength="65.60" lengthAdjust="spacingAndGlyphs">Gapdh</text>
<text x="807.35" y="638.80" font-family="Liberation Sans" font-weight="bold" font-size="21.57" fill="#000" textLength="23.97" lengthAdjust="spacingAndGlyphs">60</text>
<text x="807.35" y="705.60" font-family="Liberation Sans" font-weight="bold" font-size="21.14" fill="#000" textLength="23.97" lengthAdjust="spacingAndGlyphs">60</text>
<text x="808.37" y="773.80" font-family="Liberation Sans" font-weight="bold" font-size="21.43" fill="#000" textLength="34.68" lengthAdjust="spacingAndGlyphs">289</text>
<text x="808.27" y="841.60" font-family="Liberation Sans" font-weight="bold" font-size="21.43" fill="#000" textLength="34.78" lengthAdjust="spacingAndGlyphs">289</text>
<text x="808.50" y="909.60" font-family="Liberation Sans" font-weight="bold" font-size="21.43" fill="#000" textLength="22.03" lengthAdjust="spacingAndGlyphs">37</text>
<text x="874.92" y="558.00" font-family="Liberation Sans" font-weight="bold" font-size="38.55" fill="#000" textLength="10.15" lengthAdjust="spacingAndGlyphs">I</text>
<rect x="964.30" y="555.05" width="3.70" height="183.90" fill="#000" />
<rect x="958.00" y="555.05" width="10.00" height="3.70" fill="#000" />
<rect x="958.00" y="645.15" width="10.00" height="3.70" fill="#000" />
<rect x="958.00" y="735.25" width="242.00" height="3.70" fill="#000" />
<text x="921.32" y="564.10" font-family="Liberation Sans" font-weight="bold" font-size="21.43" fill="#000">2.4</text>
<text x="922.07" y="654.20" font-family="Liberation Sans" font-weight="bold" font-size="21.43" fill="#000">1.2</text>
<text x="939.96" y="744.30" font-family="Liberation Sans" font-weight="bold" font-size="21.43" fill="#000">0</text>
<text x="-1.35" y="0.00" font-family="Liberation Sans" font-weight="bold" font-size="20.86" fill="#000" textLength="110.40" lengthAdjust="spacingAndGlyphs" transform="translate(912.42,700.90) rotate(-90)">p-AKT/AKT</text>
<text x="930.68" y="762.50" font-family="Liberation Sans" font-weight="bold" font-size="20.58" fill="#000" textLength="37.31" lengthAdjust="spacingAndGlyphs">Day</text>
<text x="1009.52" y="762.50" font-family="Liberation Sans" font-weight="bold" font-size="20.29" fill="#000">2</text>
<text x="1079.47" y="762.50" font-family="Liberation Sans" font-weight="bold" font-size="20.29" fill="#000">3</text>
<text x="1149.19" y="762.50" font-family="Liberation Sans" font-weight="bold" font-size="20.58" fill="#000">4</text>
<rect x="988.00" y="661.70" width="22.70" height="73.70" fill="#000" />
<rect x="995.85" y="659.00" width="7.00" height="3.70" fill="#000" />
<rect x="1010.70" y="650.40" width="23.60" height="85.00" fill="#ff0000" />
<rect x="1019.00" y="647.60" width="7.00" height="3.80" fill="#000" />
<rect x="1058.30" y="583.80" width="23.30" height="151.60" fill="#000" />
<rect x="1066.45" y="581.00" width="7.00" height="3.80" fill="#000" />
<rect x="1081.60" y="673.60" width="22.60" height="61.80" fill="#ff0000" />
<rect x="1089.40" y="667.40" width="7.00" height="3.20" fill="#000" />
<rect x="1091.40" y="667.40" width="3.00" height="7.20" fill="#000" />
<rect x="1128.60" y="639.00" width="23.20" height="96.40" fill="#000" />
<rect x="1136.70" y="634.80" width="7.00" height="5.20" fill="#000" />
<rect x="1151.80" y="671.60" width="23.20" height="63.80" fill="#ff0000" />
<rect x="1159.90" y="669.40" width="7.00" height="3.20" fill="#000" />
<text x="1088.60" y="658.60" font-family="Liberation Sans" font-weight="bold" font-size="19.00" fill="#000">*</text>
<text x="1158.80" y="660.80" font-family="Liberation Sans" font-weight="bold" font-size="19.00" fill="#000">*</text>
<text x="878.79" y="786.70" font-family="Liberation Sans" font-weight="bold" font-size="37.68" fill="#000" textLength="18.85" lengthAdjust="spacingAndGlyphs">J</text>
<rect x="963.60" y="784.15" width="3.70" height="183.90" fill="#000" />
<rect x="958.00" y="784.15" width="9.30" height="3.70" fill="#000" />
<rect x="958.00" y="874.25" width="9.30" height="3.70" fill="#000" />
<rect x="958.00" y="964.35" width="242.00" height="3.70" fill="#000" />
<text x="923.07" y="793.20" font-family="Liberation Sans" font-weight="bold" font-size="21.43" fill="#000">1.2</text>
<text x="922.96" y="883.30" font-family="Liberation Sans" font-weight="bold" font-size="21.43" fill="#000">0.6</text>
<text x="940.96" y="973.40" font-family="Liberation Sans" font-weight="bold" font-size="21.43" fill="#000">0</text>
<text x="-1.35" y="0.00" font-family="Liberation Sans" font-weight="bold" font-size="20.96" fill="#000" textLength="148.98" lengthAdjust="spacingAndGlyphs" transform="translate(912.40,950.30) rotate(-90)">p-mTOR/mTOR</text>
<text x="930.68" y="991.60" font-family="Liberation Sans" font-weight="bold" font-size="20.58" fill="#000" textLength="37.31" lengthAdjust="spacingAndGlyphs">Day</text>
<text x="1009.52" y="991.60" font-family="Liberation Sans" font-weight="bold" font-size="20.29" fill="#000">2</text>
<text x="1079.47" y="991.60" font-family="Liberation Sans" font-weight="bold" font-size="20.29" fill="#000">3</text>
<text x="1149.19" y="991.60" font-family="Liberation Sans" font-weight="bold" font-size="20.58" fill="#000">4</text>
<rect x="988.00" y="816.00" width="22.70" height="148.50" fill="#000" />
<rect x="995.85" y="813.00" width="7.00" height="4.00" fill="#000" />
<rect x="1010.70" y="857.00" width="23.60" height="107.50" fill="#ff0000" />
<rect x="1019.00" y="854.20" width="7.00" height="3.80" fill="#000" />
<rect x="1058.30" y="832.00" width="23.30" height="132.50" fill="#000" />
<rect x="1066.45" y="829.20" width="7.00" height="3.80" fill="#000" />
<rect x="1081.60" y="932.00" width="22.60" height="32.50" fill="#ff0000" />
<rect x="1089.40" y="928.40" width="7.00" height="4.60" fill="#000" />
<rect x="1128.60" y="842.30" width="23.20" height="122.20" fill="#000" />
<rect x="1136.70" y="839.40" width="7.00" height="3.90" fill="#000" />
<rect x="1151.80" y="840.80" width="23.20" height="123.70" fill="#ff0000" />
<rect x="1159.90" y="837.70" width="7.00" height="4.10" fill="#000" />
<text x="1018.29" y="846.80" font-family="Liberation Sans" font-weight="bold" font-size="19.00" fill="#000">*</text>
<text x="1088.60" y="920.39" font-family="Liberation Sans" font-weight="bold" font-size="19.00" fill="#000">*</text>
<text x="4.58" y="1030.70" font-family="Liberation Sans" font-weight="bold" font-size="38.70" fill="#000" textLength="26.87" lengthAdjust="spacingAndGlyphs">K</text>
<text x="2.33" y="1054.70" font-family="Liberation Sans" font-weight="bold" font-size="21.00" fill="#000" textLength="73.54" lengthAdjust="spacingAndGlyphs">mESCs</text>
<ellipse cx="39.3" cy="1074.5" rx="10.5" ry="6.8" transform="rotate(-25 39.3 1074.5)" fill="#fff" stroke="#333" stroke-width="0.9"/>
<ellipse cx="30" cy="1094.3" rx="7" ry="5.5" transform="rotate(-30 30 1094.3)" fill="#fff" stroke="#333" stroke-width="0.9"/>
<ellipse cx="15.3" cy="1107.7" rx="17" ry="9.5" transform="rotate(-45 15.3 1107.7)" fill="#fff" stroke="#333" stroke-width="0.9"/>
<ellipse cx="46.7" cy="1087" rx="15" ry="9" transform="rotate(-40 46.7 1087)" fill="#fff" stroke="#333" stroke-width="0.9"/>
<ellipse cx="16.3" cy="1085.5" rx="19" ry="9.8" transform="rotate(-42 16.3 1085.5)" fill="#fff" stroke="#333" stroke-width="0.9"/>
<ellipse cx="59.3" cy="1101" rx="19" ry="10.5" transform="rotate(-45 59.3 1101)" fill="#fff" stroke="#333" stroke-width="0.9"/>
<ellipse cx="31.3" cy="1113" rx="20" ry="10.5" transform="rotate(-47 31.3 1113)" fill="#fff" stroke="#333" stroke-width="0.9"/>
<circle cx="19.7" cy="1082.7" r="5.6" fill="#000"/>
<circle cx="36.3" cy="1080" r="5.6" fill="#000"/>
<circle cx="48.3" cy="1089" r="5.6" fill="#000"/>
<circle cx="60.7" cy="1098.3" r="5.6" fill="#000"/>
<circle cx="22" cy="1101.3" r="5.6" fill="#000"/>
<circle cx="34.3" cy="1110.3" r="5.6" fill="#000"/>
<line x1="83.30" y1="1098.30" x2="138.00" y2="1098.30" stroke="#000" stroke-width="1.6" />
<polygon points="136.70,1092.00 157.50,1098.50 136.70,1105.30" fill="#000"/>
<text x="166.73" y="1052.30" font-family="Liberation Sans" font-weight="bold" font-size="20.00" fill="#000" textLength="142.90" lengthAdjust="spacingAndGlyphs">Differentiation</text>
<line x1="166.40" y1="1079.60" x2="298.00" y2="1079.60" stroke="#ff0000" stroke-width="1.5" />
<polygon points="296.20,1072.30 316.30,1079.60 296.20,1086.10" fill="#ff0000"/>
<line x1="166.40" y1="1115.10" x2="298.00" y2="1115.10" stroke="#3399ff" stroke-width="1.5" />
<polygon points="296.20,1107.90 316.30,1115.10 296.20,1122.40" fill="#3399ff"/>
<rect x="337.30" y="1049.80" width="15.20" height="15.00" fill="#ff0000" />
<text x="362.38" y="1064.30" font-family="Liberation Sans" font-weight="bold" font-size="21.00" fill="#000" textLength="63.17" lengthAdjust="spacingAndGlyphs">DMSO</text>
<rect x="337.30" y="1072.90" width="15.20" height="15.00" fill="#3399ff" />
<text x="361.87" y="1087.30" font-family="Liberation Sans" font-weight="bold" font-size="21.14" fill="#000" textLength="52.19" lengthAdjust="spacingAndGlyphs">SC79</text>
<rect x="64.00" y="1169.20" width="268.00" height="3.60" fill="#000" />
<polygon points="326.00,1161.70 368.00,1171.00 326.00,1181.00 334.00,1171.00" fill="#000"/>
<rect x="88.20" y="1155.00" width="2.80" height="16.00" fill="#000" />
<text x="81.37" y="1198.00" font-family="Liberation Sans" font-weight="bold" font-size="18.50" fill="#000">-2</text>
<rect x="125.00" y="1155.00" width="2.80" height="16.00" fill="#000" />
<text x="118.03" y="1198.00" font-family="Liberation Sans" font-weight="bold" font-size="18.50" fill="#000">-1</text>
<rect x="162.40" y="1155.00" width="2.80" height="16.00" fill="#000" />
<text x="158.67" y="1198.00" font-family="Liberation Sans" font-weight="bold" font-size="18.50" fill="#000">0</text>
<rect x="200.10" y="1155.00" width="2.80" height="16.00" fill="#000" />
<text x="196.04" y="1198.00" font-family="Liberation Sans" font-weight="bold" font-size="18.50" fill="#000">1</text>
<rect x="238.30" y="1155.00" width="2.80" height="16.00" fill="#000" />
<text x="234.61" y="1198.00" font-family="Liberation Sans" font-weight="bold" font-size="18.50" fill="#000">2</text>
<rect x="275.20" y="1155.00" width="2.80" height="16.00" fill="#000" />
<text x="271.56" y="1198.00" font-family="Liberation Sans" font-weight="bold" font-size="18.50" fill="#000">3</text>
<rect x="312.90" y="1155.00" width="2.80" height="16.00" fill="#000" />
<text x="309.07" y="1198.00" font-family="Liberation Sans" font-weight="bold" font-size="18.50" fill="#000">4</text>
<text x="340.72" y="1198.10" font-family="Liberation Sans" font-weight="bold" font-size="18.70" fill="#000" textLength="36.07" lengthAdjust="spacingAndGlyphs">Day</text>
<line x1="163.80" y1="1203.70" x2="163.80" y2="1232.00" stroke="#000" stroke-width="1" />
<line x1="314.30" y1="1203.70" x2="314.30" y2="1232.00" stroke="#000" stroke-width="1" />
<line x1="170.00" y1="1216.40" x2="310.00" y2="1216.40" stroke="#000" stroke-width="1.2" />
<polygon points="164.50,1216.40 188.00,1210.00 184.00,1216.40 188.00,1222.80" fill="#000"/>
<polygon points="313.60,1216.40 291.00,1210.00 295.00,1216.40 291.00,1222.80" fill="#000"/>
<text x="208.93" y="1239.00" font-family="Liberation Sans" font-weight="bold" font-size="16.55" fill="#000" textLength="63.86" lengthAdjust="spacingAndGlyphs">Hypoxic</text>
<text x="458.99" y="1031.00" font-family="Liberation Sans" font-weight="bold" font-size="38.41" fill="#000" textLength="22.66" lengthAdjust="spacingAndGlyphs">L</text>
<text x="548.38" y="1058.75" font-family="Liberation Sans" font-weight="bold" font-size="25.64" fill="#000" textLength="74.85" lengthAdjust="spacingAndGlyphs">DMSO</text>
<text x="693.46" y="1058.75" font-family="Liberation Sans" font-weight="bold" font-size="25.64" fill="#000" textLength="62.05" lengthAdjust="spacingAndGlyphs">SC79</text>
<rect x="523.30" y="1065.90" width="124.40" height="2.70" fill="#000" />
<rect x="661.90" y="1065.90" width="124.80" height="2.70" fill="#000" />
<text x="524.97" y="1095.60" font-family="Liberation Sans" font-weight="bold" font-size="24.07" fill="#000" textLength="32.01" lengthAdjust="spacingAndGlyphs">D2</text>
<text x="571.21" y="1095.60" font-family="Liberation Sans" font-weight="bold" font-size="24.07" fill="#000" textLength="31.33" lengthAdjust="spacingAndGlyphs">D3</text>
<text x="616.40" y="1095.60" font-family="Liberation Sans" font-weight="bold" font-size="24.42" fill="#000" textLength="31.51" lengthAdjust="spacingAndGlyphs">D4</text>
<text x="662.47" y="1095.60" font-family="Liberation Sans" font-weight="bold" font-size="24.07" fill="#000" textLength="32.01" lengthAdjust="spacingAndGlyphs">D2</text>
<text x="707.48" y="1095.60" font-family="Liberation Sans" font-weight="bold" font-size="24.07" fill="#000" textLength="31.88" lengthAdjust="spacingAndGlyphs">D3</text>
<text x="753.20" y="1095.60" font-family="Liberation Sans" font-weight="bold" font-size="24.42" fill="#000" textLength="31.51" lengthAdjust="spacingAndGlyphs">D4</text>
<text x="796.92" y="1091.04" font-family="Liberation Sans" font-weight="bold" font-size="25.03" fill="#000" textLength="54.18" lengthAdjust="spacingAndGlyphs">(KD)</text>
<rect x="520.00" y="1107.60" width="271.70" height="39.15" fill="#000" />
<rect x="523.50" y="1111.10" width="264.70" height="32.15" fill="#f2f2f2" />
<g clip-path="url(#c11)"><rect x="524.3" y="1110.0" width="32.7" height="36.0" fill="#000" fill-opacity="0.22" filter="url(#f3)"/><rect x="572.2" y="1110.0" width="32.6" height="36.0" fill="#000" fill-opacity="0.42" filter="url(#f3)"/><rect x="617.7" y="1110.0" width="35.0" height="36.0" fill="#000" fill-opacity="0.50" filter="url(#f3)"/><rect x="663.2" y="1110.0" width="38.5" height="36.0" fill="#000" fill-opacity="0.62" filter="url(#f3)"/><rect x="711.0" y="1110.0" width="33.8" height="36.0" fill="#000" fill-opacity="0.60" filter="url(#f3)"/><rect x="755.3" y="1110.0" width="32.7" height="36.0" fill="#000" fill-opacity="0.30" filter="url(#f3)"/><rect x="525.00" y="1112.50" width="32.00" height="23.00" rx="11.50" fill="#000" fill-opacity="0.04" filter="url(#f3)"/><rect x="526.00" y="1114.00" width="30.00" height="20.00" rx="3.50" ry="4.00" fill="#000" fill-opacity="0.15" filter="url(#f4)"/><rect x="573.00" y="1117.50" width="31.00" height="20.00" rx="10.00" fill="#000" fill-opacity="0.07" filter="url(#f3)"/><rect x="574.00" y="1119.00" width="29.00" height="17.00" rx="3.50" ry="4.00" fill="#000" fill-opacity="0.30" filter="url(#f3)"/><rect x="621.00" y="1122.50" width="32.00" height="21.00" rx="10.50" fill="#000" fill-opacity="0.19" filter="url(#f3)"/><rect x="622.00" y="1124.00" width="30.00" height="18.00" rx="3.50" ry="4.00" fill="#000" fill-opacity="0.75" filter="url(#f3)"/><rect x="664.00" y="1114.50" width="37.00" height="27.00" rx="13.50" fill="#000" fill-opacity="0.06" filter="url(#f3)"/><rect x="665.00" y="1116.00" width="35.00" height="24.00" rx="3.50" ry="4.00" fill="#000" fill-opacity="0.25" filter="url(#f4)"/><rect x="712.00" y="1112.50" width="32.00" height="31.00" rx="15.50" fill="#000" fill-opacity="0.21" filter="url(#f3)"/><rect x="713.00" y="1114.00" width="30.00" height="28.00" rx="3.50" ry="4.00" fill="#000" fill-opacity="0.85" filter="url(#f4)"/><rect x="756.00" y="1118.50" width="31.00" height="21.00" rx="10.50" fill="#000" fill-opacity="0.04" filter="url(#f3)"/><rect x="757.00" y="1120.00" width="29.00" height="18.00" rx="3.50" ry="4.00" fill="#000" fill-opacity="0.15" filter="url(#f4)"/></g>
<rect x="520.30" y="1159.60" width="269.20" height="39.40" fill="#000" />
<rect x="523.30" y="1162.60" width="263.20" height="33.40" fill="#f0f0f0" />
<g clip-path="url(#c12)"><rect x="528.0" y="1161.0" width="32.0" height="14.0" fill="#000" fill-opacity="0.25" filter="url(#f2)"/><rect x="573.0" y="1161.0" width="32.0" height="14.0" fill="#000" fill-opacity="0.25" filter="url(#f2)"/><rect x="617.0" y="1161.0" width="34.0" height="14.0" fill="#000" fill-opacity="0.25" filter="url(#f2)"/><rect x="663.0" y="1161.0" width="33.0" height="14.0" fill="#000" fill-opacity="0.25" filter="url(#f2)"/><rect x="707.0" y="1161.0" width="35.0" height="14.0" fill="#000" fill-opacity="0.25" filter="url(#f2)"/><rect x="753.0" y="1161.0" width="31.0" height="14.0" fill="#000" fill-opacity="0.25" filter="url(#f2)"/><rect x="525.60" y="1172.25" width="36.90" height="16.50" rx="8.25" fill="#000" fill-opacity="0.25" filter="url(#f3)"/><rect x="526.60" y="1173.75" width="34.90" height="13.50" rx="3.50" ry="4.00" fill="#000" fill-opacity="1.00" filter="url(#f1)"/><rect x="570.60" y="1170.00" width="36.90" height="18.75" rx="9.38" fill="#000" fill-opacity="0.25" filter="url(#f3)"/><rect x="571.60" y="1171.50" width="34.90" height="15.75" rx="3.50" ry="4.00" fill="#000" fill-opacity="1.00" filter="url(#f1)"/><rect x="614.75" y="1167.75" width="39.15" height="21.00" rx="10.50" fill="#000" fill-opacity="0.25" filter="url(#f3)"/><rect x="615.75" y="1169.25" width="37.15" height="18.00" rx="3.50" ry="4.00" fill="#000" fill-opacity="1.00" filter="url(#f1)"/><rect x="660.90" y="1168.50" width="38.00" height="20.25" rx="10.12" fill="#000" fill-opacity="0.25" filter="url(#f3)"/><rect x="661.90" y="1170.00" width="36.00" height="17.25" rx="3.50" ry="4.00" fill="#000" fill-opacity="1.00" filter="url(#f1)"/><rect x="704.75" y="1167.75" width="40.25" height="21.00" rx="10.50" fill="#000" fill-opacity="0.25" filter="url(#f3)"/><rect x="705.75" y="1169.25" width="38.25" height="18.00" rx="3.50" ry="4.00" fill="#000" fill-opacity="1.00" filter="url(#f1)"/><rect x="750.90" y="1168.50" width="35.70" height="19.50" rx="9.75" fill="#000" fill-opacity="0.25" filter="url(#f3)"/><rect x="751.90" y="1170.00" width="33.70" height="16.50" rx="3.50" ry="4.00" fill="#000" fill-opacity="1.00" filter="url(#f1)"/></g>
<rect x="520.30" y="1213.80" width="269.20" height="39.80" fill="#000" />
<rect x="523.30" y="1216.80" width="263.20" height="33.80" fill="#e8e8e8" />
<g clip-path="url(#c13)"><rect x="529.00" y="1231.50" width="35.75" height="10.50" rx="5.25" fill="#000" fill-opacity="0.25" filter="url(#f3)"/><rect x="530.00" y="1233.00" width="33.75" height="7.50" rx="2.25" ry="2.48" fill="#000" fill-opacity="1.00" filter="url(#f1)"/><rect x="575.00" y="1230.00" width="34.80" height="12.00" rx="6.00" fill="#000" fill-opacity="0.25" filter="url(#f3)"/><rect x="576.00" y="1231.50" width="32.80" height="9.00" rx="2.70" ry="2.97" fill="#000" fill-opacity="1.00" filter="url(#f1)"/><rect x="619.25" y="1227.50" width="36.75" height="14.50" rx="7.25" fill="#000" fill-opacity="0.25" filter="url(#f3)"/><rect x="620.25" y="1229.00" width="34.75" height="11.50" rx="3.45" ry="3.80" fill="#000" fill-opacity="1.00" filter="url(#f1)"/><rect x="663.00" y="1228.50" width="32.50" height="10.80" rx="5.40" fill="#000" fill-opacity="0.25" filter="url(#f3)"/><rect x="664.00" y="1230.00" width="30.50" height="7.80" rx="2.34" ry="2.57" fill="#000" fill-opacity="1.00" filter="url(#f1)"/><rect x="711.50" y="1229.00" width="31.25" height="12.00" rx="6.00" fill="#000" fill-opacity="0.25" filter="url(#f3)"/><rect x="712.50" y="1230.50" width="29.25" height="9.00" rx="2.70" ry="2.97" fill="#000" fill-opacity="1.00" filter="url(#f1)"/><rect x="749.75" y="1226.00" width="31.25" height="16.00" rx="8.00" fill="#000" fill-opacity="0.25" filter="url(#f3)"/><rect x="750.75" y="1227.50" width="29.25" height="13.00" rx="3.50" ry="4.00" fill="#000" fill-opacity="1.00" filter="url(#f1)"/></g>
<rect x="520.30" y="1269.00" width="269.20" height="39.40" fill="#000" />
<rect x="523.30" y="1272.00" width="263.20" height="33.40" fill="#ececec" />
<g clip-path="url(#c14)"><rect x="528.00" y="1282.10" width="40.00" height="13.15" rx="6.58" fill="#000" fill-opacity="0.22" filter="url(#f3)"/><rect x="529.00" y="1283.60" width="38.00" height="10.15" rx="3.05" ry="3.35" fill="#000" fill-opacity="0.87" filter="url(#f1)"/><rect x="574.00" y="1278.50" width="39.00" height="18.00" rx="9.00" fill="#000" fill-opacity="0.22" filter="url(#f3)"/><rect x="575.00" y="1280.00" width="37.00" height="15.00" rx="3.50" ry="4.00" fill="#000" fill-opacity="0.87" filter="url(#f1)"/><rect x="618.00" y="1277.50" width="39.25" height="17.75" rx="8.88" fill="#000" fill-opacity="0.22" filter="url(#f3)"/><rect x="619.00" y="1279.00" width="37.25" height="14.75" rx="3.50" ry="4.00" fill="#000" fill-opacity="0.87" filter="url(#f1)"/><rect x="662.00" y="1279.90" width="34.60" height="12.00" rx="6.00" fill="#000" fill-opacity="0.22" filter="url(#f3)"/><rect x="663.00" y="1281.40" width="32.60" height="9.00" rx="2.70" ry="2.97" fill="#000" fill-opacity="0.87" filter="url(#f1)"/><rect x="701.40" y="1278.50" width="42.60" height="16.30" rx="8.15" fill="#000" fill-opacity="0.22" filter="url(#f3)"/><rect x="702.40" y="1280.00" width="40.60" height="13.30" rx="3.50" ry="4.00" fill="#000" fill-opacity="0.87" filter="url(#f1)"/><rect x="748.00" y="1278.50" width="36.40" height="16.00" rx="8.00" fill="#000" fill-opacity="0.22" filter="url(#f3)"/><rect x="749.00" y="1280.00" width="34.40" height="13.00" rx="3.50" ry="4.00" fill="#000" fill-opacity="0.87" filter="url(#f1)"/></g>
<rect x="520.30" y="1327.00" width="269.20" height="40.30" fill="#000" />
<rect x="523.30" y="1330.00" width="263.20" height="34.30" fill="#f0f0f0" />
<g clip-path="url(#c15)"><rect x="523.2" y="1355.0" width="34.8" height="11.0" fill="#000" fill-opacity="0.35" filter="url(#f15)"/><rect x="566.0" y="1355.0" width="37.0" height="11.0" fill="#000" fill-opacity="0.30" filter="url(#f15)"/><rect x="611.2" y="1355.0" width="37.1" height="11.0" fill="#000" fill-opacity="0.30" filter="url(#f15)"/><rect x="655.8" y="1355.0" width="36.5" height="11.0" fill="#000" fill-opacity="0.30" filter="url(#f15)"/><rect x="701.2" y="1355.0" width="34.9" height="11.0" fill="#000" fill-opacity="0.30" filter="url(#f15)"/><rect x="746.2" y="1355.0" width="37.1" height="11.0" fill="#000" fill-opacity="0.40" filter="url(#f15)"/><rect x="522.25" y="1346.25" width="36.75" height="18.75" rx="9.38" fill="#000" fill-opacity="0.25" filter="url(#f3)"/><rect x="523.25" y="1347.75" width="34.75" height="15.75" rx="3.50" ry="4.00" fill="#000" fill-opacity="1.00" filter="url(#f1)"/><rect x="565.00" y="1348.50" width="39.00" height="15.40" rx="7.70" fill="#000" fill-opacity="0.25" filter="url(#f3)"/><rect x="566.00" y="1350.00" width="37.00" height="12.40" rx="3.50" ry="4.00" fill="#000" fill-opacity="1.00" filter="url(#f1)"/><rect x="610.25" y="1347.40" width="39.15" height="12.00" rx="6.00" fill="#000" fill-opacity="0.25" filter="url(#f3)"/><rect x="611.25" y="1348.90" width="37.15" height="9.00" rx="2.70" ry="2.97" fill="#000" fill-opacity="1.00" filter="url(#f1)"/><rect x="654.80" y="1345.10" width="38.45" height="13.15" rx="6.58" fill="#000" fill-opacity="0.25" filter="url(#f3)"/><rect x="655.80" y="1346.60" width="36.45" height="10.15" rx="3.05" ry="3.35" fill="#000" fill-opacity="1.00" filter="url(#f1)"/><rect x="700.25" y="1342.90" width="36.85" height="15.35" rx="7.67" fill="#000" fill-opacity="0.25" filter="url(#f3)"/><rect x="701.25" y="1344.40" width="34.85" height="12.35" rx="3.50" ry="4.00" fill="#000" fill-opacity="1.00" filter="url(#f1)"/><rect x="745.25" y="1337.25" width="39.15" height="24.25" rx="12.12" fill="#000" fill-opacity="0.25" filter="url(#f3)"/><rect x="746.25" y="1338.75" width="37.15" height="21.25" rx="3.50" ry="4.00" fill="#000" fill-opacity="1.00" filter="url(#f1)"/></g>
<rect x="520.40" y="1378.60" width="270.00" height="39.40" fill="#000" />
<rect x="523.40" y="1381.60" width="264.00" height="33.40" fill="#dcdcdc" />
<g clip-path="url(#c16)"><rect x="528.40" y="1385.90" width="34.10" height="18.60" rx="9.30" fill="#000" fill-opacity="0.25" filter="url(#f3)"/><rect x="529.40" y="1387.40" width="32.10" height="15.60" rx="3.50" ry="4.00" fill="#000" fill-opacity="1.00" filter="url(#f1)"/><rect x="568.60" y="1385.50" width="35.90" height="22.00" rx="11.00" fill="#000" fill-opacity="0.25" filter="url(#f3)"/><rect x="569.60" y="1387.00" width="33.90" height="19.00" rx="3.50" ry="4.00" fill="#000" fill-opacity="1.00" filter="url(#f1)"/><rect x="607.60" y="1385.00" width="43.40" height="25.50" rx="12.75" fill="#000" fill-opacity="0.25" filter="url(#f3)"/><rect x="608.60" y="1386.50" width="41.40" height="22.50" rx="3.50" ry="4.00" fill="#000" fill-opacity="1.00" filter="url(#f1)"/><rect x="655.00" y="1386.50" width="37.40" height="21.00" rx="10.50" fill="#000" fill-opacity="0.25" filter="url(#f3)"/><rect x="656.00" y="1388.00" width="35.40" height="18.00" rx="3.50" ry="4.00" fill="#000" fill-opacity="1.00" filter="url(#f1)"/><rect x="698.50" y="1386.50" width="36.50" height="20.00" rx="10.00" fill="#000" fill-opacity="0.25" filter="url(#f3)"/><rect x="699.50" y="1388.00" width="34.50" height="17.00" rx="3.50" ry="4.00" fill="#000" fill-opacity="1.00" filter="url(#f1)"/><rect x="741.40" y="1386.50" width="40.10" height="20.00" rx="10.00" fill="#000" fill-opacity="0.25" filter="url(#f3)"/><rect x="742.40" y="1388.00" width="38.10" height="17.00" rx="3.50" ry="4.00" fill="#000" fill-opacity="1.00" filter="url(#f1)"/></g>
<text x="369.97" y="1130.92" font-family="Liberation Sans" font-weight="bold" font-size="24.17" fill="#000" textLength="139.10" lengthAdjust="spacingAndGlyphs">p-Akt(S473)</text>
<text x="467.57" y="1188.90" font-family="Liberation Sans" font-weight="bold" font-size="24.83" fill="#000" textLength="40.52" lengthAdjust="spacingAndGlyphs">Akt</text>
<text x="360.63" y="1240.35" font-family="Liberation Sans" font-weight="bold" font-size="24.89" fill="#000" textLength="148.30" lengthAdjust="spacingAndGlyphs">p-Gsk3<tspan font-family="Liberation Serif" font-weight="normal">β</tspan>(S9)</text>
<text x="432.97" y="1294.48" font-family="Liberation Sans" font-weight="bold" font-size="23.83" fill="#000" textLength="75.99" lengthAdjust="spacingAndGlyphs">Gsk3<tspan font-family="Liberation Serif" font-weight="normal">β</tspan></text>
<text x="394.04" y="1349.46" font-family="Liberation Sans" font-weight="bold" font-size="24.36" fill="#000" textLength="115.17" lengthAdjust="spacingAndGlyphs"><tspan font-family="Liberation Serif" font-weight="normal">β</tspan>-Catenin</text>
<text x="430.10" y="1404.87" font-family="Liberation Sans" font-weight="bold" font-size="23.96" fill="#000" textLength="79.14" lengthAdjust="spacingAndGlyphs">Gapdh</text>
<text x="810.10" y="1133.30" font-family="Liberation Sans" font-weight="bold" font-size="25.29" fill="#000" textLength="28.59" lengthAdjust="spacingAndGlyphs">60</text>
<text x="810.10" y="1188.30" font-family="Liberation Sans" font-weight="bold" font-size="25.29" fill="#000" textLength="28.59" lengthAdjust="spacingAndGlyphs">60</text>
<text x="810.62" y="1243.30" font-family="Liberation Sans" font-weight="bold" font-size="25.29" fill="#000" textLength="27.91" lengthAdjust="spacingAndGlyphs">46</text>
<text x="810.62" y="1297.30" font-family="Liberation Sans" font-weight="bold" font-size="25.29" fill="#000" textLength="27.91" lengthAdjust="spacingAndGlyphs">46</text>
<text x="810.10" y="1352.30" font-family="Liberation Sans" font-weight="bold" font-size="25.29" fill="#000" textLength="28.59" lengthAdjust="spacingAndGlyphs">92</text>
<text x="810.36" y="1406.40" font-family="Liberation Sans" font-weight="bold" font-size="25.29" fill="#000" textLength="28.31" lengthAdjust="spacingAndGlyphs">37</text>
<text x="875.41" y="1030.10" font-family="Liberation Sans" font-weight="bold" font-size="39.13" fill="#000" textLength="31.89" lengthAdjust="spacingAndGlyphs">M</text>
<text x="1012.39" y="1029.11" font-family="Liberation Sans" font-weight="bold" font-size="24.71" fill="#000" textLength="131.91" lengthAdjust="spacingAndGlyphs">p-AKT/AKT</text>
<rect x="965.50" y="1058.80" width="3.60" height="154.30" fill="#000" />
<rect x="962.30" y="1058.80" width="6.80" height="3.80" fill="#000" />
<rect x="962.30" y="1134.10" width="6.80" height="3.80" fill="#000" />
<rect x="962.30" y="1209.30" width="227.70" height="3.80" fill="#000" />
<text x="924.99" y="1069.40" font-family="Liberation Sans" font-weight="bold" font-size="25.71" fill="#000">7.0</text>
<text x="924.60" y="1144.70" font-family="Liberation Sans" font-weight="bold" font-size="25.71" fill="#000">3.5</text>
<text x="946.46" y="1219.90" font-family="Liberation Sans" font-weight="bold" font-size="25.71" fill="#000">0</text>
<text x="939.19" y="1243.50" font-family="Liberation Sans" font-weight="bold" font-size="24.93" fill="#000" textLength="45.53" lengthAdjust="spacingAndGlyphs">Day</text>
<text x="1019.49" y="1247.00" font-family="Liberation Sans" font-weight="bold" font-size="24.57" fill="#000">2</text>
<text x="1087.80" y="1247.00" font-family="Liberation Sans" font-weight="bold" font-size="24.57" fill="#000">3</text>
<text x="1156.06" y="1247.00" font-family="Liberation Sans" font-weight="bold" font-size="24.93" fill="#000">4</text>
<text x="-1.62" y="0.00" font-family="Liberation Sans" font-weight="bold" font-size="25.24" fill="#000" textLength="166.15" lengthAdjust="spacingAndGlyphs" transform="translate(880.30,1217.00) rotate(-90)">Relative Level</text>
<text x="-1.25" y="0.00" font-family="Liberation Sans" font-weight="bold" font-size="24.71" fill="#000" textLength="101.40" lengthAdjust="spacingAndGlyphs" transform="translate(914.81,1185.30) rotate(-90)">(protein)</text>
<line x1="1004.50" y1="1133.80" x2="1004.50" y2="1142.30" stroke="#000" stroke-width="2.5" />
<line x1="1078.70" y1="1081.40" x2="1078.70" y2="1099.80" stroke="#000" stroke-width="2.5" />
<line x1="1078.70" y1="1167.80" x2="1078.70" y2="1178.60" stroke="#000" stroke-width="2.5" />
<line x1="1153.20" y1="1149.00" x2="1153.20" y2="1155.00" stroke="#000" stroke-width="2.5" />
<polyline points="1004.50,1190.00 1078.70,1173.00 1153.20,1152.20" fill="none" stroke="#ff0000" stroke-width="5" stroke-linejoin="miter" />
<polyline points="1004.50,1138.00 1078.70,1090.00 1153.20,1162.00" fill="none" stroke="#3399ff" stroke-width="5" stroke-linejoin="miter" />
<text x="999.90" y="1130.20" font-family="Liberation Sans" font-weight="bold" font-size="21.00" fill="#000">*</text>
<text x="1074.61" y="1080.61" font-family="Liberation Sans" font-weight="bold" font-size="21.00" fill="#000">*</text>
<text x="875.56" y="1266.90" font-family="Liberation Sans" font-weight="bold" font-size="39.13" fill="#000" textLength="25.95" lengthAdjust="spacingAndGlyphs">N</text>
<text x="980.35" y="1273.48" font-family="Liberation Sans" font-weight="bold" font-size="23.83" fill="#000" textLength="195.32" lengthAdjust="spacingAndGlyphs">p-GSK3<tspan font-family="Liberation Serif" font-weight="normal">β</tspan>/GSK3<tspan font-family="Liberation Serif" font-weight="normal">β</tspan></text>
<rect x="965.20" y="1302.20" width="3.70" height="154.10" fill="#000" />
<rect x="961.60" y="1302.20" width="7.30" height="3.80" fill="#000" />
<rect x="961.60" y="1377.50" width="7.30" height="3.80" fill="#000" />
<rect x="961.60" y="1452.50" width="228.40" height="3.80" fill="#000" />
<text x="924.49" y="1312.80" font-family="Liberation Sans" font-weight="bold" font-size="25.71" fill="#000">5.0</text>
<text x="924.10" y="1388.10" font-family="Liberation Sans" font-weight="bold" font-size="25.71" fill="#000">2.5</text>
<text x="945.96" y="1463.10" font-family="Liberation Sans" font-weight="bold" font-size="25.71" fill="#000">0</text>
<text x="923.40" y="1481.00" font-family="Liberation Sans" font-weight="bold" font-size="24.64" fill="#000" textLength="45.11" lengthAdjust="spacingAndGlyphs">Day</text>
<text x="1003.66" y="1483.40" font-family="Liberation Sans" font-weight="bold" font-size="24.86" fill="#000">2</text>
<text x="1072.23" y="1483.40" font-family="Liberation Sans" font-weight="bold" font-size="24.86" fill="#000">3</text>
<text x="1139.38" y="1483.40" font-family="Liberation Sans" font-weight="bold" font-size="25.22" fill="#000">4</text>
<text x="-1.61" y="0.00" font-family="Liberation Sans" font-weight="bold" font-size="25.24" fill="#000" textLength="164.72" lengthAdjust="spacingAndGlyphs" transform="translate(880.30,1459.50) rotate(-90)">Relative Level</text>
<text x="-1.24" y="0.00" font-family="Liberation Sans" font-weight="bold" font-size="25.03" fill="#000" textLength="100.17" lengthAdjust="spacingAndGlyphs" transform="translate(914.74,1428.40) rotate(-90)">(protein)</text>
<line x1="1078.70" y1="1376.00" x2="1078.70" y2="1387.00" stroke="#000" stroke-width="2.5" />
<polyline points="1004.50,1424.75 1078.70,1415.10 1153.20,1322.20" fill="none" stroke="#ff0000" stroke-width="5" stroke-linejoin="miter" />
<polyline points="1004.50,1326.40 1078.70,1381.10 1153.20,1314.20" fill="none" stroke="#3399ff" stroke-width="5" stroke-linejoin="miter" />
<text x="998.90" y="1318.01" font-family="Liberation Sans" font-weight="bold" font-size="21.00" fill="#000">*</text>
<text x="1073.50" y="1371.90" font-family="Liberation Sans" font-weight="bold" font-size="21.00" fill="#000">*</text>
<text x="5.60" y="1262.90" font-family="Liberation Sans" font-weight="bold" font-size="39.50" fill="#000" textLength="29.21" lengthAdjust="spacingAndGlyphs">O</text>
<text x="135.76" y="1267.07" font-family="Liberation Sans" font-weight="bold" font-size="24.79" fill="#000" textLength="195.83" lengthAdjust="spacingAndGlyphs"><tspan font-family="Liberation Serif" font-weight="normal">β</tspan>-Catenin (Total)</text>
<rect x="121.90" y="1296.00" width="4.40" height="153.60" fill="#000" />
<rect x="118.90" y="1296.00" width="7.40" height="3.80" fill="#000" />
<rect x="118.90" y="1371.20" width="7.40" height="3.80" fill="#000" />
<rect x="118.90" y="1445.80" width="222.10" height="3.80" fill="#000" />
<text x="80.79" y="1306.60" font-family="Liberation Sans" font-weight="bold" font-size="25.71" fill="#000">2.0</text>
<text x="80.79" y="1381.80" font-family="Liberation Sans" font-weight="bold" font-size="25.71" fill="#000">1.0</text>
<text x="102.26" y="1456.40" font-family="Liberation Sans" font-weight="bold" font-size="25.71" fill="#000">0</text>
<text x="82.42" y="1474.00" font-family="Liberation Sans" font-weight="bold" font-size="24.64" fill="#000" textLength="44.69" lengthAdjust="spacingAndGlyphs">Day</text>
<text x="162.96" y="1476.40" font-family="Liberation Sans" font-weight="bold" font-size="24.86" fill="#000">2</text>
<text x="231.23" y="1476.40" font-family="Liberation Sans" font-weight="bold" font-size="24.86" fill="#000">3</text>
<text x="298.38" y="1476.40" font-family="Liberation Sans" font-weight="bold" font-size="25.22" fill="#000">4</text>
<text x="-1.62" y="0.00" font-family="Liberation Sans" font-weight="bold" font-size="24.55" fill="#000" textLength="166.15" lengthAdjust="spacingAndGlyphs" transform="translate(35.70,1454.20) rotate(-90)">Relative Level</text>
<text x="-1.26" y="0.00" font-family="Liberation Sans" font-weight="bold" font-size="25.24" fill="#000" textLength="102.52" lengthAdjust="spacingAndGlyphs" transform="translate(71.20,1423.00) rotate(-90)">(protein)</text>
<line x1="156.00" y1="1358.00" x2="156.00" y2="1368.00" stroke="#000" stroke-width="2.5" />
<polyline points="156.00,1373.50 228.90,1373.50 304.70,1390.00" fill="none" stroke="#ff0000" stroke-width="5" stroke-linejoin="miter" />
<polyline points="156.00,1363.30 228.90,1354.50 304.70,1326.80" fill="none" stroke="#3399ff" stroke-width="5" stroke-linejoin="miter" />
<text x="224.81" y="1349.11" font-family="Liberation Sans" font-weight="bold" font-size="21.00" fill="#000">*</text>
<text x="297.10" y="1322.90" font-family="Liberation Sans" font-weight="bold" font-size="21.00" fill="#000">*</text>
<text x="4.73" y="1506.90" font-family="Liberation Sans" font-weight="bold" font-size="39.13" fill="#000" textLength="24.34" lengthAdjust="spacingAndGlyphs">P</text>
<text x="201.65" y="1516.30" font-family="Liberation Sans" font-weight="bold" font-size="26.09" fill="#000" textLength="15.12" lengthAdjust="spacingAndGlyphs">T</text>
<rect x="119.40" y="1541.35" width="3.50" height="153.70" fill="#000" />
<rect x="115.60" y="1541.35" width="7.30" height="3.90" fill="#000" />
<rect x="115.60" y="1616.35" width="7.30" height="3.90" fill="#000" />
<rect x="115.60" y="1691.15" width="180.40" height="3.90" fill="#000" />
<text x="83.17" y="1550.50" font-family="Liberation Sans" font-weight="bold" font-size="21.43" fill="#000">1.0</text>
<text x="82.85" y="1625.50" font-family="Liberation Sans" font-weight="bold" font-size="21.43" fill="#000">0.5</text>
<text x="101.06" y="1700.30" font-family="Liberation Sans" font-weight="bold" font-size="21.43" fill="#000">0</text>
<text x="78.40" y="1715.30" font-family="Liberation Sans" font-weight="bold" font-size="21.01" fill="#000" textLength="36.69" lengthAdjust="spacingAndGlyphs">Day</text>
<text x="146.87" y="1717.00" font-family="Liberation Sans" font-weight="bold" font-size="19.57" fill="#000">2</text>
<text x="198.87" y="1717.00" font-family="Liberation Sans" font-weight="bold" font-size="19.57" fill="#000">3</text>
<text x="250.69" y="1717.00" font-family="Liberation Sans" font-weight="bold" font-size="19.86" fill="#000">4</text>
<text x="-1.33" y="0.00" font-family="Liberation Sans" font-weight="bold" font-size="20.28" fill="#000" textLength="167.39" lengthAdjust="spacingAndGlyphs" transform="translate(50.90,1706.20) rotate(-90)">Relative Level*10</text>
<text x="-0.55" y="0.00" font-family="Liberation Sans" font-weight="bold" font-size="15.43" fill="#000" textLength="12.13" lengthAdjust="spacingAndGlyphs" transform="translate(44.20,1541.00) rotate(-90)">3</text>
<text x="-1.03" y="0.00" font-family="Liberation Sans" font-weight="bold" font-size="20.64" fill="#000" textLength="76.69" lengthAdjust="spacingAndGlyphs" transform="translate(77.77,1654.70) rotate(-90)">(mRNA)</text>
<rect x="197.75" y="1681.25" width="3.00" height="4.75" fill="#555555" />
<rect x="195.45" y="1681.25" width="7.60" height="3.20" fill="#555555" />
<rect x="190.50" y="1685.50" width="17.50" height="5.80" fill="#ff0000" />
<rect x="215.25" y="1687.00" width="3.00" height="3.50" fill="#555555" />
<rect x="212.95" y="1687.00" width="7.60" height="3.20" fill="#555555" />
<rect x="208.00" y="1690.00" width="17.50" height="1.30" fill="#3399ff" />
<rect x="250.25" y="1606.25" width="3.00" height="3.00" fill="#555555" />
<rect x="247.95" y="1606.25" width="7.60" height="3.20" fill="#555555" />
<rect x="243.00" y="1608.75" width="17.50" height="82.55" fill="#ff0000" />
<rect x="267.75" y="1553.75" width="3.00" height="17.25" fill="#555555" />
<rect x="265.45" y="1553.75" width="7.60" height="3.20" fill="#555555" />
<rect x="260.50" y="1570.50" width="17.50" height="120.80" fill="#3399ff" />
<text x="264.30" y="1545.85" font-family="Liberation Sans" font-weight="bold" font-size="19.00" fill="#000">*</text>
<text x="449.63" y="1516.60" font-family="Liberation Sans" font-weight="bold" font-size="26.59" fill="#000" textLength="81.75" lengthAdjust="spacingAndGlyphs">Eomes</text>
<rect x="401.00" y="1541.35" width="4.00" height="153.70" fill="#000" />
<rect x="397.90" y="1541.35" width="7.10" height="3.90" fill="#000" />
<rect x="397.90" y="1616.35" width="7.10" height="3.90" fill="#000" />
<rect x="397.90" y="1691.15" width="180.10" height="3.90" fill="#000" />
<text x="365.27" y="1550.50" font-family="Liberation Sans" font-weight="bold" font-size="21.43" fill="#000">8.0</text>
<text x="365.27" y="1625.50" font-family="Liberation Sans" font-weight="bold" font-size="21.43" fill="#000">4.0</text>
<text x="383.16" y="1700.30" font-family="Liberation Sans" font-weight="bold" font-size="21.43" fill="#000">0</text>
<text x="359.92" y="1715.30" font-family="Liberation Sans" font-weight="bold" font-size="21.01" fill="#000" textLength="37.68" lengthAdjust="spacingAndGlyphs">Day</text>
<text x="429.12" y="1717.00" font-family="Liberation Sans" font-weight="bold" font-size="19.57" fill="#000">2</text>
<text x="480.92" y="1717.00" font-family="Liberation Sans" font-weight="bold" font-size="19.57" fill="#000">3</text>
<text x="533.14" y="1717.00" font-family="Liberation Sans" font-weight="bold" font-size="19.86" fill="#000">4</text>
<text x="-1.33" y="0.00" font-family="Liberation Sans" font-weight="bold" font-size="20.28" fill="#000" textLength="167.39" lengthAdjust="spacingAndGlyphs" transform="translate(332.50,1706.20) rotate(-90)">Relative Level*10</text>
<text x="-0.30" y="0.00" font-family="Liberation Sans" font-weight="bold" font-size="15.65" fill="#000" textLength="11.23" lengthAdjust="spacingAndGlyphs" transform="translate(325.80,1541.00) rotate(-90)">4</text>
<text x="-1.03" y="0.00" font-family="Liberation Sans" font-weight="bold" font-size="20.64" fill="#000" textLength="76.69" lengthAdjust="spacingAndGlyphs" transform="translate(359.37,1654.70) rotate(-90)">(mRNA)</text>
<rect x="427.25" y="1684.50" width="3.00" height="3.50" fill="#555555" />
<rect x="424.95" y="1684.50" width="7.60" height="3.20" fill="#555555" />
<rect x="420.00" y="1687.50" width="17.50" height="3.80" fill="#ff0000" />
<rect x="444.75" y="1687.50" width="3.00" height="3.50" fill="#555555" />
<rect x="442.45" y="1687.50" width="7.60" height="3.20" fill="#555555" />
<rect x="437.50" y="1690.50" width="17.50" height="0.80" fill="#3399ff" />
<rect x="480.00" y="1677.50" width="3.00" height="3.00" fill="#555555" />
<rect x="477.70" y="1677.50" width="7.60" height="3.20" fill="#555555" />
<rect x="472.50" y="1680.00" width="18.00" height="11.30" fill="#ff0000" />
<rect x="497.75" y="1678.00" width="3.00" height="4.50" fill="#555555" />
<rect x="495.45" y="1678.00" width="7.60" height="3.20" fill="#555555" />
<rect x="490.50" y="1682.00" width="17.50" height="9.30" fill="#3399ff" />
<rect x="532.75" y="1612.50" width="3.00" height="5.00" fill="#555555" />
<rect x="530.45" y="1612.50" width="7.60" height="3.20" fill="#555555" />
<rect x="525.50" y="1617.00" width="17.50" height="74.30" fill="#ff0000" />
<rect x="550.25" y="1571.25" width="3.00" height="2.25" fill="#555555" />
<rect x="547.95" y="1571.25" width="7.60" height="3.20" fill="#555555" />
<rect x="543.00" y="1573.00" width="17.50" height="118.30" fill="#3399ff" />
<text x="547.04" y="1562.10" font-family="Liberation Sans" font-weight="bold" font-size="19.00" fill="#000">*</text>
<text x="735.40" y="1516.50" font-family="Liberation Sans" font-weight="bold" font-size="26.52" fill="#000" textLength="76.52" lengthAdjust="spacingAndGlyphs">Mesp1</text>
<rect x="683.40" y="1541.35" width="4.00" height="153.70" fill="#000" />
<rect x="680.00" y="1541.35" width="7.40" height="3.90" fill="#000" />
<rect x="680.00" y="1616.35" width="7.40" height="3.90" fill="#000" />
<rect x="680.00" y="1691.15" width="180.50" height="3.90" fill="#000" />
<text x="646.49" y="1550.50" font-family="Liberation Sans" font-weight="bold" font-size="21.74" fill="#000">1.4</text>
<text x="647.67" y="1625.50" font-family="Liberation Sans" font-weight="bold" font-size="21.43" fill="#000">0.7</text>
<text x="665.56" y="1700.30" font-family="Liberation Sans" font-weight="bold" font-size="21.43" fill="#000">0</text>
<text x="642.42" y="1715.30" font-family="Liberation Sans" font-weight="bold" font-size="21.01" fill="#000" textLength="37.68" lengthAdjust="spacingAndGlyphs">Day</text>
<text x="711.62" y="1717.00" font-family="Liberation Sans" font-weight="bold" font-size="19.57" fill="#000">2</text>
<text x="763.42" y="1717.00" font-family="Liberation Sans" font-weight="bold" font-size="19.57" fill="#000">3</text>
<text x="815.64" y="1717.00" font-family="Liberation Sans" font-weight="bold" font-size="19.86" fill="#000">4</text>
<text x="-1.33" y="0.00" font-family="Liberation Sans" font-weight="bold" font-size="20.28" fill="#000" textLength="167.39" lengthAdjust="spacingAndGlyphs" transform="translate(614.90,1706.20) rotate(-90)">Relative Level*10</text>
<text x="-0.55" y="0.00" font-family="Liberation Sans" font-weight="bold" font-size="15.43" fill="#000" textLength="12.13" lengthAdjust="spacingAndGlyphs" transform="translate(608.20,1541.00) rotate(-90)">3</text>
<text x="-1.03" y="0.00" font-family="Liberation Sans" font-weight="bold" font-size="20.64" fill="#000" textLength="76.69" lengthAdjust="spacingAndGlyphs" transform="translate(641.77,1654.70) rotate(-90)">(mRNA)</text>
<rect x="709.75" y="1688.75" width="3.00" height="3.75" fill="#555555" />
<rect x="707.45" y="1688.75" width="7.60" height="3.20" fill="#555555" />
<rect x="702.50" y="1692.00" width="17.50" height="-0.70" fill="#ff0000" />
<rect x="727.25" y="1688.00" width="3.00" height="3.00" fill="#555555" />
<rect x="724.95" y="1688.00" width="7.60" height="3.20" fill="#555555" />
<rect x="720.00" y="1690.50" width="17.50" height="0.80" fill="#3399ff" />
<rect x="762.25" y="1688.00" width="3.00" height="2.00" fill="#555555" />
<rect x="759.95" y="1688.00" width="7.60" height="3.20" fill="#555555" />
<rect x="755.00" y="1689.50" width="17.50" height="1.80" fill="#ff0000" />
<rect x="780.00" y="1686.25" width="3.00" height="3.75" fill="#555555" />
<rect x="777.70" y="1686.25" width="7.60" height="3.20" fill="#555555" />
<rect x="772.50" y="1689.50" width="18.00" height="1.80" fill="#3399ff" />
<rect x="815.25" y="1586.25" width="3.00" height="8.75" fill="#555555" />
<rect x="812.95" y="1586.25" width="7.60" height="3.20" fill="#555555" />
<rect x="808.00" y="1594.50" width="17.50" height="96.80" fill="#ff0000" />
<rect x="832.75" y="1557.00" width="3.00" height="2.25" fill="#555555" />
<rect x="830.45" y="1557.00" width="7.60" height="3.20" fill="#555555" />
<rect x="825.50" y="1558.75" width="17.50" height="132.55" fill="#3399ff" />
<text x="829.29" y="1548.35" font-family="Liberation Sans" font-weight="bold" font-size="19.00" fill="#000">*</text>
<text x="1032.10" y="1516.50" font-family="Liberation Sans" font-weight="bold" font-size="26.57" fill="#000" textLength="47.25" lengthAdjust="spacingAndGlyphs">Gsc</text>
<rect x="966.00" y="1541.35" width="4.00" height="153.70" fill="#000" />
<rect x="962.70" y="1541.35" width="7.30" height="3.90" fill="#000" />
<rect x="962.70" y="1616.35" width="7.30" height="3.90" fill="#000" />
<rect x="962.70" y="1691.15" width="180.60" height="3.90" fill="#000" />
<text x="930.27" y="1550.50" font-family="Liberation Sans" font-weight="bold" font-size="21.43" fill="#000">4.0</text>
<text x="930.27" y="1625.50" font-family="Liberation Sans" font-weight="bold" font-size="21.43" fill="#000">2.0</text>
<text x="948.16" y="1700.30" font-family="Liberation Sans" font-weight="bold" font-size="21.43" fill="#000">0</text>
<text x="925.32" y="1715.30" font-family="Liberation Sans" font-weight="bold" font-size="21.01" fill="#000" textLength="36.17" lengthAdjust="spacingAndGlyphs">Day</text>
<text x="994.02" y="1717.00" font-family="Liberation Sans" font-weight="bold" font-size="19.57" fill="#000">2</text>
<text x="1045.87" y="1717.00" font-family="Liberation Sans" font-weight="bold" font-size="19.57" fill="#000">3</text>
<text x="1098.09" y="1717.00" font-family="Liberation Sans" font-weight="bold" font-size="19.86" fill="#000">4</text>
<text x="-1.33" y="0.00" font-family="Liberation Sans" font-weight="bold" font-size="20.28" fill="#000" textLength="167.39" lengthAdjust="spacingAndGlyphs" transform="translate(897.50,1706.20) rotate(-90)">Relative Level*10</text>
<text x="-0.55" y="0.00" font-family="Liberation Sans" font-weight="bold" font-size="15.43" fill="#000" textLength="12.13" lengthAdjust="spacingAndGlyphs" transform="translate(890.80,1541.00) rotate(-90)">3</text>
<text x="-1.03" y="0.00" font-family="Liberation Sans" font-weight="bold" font-size="20.64" fill="#000" textLength="76.69" lengthAdjust="spacingAndGlyphs" transform="translate(924.37,1654.70) rotate(-90)">(mRNA)</text>
<rect x="992.20" y="1688.00" width="3.00" height="2.70" fill="#555555" />
<rect x="989.90" y="1688.00" width="7.60" height="3.20" fill="#555555" />
<rect x="985.20" y="1690.20" width="17.00" height="1.10" fill="#ff0000" />
<rect x="1009.60" y="1688.20" width="3.00" height="4.30" fill="#555555" />
<rect x="1007.30" y="1688.20" width="7.60" height="3.20" fill="#555555" />
<rect x="1002.20" y="1692.00" width="17.80" height="-0.70" fill="#3399ff" />
<rect x="1045.00" y="1688.00" width="3.00" height="2.70" fill="#555555" />
<rect x="1042.70" y="1688.00" width="7.60" height="3.20" fill="#555555" />
<rect x="1038.00" y="1690.20" width="17.00" height="1.10" fill="#ff0000" />
<rect x="1062.25" y="1684.60" width="3.00" height="4.90" fill="#555555" />
<rect x="1059.95" y="1684.60" width="7.60" height="3.20" fill="#555555" />
<rect x="1055.00" y="1689.00" width="17.50" height="2.30" fill="#3399ff" />
<rect x="1098.00" y="1626.00" width="3.00" height="4.10" fill="#555555" />
<rect x="1095.70" y="1626.00" width="7.60" height="3.20" fill="#555555" />
<rect x="1091.00" y="1629.60" width="17.00" height="61.70" fill="#ff0000" />
<rect x="1115.40" y="1569.20" width="3.00" height="9.90" fill="#555555" />
<rect x="1113.10" y="1569.20" width="7.60" height="3.20" fill="#555555" />
<rect x="1108.00" y="1578.60" width="17.80" height="112.70" fill="#3399ff" />
<text x="1111.80" y="1560.39" font-family="Liberation Sans" font-weight="bold" font-size="19.00" fill="#000">*</text></svg></body></html>
